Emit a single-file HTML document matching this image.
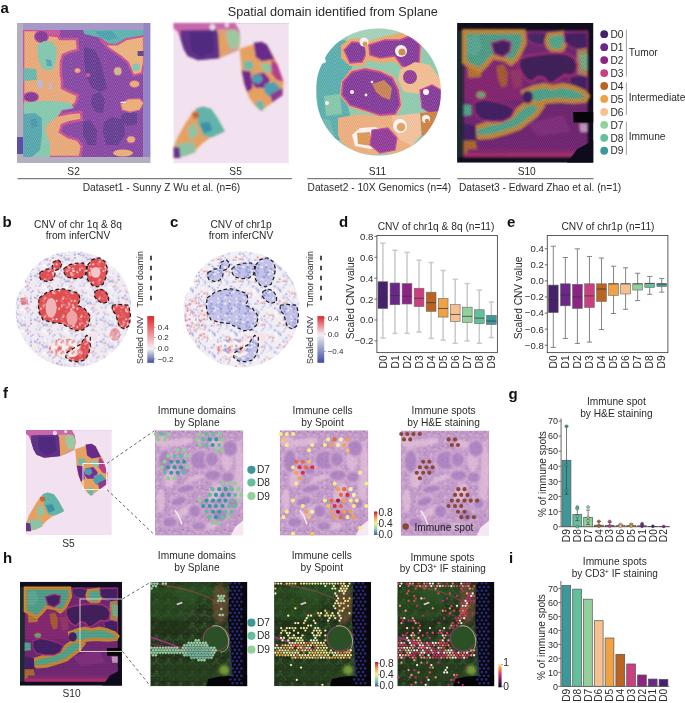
<!DOCTYPE html>
<html><head><meta charset="utf-8"><style>
html,body{margin:0;padding:0;background:#fff;}
svg{display:block;font-family:"Liberation Sans", sans-serif;}
svg{will-change:transform;}
</style></head><body>
<svg width="685" height="703" viewBox="0 0 685 703">
<rect width="685" height="703" fill="#fff"/><text x="0.5" y="13" font-size="15" text-anchor="start" font-weight="bold" fill="#111" >a</text><text x="332.8" y="16.4" font-size="12.7" text-anchor="middle" font-weight="normal" fill="#2b2b2b" >Spatial domain identified from Splane</text><defs><filter id="bl1" x="-5%" y="-5%" width="110%" height="110%"><feGaussianBlur stdDeviation="4"/></filter><filter id="bl2" x="-5%" y="-5%" width="110%" height="110%"><feGaussianBlur stdDeviation="6"/></filter><clipPath id="cS2"><rect x="10" y="15" width="647" height="678"/></clipPath><clipPath id="cS2in"><rect x="40" y="45" width="585" height="610"/></clipPath></defs><defs><pattern id="hexL" width="2.2" height="3.81" patternUnits="userSpaceOnUse"><circle cx="0" cy="0" r="0.55" fill="#f4f0f4" opacity="0.55"/><circle cx="2.2" cy="0" r="0.55" fill="#f4f0f4" opacity="0.55"/><circle cx="1.1" cy="1.905" r="0.55" fill="#f4f0f4" opacity="0.55"/><circle cx="0" cy="3.81" r="0.55" fill="#f4f0f4" opacity="0.55"/><circle cx="2.2" cy="3.81" r="0.55" fill="#f4f0f4" opacity="0.55"/></pattern><pattern id="hexD" width="10.6" height="18" patternUnits="userSpaceOnUse"><circle cx="0" cy="0" r="2.6" fill="#0c0a18" opacity="0.5"/><circle cx="10.6" cy="0" r="2.6" fill="#0c0a18" opacity="0.5"/><circle cx="5.3" cy="9" r="2.6" fill="#0c0a18" opacity="0.5"/><circle cx="0" cy="18" r="2.6" fill="#0c0a18" opacity="0.5"/><circle cx="10.6" cy="18" r="2.6" fill="#0c0a18" opacity="0.5"/></pattern></defs><defs><clipPath id="cS2a"><rect x="17" y="23" width="133.5" height="140"/></clipPath><clipPath id="cS2b"><rect x="23" y="30" width="120.5" height="127"/></clipPath></defs><g clip-path="url(#cS2a)"><g filter="url(#blA)"><polygon points="15,20 152,20 152,165 15,165" fill="#b3afc1" /><polygon points="23,23 150.5,23 150.5,30 23,30" fill="#a698c8" /><polygon points="143.5,23 150.5,23 150.5,157 143.5,157" fill="#9484c6" /><polygon points="17,137 23.5,137 23.5,154 17,154" fill="#5a50a8" /><g clip-path="url(#cS2b)"><polygon points="23,30 143.5,30 143.5,157 23,157" fill="#7e3a9c" /><polygon points="23,30 47,30 48,35 58,36 60,39 77,39 78,50 70,52 63,55 61,62 61,75 62,80 62,88 70,92 78,95 76,103 70,108 62,110 60,115 70,113 81,112 82,120 70,122 62,125 60,132 68,137 78,140 82,146 80,157 23,157" fill="#e6a26e" stroke="#c2448e" stroke-width="2.6"/><polygon points="47,30 60,30 60,35 48,35" fill="#c04a94" /><ellipse cx="41.5" cy="36.5" rx="7" ry="6" fill="#7a2c8c" stroke="#c04a94" stroke-width="1.2"/><polygon points="37.4,45 44,41 52,42 56.6,48 56,60 54,68 48,71 42,68 38,58" fill="#78c2a8" /><polygon points="46,59 51,60 52,66 47,66" fill="#4a9cb0" /><polygon points="23.5,68 36.3,69 37,80 23.5,81" fill="#5eb2a8" /><polygon points="37.4,80 42.7,80 42.7,88 37.4,88" fill="#b8b2cc" /><polygon points="49,83 52,83 52,89 49,89" fill="#b8b2cc" /><ellipse cx="31" cy="97" rx="7.5" ry="5" fill="#7a2c8c" stroke="#c04a94" stroke-width="1.2"/><polygon points="23.5,103 40,101 55,101 70,103 74,108 62,110 58,116 50,122 45,128 47,136 50,143 50,157 23.5,157" fill="#7cc4a8" /><polygon points="23.5,114 35,113 41.7,118 42,135 40,150 32,157 23.5,157" fill="#4aa0a8" /><polygon points="30,120 36,118 38,126 32,128" fill="#3c90a8" /><polygon points="83,29.6 144,29.6 144,36 125.9,39.2 117.3,44.5 107.7,44.5 101.3,38.1 84.3,33.9" fill="#52aca8" /><polygon points="95,31 112,31 118,38 108,40 98,35" fill="#3e9ca8" /><polygon points="99.2,38.1 107.7,44.5 117.3,44.5 125.9,39.2 144,36 144,62.7 141.9,73.3 133.3,75.5 128,62.7 120.5,56.3 107.7,47.7" fill="#e8ac74" stroke="#c2448e" stroke-width="2.2"/><ellipse cx="136" cy="67.3" rx="4" ry="3.8" fill="#78c2a8"/><ellipse cx="117.8" cy="71.2" rx="4" ry="4.2" fill="#e8a86c" stroke="#c04a94" stroke-width="0.8"/><circle cx="117.8" cy="71.2" r="2" fill="#8cc8a8"/><polygon points="84,47 95,50 100,60 104,75 107,89 100,92 92,88 86,75 84,60" fill="#5a3088" /><polygon points="92,95 100,92 105,100 103,113 96,112 91,104" fill="#5a3088" /><polygon points="83,122 90,120 97,130 96,145 88,145 83,135" fill="#5a3088" /><polygon points="104,122 112,117 124,120 125,135 118,145 106,145 103,132" fill="#5a3088" /><polygon points="121,115 130,111 137,113 137,124 128,126 121,122" fill="#5a3088" /><polygon points="137.6,51 144,51 144,56 137.6,56" fill="#5a3088" /><polygon points="120.5,104 128,99 140,98.5 144,103 140,110 130,112.4 122,110" fill="#e8a86c" stroke="#c04a94" stroke-width="1.2"/><polygon points="120.5,101.7 126,101.7 126,102.9 120.5,102.9" fill="#f4f0f4" /><ellipse cx="131" cy="139.5" rx="4.2" ry="3.5" fill="#e8a86c" stroke="#c04a94" stroke-width="0.8"/><ellipse cx="123" cy="153" rx="10" ry="3.5" fill="#e8a86c"/><ellipse cx="134.5" cy="84" rx="5" ry="3.5" fill="#e8a86c" stroke="#c04a94" stroke-width="0.8"/><ellipse cx="88" cy="75" rx="2.5" ry="2" fill="#c04a94"/><ellipse cx="77.5" cy="70.5" rx="3" ry="2.6" fill="#e8a86c" stroke="#c04a94" stroke-width="0.8"/><rect x="15" y="20" width="137" height="145" fill="url(#hexL)"/></g></g></g><defs><g id="artS5"><g transform="translate(165 20) scale(0.2061)"><polygon points="42,15 600,15 600,695 42,695" fill="#f2e1ee" /><line x1="330" y1="17" x2="600" y2="17" stroke="#c6b6dc" stroke-width="4" stroke-dasharray="6,8"/><g filter="url(#bl1)"><polygon points="42,15 340,15 360,50 365,100 355,145 300,170 250,185 160,195 110,175 90,140 75,90 60,55 42,40" fill="#c862a8" /><polygon points="75,50 250,45 270,100 265,185 160,195 110,175 90,140 75,90" fill="#5e3088" /><polygon points="120,60 230,60 240,150 180,180 130,150" fill="#4f2a7e" /><polygon points="250,45 340,40 365,80 360,140 300,170 265,185 270,100" fill="#dca07e" /><polygon points="300,50 350,50 365,90 355,135 320,140 300,100" fill="#9cc8a0" /><polygon points="258,70 295,70 300,160 265,180" fill="#e8a060" /><polygon points="42,15 340,15 345,45 250,45 75,50 60,55 42,40" fill="#c868ac" /><circle cx="230" cy="35" r="14" fill="#efd8ec"/><circle cx="300" cy="25" r="10" fill="#efd8ec"/><polygon points="362,140 470,105 495,120 540,200 575,300 570,365 465,440 440,420 410,380 380,300 372,250" fill="#e6a062" /><polygon points="430,110 470,105 495,120 530,190 470,200 440,180" fill="#6a2c8c" /><polygon points="372,245 415,250 425,330 400,350 385,310" fill="#6f2c8e" /><polygon points="430,265 480,255 510,290 490,330 440,330 420,300" fill="#7a2e90" /><polygon points="520,190 545,215 575,300 540,290 510,250" fill="#b83c8c" /><polygon points="380,200 425,200 430,240 385,240" fill="#6fbaa8" /><polygon points="425,265 465,265 475,290 455,310 425,300" fill="#4a9fb0" /><polygon points="485,310 530,300 560,330 545,370 500,370 480,345" fill="#4f9fb0" /><polygon points="440,395 475,390 480,435 465,440 445,420" fill="#6ab8a8" /><polygon points="460,210 510,215 520,250 480,255" fill="#8ec4a0" /><polygon points="510,360 570,330 570,365 520,400" fill="#8a3a92" /><polygon points="42,620 60,570 100,500 140,440 180,420 220,430 250,470 290,540 270,550 220,570 180,600 140,640 100,660 60,665 42,670" fill="#e6a062" /><polygon points="150,430 185,420 225,432 255,475 290,540 270,550 225,570 185,560 160,500" fill="#62b3aa" /><polygon points="170,500 215,495 230,535 190,550" fill="#3d90aa" /><polygon points="110,520 150,500 160,560 120,580" fill="#8dc4a2" /><polygon points="60,600 140,590 150,640 100,660 60,665" fill="#8ec2a2" /><polygon points="42,615 70,620 75,670 42,670" fill="#6a3090" /><polygon points="130,450 160,445 170,470 140,480" fill="#c06840" /></g></g></defs><use href="#artS5"/><defs><clipPath id="cS11a"><path d="M378.3,28.6 C414,28.6 441,57 441,92 C441,127 414,155.5 378.3,155.5 C343,155.5 316,127 316,92 C316,80 318,72 322,64 L326,62 L325,58 C335,40 355,28.6 378.3,28.6 Z"/></clipPath></defs><g clip-path="url(#cS11a)"><g filter="url(#blA)"><polygon points="310,25 446,25 446,160 310,160" fill="#86c6a8" /><polygon points="347,29 405,29 405,41 347,41" fill="#9ccdb2" /><polygon points="316,60 330,42 345,40 355,55 350,75 345,95 350,115 345,140 330,140 318,120" fill="#4fa8a8" /><polygon points="324,96 340,94 342,114 326,116" fill="#7cc2a4" /><polygon points="318,118 330,120 335,138 322,136" fill="#62b4a8" /><polygon points="341,45 350,39 362,38 371,46 369,58 364,66 350,66 341,58" fill="#e8a262" /><polygon points="344,50 352,42 362,43 367,52 362,62 350,63" fill="#792e90" stroke="#c23c8c" stroke-width="1.4"/><polygon points="365,42 386,36 400,33 414,33 422,44 421,62 416,70 404,70 395,62 380,63 366,60" fill="#e8a262" /><polygon points="369,45 385,40 400,40 410,36 420,45 419,62 412,68 402,66 395,56 380,58 370,55" fill="#7c2e92" stroke="#c23c8c" stroke-width="1.6"/><polygon points="400,70 415,62 430,65 441,80 441,95 428,98 420,94 404,92 398,80" fill="#f0b888" /><polygon points="341,82 350,70 365,67 381,70 394,76 400,88 402,106 396,116 380,117 364,112 349,107 340,96" fill="#e8a262" /><polygon points="343,82 352,72 365,69 380,72 392,78 398,90 400,105 395,114 380,115 365,110 350,105 342,95" fill="#7a2e90" stroke="#c23c8c" stroke-width="1.8"/><polygon points="372,84 384,80 392,88 390,100 382,97 376,92" fill="#c27a4a" /><ellipse cx="410" cy="77" rx="7" ry="7" fill="#8a3090"/><polygon points="420,90 432,85 441,90 441,110 432,114 422,108" fill="#7a2e90" stroke="#c23c8c" stroke-width="1.2"/><polygon points="420,113 440,111 438,135 422,136" fill="#c87838" /><polygon points="338,118 360,114 380,117 400,116 420,113 421,135 410,148 395,153 370,155 345,150 338,135" fill="#eaa874" /><polygon points="392,116 420,113 421,135 412,146 400,140 394,128" fill="#f0bc94" /><polygon points="338,140 352,150 366,156 340,156" fill="#7cc2a4" /><polygon points="352,135 360,128 375,127 388,132 391,140 385,147 370,149 355,146" fill="#faf2ee" /><polygon points="357,133 370,132 372,146 358,144" fill="#d89048" /><polygon points="372,130 388,128 397,138 395,150 380,153 370,145" fill="#8a2e90" stroke="#c23c8c" stroke-width="1.2"/></g><circle cx="364" cy="42" r="4.5" fill="#fbf4f2"/><circle cx="365" cy="44" r="2.4" fill="#d88a48"/><circle cx="401" cy="51" r="6" fill="#fbf4f2"/><circle cx="402" cy="52" r="3.6" fill="#c88048"/><circle cx="352" cy="92" r="2" fill="#f8f0f0"/><circle cx="366" cy="95" r="1.4" fill="#f8f0f0"/><circle cx="372" cy="82" r="1.3" fill="#f8f0f0"/><circle cx="426" cy="92" r="3" fill="#fbf4f2"/><circle cx="426" cy="119" r="4" fill="#fbf4f2"/><circle cx="427" cy="121" r="2.2" fill="#c87838"/><circle cx="400" cy="126" r="7" fill="#fbf4f2"/><circle cx="401" cy="127" r="4.3" fill="#e09a58"/><circle cx="327" cy="103" r="2" fill="#f4f4f4"/><rect x="310" y="25" width="136" height="135" fill="url(#hexL)"/></g><defs><clipPath id="cS10z"><rect x="10" y="5" width="658" height="660"/></clipPath></defs><defs><g id="artS10"><g transform="translate(455 22) scale(0.2073 0.2115)"><g clip-path="url(#cS10z)"><polygon points="10,5 668,5 668,665 10,665" fill="#100e1e" /><polygon points="10,40 40,40 40,640 10,640" fill="#1e2a30" /><g filter="url(#bl1)"><polygon points="40,40 640,40 640,640 40,640" fill="#782a78" /><polygon points="45,180 320,180 330,370 45,370" fill="#8e2a78" /><polygon points="60,210 120,205 125,260 65,265" fill="#c27a34" /><polygon points="200,210 235,200 255,240 250,300 225,310 208,270" fill="#b46038" /><polygon points="265,230 315,225 325,300 285,320" fill="#a03a6c" /><polygon points="45,45 330,45 335,100 300,170 270,195 240,175 180,165 150,200 120,230 80,210 45,190" fill="#56aa90" stroke="#d0903a" stroke-width="22"/><polygon points="60,70 110,60 130,120 100,160 60,150" fill="#62b49e" /><polygon points="175,100 230,85 270,95 265,140 230,165 190,150" fill="#4c2468" stroke="#a83080" stroke-width="8"/><polygon points="345,50 400,45 450,55 445,100 410,110 370,100 350,80" fill="#4c2a6c" stroke="#a83080" stroke-width="6"/><polygon points="450,60 520,50 540,80 520,130 480,140 450,120 440,90" fill="#5ab294" stroke="#d0903a" stroke-width="18"/><polygon points="525,50 640,45 640,120 600,130 560,120 530,95" fill="#4a2468" stroke="#a83080" stroke-width="6"/><polygon points="590,130 640,125 640,270 595,265 585,200" fill="#b88a5a" /><polygon points="600,150 640,150 640,230 610,220" fill="#7ab890" /><polygon points="310,175 350,160 420,150 480,145 540,150 575,170 590,200 585,240 560,255 530,250 500,270 470,290 450,290 430,265 400,260 370,285 340,270 320,240 305,210" fill="#44205e" stroke="#b03080" stroke-width="10"/><polygon points="550,260 600,250 640,260 640,340 600,345 560,320" fill="#46226a" stroke="#a83080" stroke-width="6"/><polygon points="330,330 380,310 430,300 470,310 520,300 570,310 620,330 640,350 630,370 570,375 500,370 440,375 400,390 370,380 340,370" fill="#56ae92" stroke="#d0903a" stroke-width="22"/><polygon points="380,380 420,400 390,440 350,470 310,500 250,520 180,540 120,545 90,530 100,500 160,480 220,470 270,450 310,410 340,390" fill="#56ae92" stroke="#d0903a" stroke-width="22"/><polygon points="90,380 140,365 200,375 250,390 290,410 270,450 230,470 170,470 120,460 95,430" fill="#46226a" stroke="#a83080" stroke-width="8"/><ellipse cx="350" cy="355" rx="26" ry="30" fill="#46226a"/><ellipse cx="125" cy="345" rx="20" ry="14" fill="#5ab294" stroke="#c88a38" stroke-width="6"/><polygon points="40,480 100,490 105,580 40,590" fill="#46226a" /><polygon points="40,390 78,392 80,440 40,445" fill="#5aae92" /><polygon points="40,560 100,560 110,625 40,630" fill="#b8702e" /><polygon points="110,560 640,545 640,635 110,635" fill="#7a2a7a" /><polygon points="60,600 640,600 640,635 60,635" fill="#8c2c7a" /><polygon points="350,480 520,440 560,520 400,540" fill="#8a3286" /><polygon points="40,620 640,618 640,640 40,640" fill="#b0306e" /><polygon points="600,480 640,480 640,520 605,520" fill="#d0a0c8" /></g><rect x="40" y="40" width="600" height="600" fill="url(#hexD)" transform="scale(1)"/><polygon points="570,425 668,425 668,475 572,475" fill="#060608" /><polygon points="590,600 668,560 668,665 540,665" fill="#0e0c1c" /></g></g></g></defs><use href="#artS10"/><text x="73.6" y="175.2" font-size="10.2" text-anchor="middle" font-weight="normal" fill="#2b2b2b" >S2</text><text x="235.6" y="175.2" font-size="10.2" text-anchor="middle" font-weight="normal" fill="#2b2b2b" >S5</text><text x="377.5" y="175.2" font-size="10.2" text-anchor="middle" font-weight="normal" fill="#2b2b2b" >S11</text><text x="526.7" y="175.2" font-size="10.2" text-anchor="middle" font-weight="normal" fill="#2b2b2b" >S10</text><line x1="17.5" y1="178.7" x2="292" y2="178.7" stroke="#333" stroke-width="0.8" /><line x1="307.3" y1="178.7" x2="440.5" y2="178.7" stroke="#333" stroke-width="0.8" /><line x1="457.3" y1="178.7" x2="593.5" y2="178.7" stroke="#333" stroke-width="0.8" /><text x="161.5" y="191" font-size="10.2" text-anchor="middle" font-weight="normal" fill="#2b2b2b" >Dataset1 - Sunny Z Wu et al. (n=6)</text><text x="307.6" y="191" font-size="10.2" text-anchor="start" font-weight="normal" fill="#2b2b2b" >Dataset2 - 10X Genomics (n=4)</text><text x="459" y="191" font-size="10.2" text-anchor="start" font-weight="normal" fill="#2b2b2b" >Dataset3 - Edward Zhao et al. (n=1)</text><circle cx="604.2" cy="34.20" r="3.9" fill="#46226c"/><text x="610.5" y="37.900000000000006" font-size="10.2" text-anchor="start" font-weight="normal" fill="#2b2b2b" >D0</text><circle cx="604.2" cy="47.15" r="3.9" fill="#6b2788"/><text x="610.5" y="50.85000000000001" font-size="10.2" text-anchor="start" font-weight="normal" fill="#2b2b2b" >D1</text><circle cx="604.2" cy="60.10" r="3.9" fill="#8b2483"/><text x="610.5" y="63.800000000000004" font-size="10.2" text-anchor="start" font-weight="normal" fill="#2b2b2b" >D2</text><circle cx="604.2" cy="73.05" r="3.9" fill="#c9407f"/><text x="610.5" y="76.75" font-size="10.2" text-anchor="start" font-weight="normal" fill="#2b2b2b" >D3</text><circle cx="604.2" cy="86.00" r="3.9" fill="#bb6322"/><text x="610.5" y="89.7" font-size="10.2" text-anchor="start" font-weight="normal" fill="#2b2b2b" >D4</text><circle cx="604.2" cy="98.95" r="3.9" fill="#eea243"/><text x="610.5" y="102.65" font-size="10.2" text-anchor="start" font-weight="normal" fill="#2b2b2b" >D5</text><circle cx="604.2" cy="111.90" r="3.9" fill="#f5c190"/><text x="610.5" y="115.6" font-size="10.2" text-anchor="start" font-weight="normal" fill="#2b2b2b" >D6</text><circle cx="604.2" cy="124.85" r="3.9" fill="#93d09a"/><text x="610.5" y="128.54999999999998" font-size="10.2" text-anchor="start" font-weight="normal" fill="#2b2b2b" >D7</text><circle cx="604.2" cy="137.80" r="3.9" fill="#62c19a"/><text x="610.5" y="141.5" font-size="10.2" text-anchor="start" font-weight="normal" fill="#2b2b2b" >D8</text><circle cx="604.2" cy="150.75" r="3.9" fill="#3d9899"/><text x="610.5" y="154.45" font-size="10.2" text-anchor="start" font-weight="normal" fill="#2b2b2b" >D9</text><line x1="626.4" y1="29.6" x2="626.4" y2="76.5" stroke="#999" stroke-width="0.9" /><line x1="626.4" y1="82.5" x2="626.4" y2="115" stroke="#999" stroke-width="0.9" /><line x1="626.4" y1="121.5" x2="626.4" y2="155" stroke="#999" stroke-width="0.9" /><text x="628.7" y="56" font-size="10.2" text-anchor="start" font-weight="normal" fill="#2b2b2b" >Tumor</text><text x="628.7" y="101" font-size="10.2" text-anchor="start" font-weight="normal" fill="#2b2b2b" >Intermediate</text><text x="628.7" y="140" font-size="10.2" text-anchor="start" font-weight="normal" fill="#2b2b2b" >Immune</text><text x="2.5" y="227" font-size="15" text-anchor="start" font-weight="bold" fill="#111" >b</text><text x="78" y="227.5" font-size="10.2" text-anchor="middle" font-weight="normal" fill="#2b2b2b" >CNV of chr 1q &amp; 8q</text><text x="78" y="239" font-size="10.2" text-anchor="middle" font-weight="normal" fill="#2b2b2b" >from inferCNV</text><text x="170" y="227" font-size="15" text-anchor="start" font-weight="bold" fill="#111" >c</text><text x="241" y="227.5" font-size="10.2" text-anchor="middle" font-weight="normal" fill="#2b2b2b" >CNV of chr1p</text><text x="241" y="239" font-size="10.2" text-anchor="middle" font-weight="normal" fill="#2b2b2b" >from inferCNV</text><defs><clipPath id="cCNV"><path d="M348,34 C520,34 666,170 666,352 C666,530 520,670 348,670 C170,670 30,530 30,352 C30,300 45,260 70,230 L90,220 L80,200 C130,90 240,34 348,34 Z"/></clipPath><pattern id="pb1" width="120" height="120" patternUnits="userSpaceOnUse"><rect width="120" height="120" fill="#f0ebf2"/><rect x="30" y="75" width="9" height="9" fill="#ffffff"/><rect x="16" y="47" width="9" height="9" fill="#ffffff"/><rect x="80" y="74" width="9" height="9" fill="#a8a8de"/><rect x="77" y="1" width="9" height="9" fill="#ffffff"/><rect x="33" y="70" width="9" height="9" fill="#f4ccd0"/><rect x="24" y="91" width="9" height="9" fill="#ffffff"/><rect x="69" y="107" width="9" height="9" fill="#ffffff"/><rect x="60" y="50" width="9" height="9" fill="#d0d0f0"/><rect x="29" y="81" width="9" height="9" fill="#d0d0f0"/><rect x="111" y="66" width="9" height="9" fill="#9aa0d8"/><rect x="94" y="1" width="9" height="9" fill="#a8a8de"/><rect x="20" y="97" width="9" height="9" fill="#bcbce6"/><rect x="38" y="99" width="9" height="9" fill="#bcbce6"/><rect x="105" y="110" width="9" height="9" fill="#eeb0b6"/><rect x="60" y="76" width="9" height="9" fill="#9aa0d8"/><rect x="91" y="100" width="9" height="9" fill="#9aa0d8"/><rect x="50" y="93" width="9" height="9" fill="#ffffff"/><rect x="17" y="46" width="9" height="9" fill="#a8a8de"/><rect x="4" y="17" width="9" height="9" fill="#ffffff"/><rect x="27" y="33" width="9" height="9" fill="#9aa0d8"/><rect x="99" y="80" width="9" height="9" fill="#eeb0b6"/><rect x="53" y="64" width="9" height="9" fill="#9aa0d8"/><rect x="73" y="44" width="9" height="9" fill="#ffffff"/><rect x="74" y="52" width="9" height="9" fill="#f4ccd0"/><rect x="43" y="87" width="9" height="9" fill="#bcbce6"/><rect x="109" y="35" width="9" height="9" fill="#d0d0f0"/><rect x="89" y="110" width="9" height="9" fill="#dcdcf4"/><rect x="69" y="73" width="9" height="9" fill="#a8a8de"/><rect x="91" y="83" width="9" height="9" fill="#f4ccd0"/><rect x="81" y="106" width="9" height="9" fill="#eeb0b6"/><rect x="36" y="15" width="9" height="9" fill="#a8a8de"/><rect x="61" y="109" width="9" height="9" fill="#ffffff"/><rect x="11" y="44" width="9" height="9" fill="#a8a8de"/><rect x="52" y="19" width="9" height="9" fill="#bcbce6"/><rect x="37" y="54" width="9" height="9" fill="#9aa0d8"/><rect x="111" y="15" width="9" height="9" fill="#bcbce6"/><rect x="77" y="78" width="9" height="9" fill="#bcbce6"/><rect x="48" y="91" width="9" height="9" fill="#dcdcf4"/><rect x="70" y="35" width="9" height="9" fill="#ffffff"/><rect x="30" y="4" width="9" height="9" fill="#eeb0b6"/><rect x="0" y="9" width="9" height="9" fill="#a8a8de"/><rect x="76" y="68" width="9" height="9" fill="#bcbce6"/><rect x="25" y="52" width="9" height="9" fill="#eeb0b6"/><rect x="78" y="33" width="9" height="9" fill="#d0d0f0"/><rect x="88" y="5" width="9" height="9" fill="#dcdcf4"/><rect x="40" y="46" width="9" height="9" fill="#d0d0f0"/><rect x="110" y="48" width="9" height="9" fill="#9aa0d8"/><rect x="58" y="111" width="9" height="9" fill="#ffffff"/></pattern><pattern id="pb2" width="100" height="100" patternUnits="userSpaceOnUse"><rect width="100" height="100" fill="#e04e52"/><rect x="79" y="32" width="9" height="9" fill="#f6d0d2"/><rect x="88" y="83" width="9" height="9" fill="#ffffff"/><rect x="3" y="59" width="9" height="9" fill="#e47a7e"/><rect x="83" y="6" width="9" height="9" fill="#e47a7e"/><rect x="14" y="47" width="9" height="9" fill="#dc4a50"/><rect x="31" y="48" width="9" height="9" fill="#ffffff"/><rect x="13" y="73" width="9" height="9" fill="#e47a7e"/><rect x="1" y="27" width="9" height="9" fill="#dc4a50"/><rect x="35" y="23" width="9" height="9" fill="#dc4a50"/><rect x="20" y="9" width="9" height="9" fill="#e47a7e"/><rect x="79" y="79" width="9" height="9" fill="#dc4a50"/><rect x="16" y="16" width="9" height="9" fill="#f0a8ac"/><rect x="0" y="26" width="9" height="9" fill="#e47a7e"/><rect x="21" y="21" width="9" height="9" fill="#f6d0d2"/><rect x="40" y="25" width="9" height="9" fill="#ffffff"/><rect x="86" y="80" width="9" height="9" fill="#e47a7e"/><rect x="23" y="88" width="9" height="9" fill="#e47a7e"/><rect x="49" y="38" width="9" height="9" fill="#f0a8ac"/><rect x="46" y="53" width="9" height="9" fill="#e47a7e"/><rect x="18" y="33" width="9" height="9" fill="#f0a8ac"/><rect x="42" y="38" width="9" height="9" fill="#ffffff"/><rect x="75" y="0" width="9" height="9" fill="#ffffff"/><rect x="86" y="90" width="9" height="9" fill="#f6d0d2"/><rect x="8" y="39" width="9" height="9" fill="#f6d0d2"/><rect x="39" y="61" width="9" height="9" fill="#f6d0d2"/><rect x="23" y="61" width="9" height="9" fill="#dc4a50"/><rect x="90" y="22" width="9" height="9" fill="#f0a8ac"/><rect x="32" y="2" width="9" height="9" fill="#f6d0d2"/><rect x="51" y="2" width="9" height="9" fill="#ffffff"/><rect x="53" y="46" width="9" height="9" fill="#dc4a50"/><rect x="74" y="1" width="9" height="9" fill="#dc4a50"/><rect x="5" y="90" width="9" height="9" fill="#e47a7e"/><rect x="79" y="25" width="9" height="9" fill="#f0a8ac"/><rect x="31" y="59" width="9" height="9" fill="#f6d0d2"/><rect x="65" y="45" width="9" height="9" fill="#ffffff"/><rect x="32" y="59" width="9" height="9" fill="#f0a8ac"/></pattern><pattern id="pc1" width="120" height="120" patternUnits="userSpaceOnUse"><rect width="120" height="120" fill="#f1eef4"/><rect x="59" y="78" width="9" height="9" fill="#9ca0d8"/><rect x="34" y="17" width="9" height="9" fill="#f4c8cc"/><rect x="110" y="86" width="9" height="9" fill="#c8c8ec"/><rect x="43" y="64" width="9" height="9" fill="#f4f4f6"/><rect x="77" y="10" width="9" height="9" fill="#9ca0d8"/><rect x="70" y="78" width="9" height="9" fill="#c8c8ec"/><rect x="93" y="48" width="9" height="9" fill="#f4c8cc"/><rect x="90" y="57" width="9" height="9" fill="#ffffff"/><rect x="20" y="21" width="9" height="9" fill="#e88080"/><rect x="6" y="14" width="9" height="9" fill="#f4c8cc"/><rect x="64" y="111" width="9" height="9" fill="#b0b0e0"/><rect x="99" y="88" width="9" height="9" fill="#ffffff"/><rect x="101" y="95" width="9" height="9" fill="#b0b0e0"/><rect x="37" y="26" width="9" height="9" fill="#e88080"/><rect x="92" y="101" width="9" height="9" fill="#ffffff"/><rect x="11" y="98" width="9" height="9" fill="#dcdcf4"/><rect x="26" y="50" width="9" height="9" fill="#dcdcf4"/><rect x="43" y="103" width="9" height="9" fill="#c8c8ec"/><rect x="25" y="90" width="9" height="9" fill="#c8c8ec"/><rect x="52" y="7" width="9" height="9" fill="#ffffff"/><rect x="108" y="62" width="9" height="9" fill="#f4c8cc"/><rect x="3" y="30" width="9" height="9" fill="#ffffff"/><rect x="94" y="108" width="9" height="9" fill="#b0b0e0"/><rect x="76" y="0" width="9" height="9" fill="#b0b0e0"/><rect x="97" y="74" width="9" height="9" fill="#e88080"/><rect x="109" y="25" width="9" height="9" fill="#9ca0d8"/><rect x="1" y="10" width="9" height="9" fill="#f4c8cc"/><rect x="69" y="2" width="9" height="9" fill="#b0b0e0"/><rect x="73" y="63" width="9" height="9" fill="#e88080"/><rect x="53" y="8" width="9" height="9" fill="#ffffff"/><rect x="24" y="81" width="9" height="9" fill="#b0b0e0"/><rect x="89" y="74" width="9" height="9" fill="#f4c8cc"/><rect x="22" y="77" width="9" height="9" fill="#c8c8ec"/><rect x="6" y="34" width="9" height="9" fill="#f4c8cc"/><rect x="95" y="34" width="9" height="9" fill="#c8c8ec"/><rect x="15" y="111" width="9" height="9" fill="#ffffff"/><rect x="30" y="20" width="9" height="9" fill="#c8c8ec"/><rect x="94" y="46" width="9" height="9" fill="#b0b0e0"/><rect x="111" y="44" width="9" height="9" fill="#b0b0e0"/><rect x="110" y="74" width="9" height="9" fill="#9ca0d8"/><rect x="57" y="26" width="9" height="9" fill="#ffffff"/><rect x="25" y="73" width="9" height="9" fill="#c8c8ec"/><rect x="48" y="102" width="9" height="9" fill="#9ca0d8"/><rect x="0" y="55" width="9" height="9" fill="#b0b0e0"/><rect x="27" y="28" width="9" height="9" fill="#f4f4f6"/><rect x="34" y="41" width="9" height="9" fill="#b0b0e0"/><rect x="39" y="80" width="9" height="9" fill="#dcdcf4"/><rect x="13" y="66" width="9" height="9" fill="#c8c8ec"/></pattern><pattern id="pc2" width="100" height="100" patternUnits="userSpaceOnUse"><rect width="100" height="100" fill="#c4c2e8"/><rect x="33" y="37" width="9" height="9" fill="#b8b8e4"/><rect x="87" y="23" width="9" height="9" fill="#b8b8e4"/><rect x="29" y="85" width="9" height="9" fill="#9094d6"/><rect x="28" y="82" width="9" height="9" fill="#b8b8e4"/><rect x="23" y="16" width="9" height="9" fill="#a4a8dc"/><rect x="68" y="27" width="9" height="9" fill="#b8b8e4"/><rect x="37" y="3" width="9" height="9" fill="#7c84c8"/><rect x="16" y="87" width="9" height="9" fill="#ececf8"/><rect x="1" y="35" width="9" height="9" fill="#ffffff"/><rect x="18" y="10" width="9" height="9" fill="#ffffff"/><rect x="33" y="57" width="9" height="9" fill="#b8b8e4"/><rect x="55" y="17" width="9" height="9" fill="#ffffff"/><rect x="32" y="45" width="9" height="9" fill="#ffffff"/><rect x="29" y="62" width="9" height="9" fill="#ffffff"/><rect x="70" y="72" width="9" height="9" fill="#7c84c8"/><rect x="85" y="46" width="9" height="9" fill="#7c84c8"/><rect x="81" y="40" width="9" height="9" fill="#b8b8e4"/><rect x="15" y="44" width="9" height="9" fill="#ffffff"/><rect x="76" y="81" width="9" height="9" fill="#d0d0f0"/><rect x="88" y="57" width="9" height="9" fill="#ececf8"/><rect x="78" y="17" width="9" height="9" fill="#7c84c8"/><rect x="86" y="56" width="9" height="9" fill="#ececf8"/><rect x="22" y="37" width="9" height="9" fill="#9094d6"/><rect x="22" y="66" width="9" height="9" fill="#d0d0f0"/><rect x="32" y="47" width="9" height="9" fill="#7c84c8"/><rect x="33" y="77" width="9" height="9" fill="#d0d0f0"/><rect x="50" y="16" width="9" height="9" fill="#ececf8"/><rect x="62" y="70" width="9" height="9" fill="#9094d6"/><rect x="72" y="30" width="9" height="9" fill="#9094d6"/><rect x="89" y="46" width="9" height="9" fill="#9094d6"/><rect x="9" y="55" width="9" height="9" fill="#b8b8e4"/><rect x="80" y="59" width="9" height="9" fill="#7c84c8"/><rect x="0" y="54" width="9" height="9" fill="#ffffff"/><rect x="5" y="28" width="9" height="9" fill="#9094d6"/><rect x="63" y="89" width="9" height="9" fill="#ffffff"/><rect x="56" y="81" width="9" height="9" fill="#d0d0f0"/><rect x="20" y="52" width="9" height="9" fill="#b8b8e4"/><rect x="32" y="44" width="9" height="9" fill="#9094d6"/><rect x="90" y="80" width="9" height="9" fill="#d0d0f0"/><rect x="66" y="91" width="9" height="9" fill="#b8b8e4"/><rect x="17" y="90" width="9" height="9" fill="#ececf8"/><rect x="30" y="63" width="9" height="9" fill="#9094d6"/><rect x="79" y="5" width="9" height="9" fill="#ececf8"/><rect x="89" y="75" width="9" height="9" fill="#a4a8dc"/><rect x="45" y="74" width="9" height="9" fill="#b8b8e4"/><rect x="72" y="43" width="9" height="9" fill="#9094d6"/><rect x="37" y="24" width="9" height="9" fill="#9094d6"/><rect x="87" y="71" width="9" height="9" fill="#a4a8dc"/><rect x="28" y="21" width="9" height="9" fill="#a4a8dc"/><rect x="54" y="82" width="9" height="9" fill="#ececf8"/></pattern><pattern id="pcr" width="80" height="80" patternUnits="userSpaceOnUse"><rect x="37" y="10" width="9" height="9" fill="#e86a6e"/><rect x="39" y="54" width="9" height="9" fill="#f4c0c4"/><rect x="67" y="45" width="9" height="9" fill="#f0a0a4"/><rect x="24" y="34" width="9" height="9" fill="#f4c0c4"/><rect x="1" y="28" width="9" height="9" fill="#c8c8ec"/><rect x="58" y="3" width="9" height="9" fill="#e86a6e"/><rect x="10" y="63" width="9" height="9" fill="#f4c0c4"/><rect x="2" y="65" width="9" height="9" fill="#f4c0c4"/><rect x="45" y="7" width="9" height="9" fill="#f0a0a4"/><rect x="4" y="47" width="9" height="9" fill="#f0a0a4"/><rect x="27" y="46" width="9" height="9" fill="#c8c8ec"/><rect x="47" y="36" width="9" height="9" fill="#e04a50"/><rect x="10" y="60" width="9" height="9" fill="#f0a0a4"/><rect x="61" y="57" width="9" height="9" fill="#f0a0a4"/></pattern><pattern id="pw" width="60" height="60" patternUnits="userSpaceOnUse"><rect width="60" height="60" fill="#f6eef0"/><rect x="33" y="26" width="9" height="9" fill="#f0b8b8"/><rect x="23" y="18" width="9" height="9" fill="#e88a8a"/><rect x="49" y="45" width="9" height="9" fill="#f0b8b8"/><rect x="7" y="1" width="9" height="9" fill="#e88a8a"/><rect x="24" y="47" width="9" height="9" fill="#ffffff"/><rect x="16" y="32" width="9" height="9" fill="#f0b8b8"/><rect x="40" y="43" width="9" height="9" fill="#ffffff"/><rect x="8" y="35" width="9" height="9" fill="#e05a5a"/><rect x="8" y="50" width="9" height="9" fill="#e88a8a"/><rect x="9" y="45" width="9" height="9" fill="#e88a8a"/><rect x="21" y="34" width="9" height="9" fill="#e05a5a"/><rect x="45" y="40" width="9" height="9" fill="#e05a5a"/><rect x="19" y="26" width="9" height="9" fill="#e05a5a"/><rect x="32" y="30" width="9" height="9" fill="#e88a8a"/><rect x="43" y="51" width="9" height="9" fill="#ffffff"/><rect x="32" y="21" width="9" height="9" fill="#e05a5a"/><rect x="27" y="23" width="9" height="9" fill="#e05a5a"/><rect x="48" y="47" width="9" height="9" fill="#f0b8b8"/><rect x="3" y="30" width="9" height="9" fill="#f0b8b8"/><rect x="37" y="49" width="9" height="9" fill="#e05a5a"/><rect x="25" y="15" width="9" height="9" fill="#e05a5a"/><rect x="35" y="13" width="9" height="9" fill="#e88a8a"/><rect x="33" y="23" width="9" height="9" fill="#e05a5a"/><rect x="17" y="4" width="9" height="9" fill="#f0b8b8"/><rect x="12" y="47" width="9" height="9" fill="#e88a8a"/></pattern><pattern id="pw2" width="60" height="60" patternUnits="userSpaceOnUse"><rect width="60" height="60" fill="#f4eef2"/><rect x="43" y="2" width="9" height="9" fill="#ffffff"/><rect x="7" y="32" width="9" height="9" fill="#8a8ed4"/><rect x="25" y="22" width="9" height="9" fill="#ffffff"/><rect x="18" y="37" width="9" height="9" fill="#8a8ed4"/><rect x="38" y="16" width="9" height="9" fill="#e05a5a"/><rect x="16" y="26" width="9" height="9" fill="#5a66c0"/><rect x="17" y="6" width="9" height="9" fill="#5a66c0"/><rect x="19" y="1" width="9" height="9" fill="#ffffff"/><rect x="39" y="12" width="9" height="9" fill="#e05a5a"/><rect x="12" y="7" width="9" height="9" fill="#ffffff"/><rect x="29" y="24" width="9" height="9" fill="#e05a5a"/><rect x="51" y="6" width="9" height="9" fill="#f0b8b8"/><rect x="1" y="6" width="9" height="9" fill="#ffffff"/><rect x="46" y="27" width="9" height="9" fill="#f0b8b8"/><rect x="28" y="42" width="9" height="9" fill="#5a66c0"/><rect x="36" y="32" width="9" height="9" fill="#8a8ed4"/><rect x="50" y="40" width="9" height="9" fill="#f0b8b8"/><rect x="14" y="49" width="9" height="9" fill="#ffffff"/><rect x="36" y="46" width="9" height="9" fill="#e05a5a"/><rect x="51" y="13" width="9" height="9" fill="#f0b8b8"/><rect x="12" y="8" width="9" height="9" fill="#8a8ed4"/><rect x="40" y="31" width="9" height="9" fill="#e05a5a"/><rect x="35" y="45" width="9" height="9" fill="#f0b8b8"/><rect x="0" y="29" width="9" height="9" fill="#f0b8b8"/><rect x="38" y="7" width="9" height="9" fill="#ffffff"/></pattern></defs><g transform="translate(10 245) scale(0.18248)"><g clip-path="url(#cCNV)"><rect x="0" y="0" width="685" height="685" fill="url(#pb1)"/><polygon points="165,150 200,132 230,128 235,95 262,80 285,100 275,130 250,140 245,170 230,192 200,200 170,190 160,170" fill="url(#pb2)"/><polygon points="295,130 320,110 360,100 400,98 420,120 415,160 390,180 350,185 310,175 295,150" fill="url(#pb2)"/><polygon points="425,110 450,80 490,70 520,90 535,130 525,180 510,215 480,230 450,220 425,190 420,150" fill="url(#pb2)"/><polygon points="160,290 200,260 245,245 290,240 330,250 375,265 385,300 370,330 410,350 440,390 430,440 400,465 360,470 320,450 280,430 230,425 180,410 160,370 155,330" fill="url(#pb2)"/><polygon points="465,255 490,240 520,250 540,280 540,310 510,320 480,305 462,280" fill="url(#pb2)"/><polygon points="560,330 600,325 650,330 660,380 655,440 630,460 600,450 590,420 580,380 560,360" fill="url(#pb2)"/><polygon points="310,590 350,565 385,545 405,515 420,495 440,505 440,560 430,600 410,630 370,640 330,635 305,615" fill="url(#pb2)"/><ellipse cx="470" cy="150" rx="26" ry="30" fill="#f3c6c8"/><ellipse cx="225" cy="345" rx="30" ry="55" fill="#f0b4b6"/><ellipse cx="340" cy="400" rx="30" ry="40" fill="#eea4a6"/><ellipse cx="575" cy="490" rx="30" ry="35" fill="url(#pb2)" opacity="0.45"/><polygon points="55,290 95,285 100,325 65,330" fill="url(#pb2)" opacity="0.6"/><path d="M215,560 C220,520 280,505 330,515 C370,520 395,545 390,575 C385,610 330,625 280,615 C235,608 210,590 215,560 Z" fill="url(#pw)"/><ellipse cx="452" cy="505" rx="33" ry="28" fill="#f4e4ea" stroke="#fbf6f8" stroke-width="5"/></g><polygon points="165,150 200,132 230,128 235,95 262,80 285,100 275,130 250,140 245,170 230,192 200,200 170,190 160,170" fill="none" stroke="#1a1a1a" stroke-width="6.5" stroke-dasharray="20,14"/><polygon points="295,130 320,110 360,100 400,98 420,120 415,160 390,180 350,185 310,175 295,150" fill="none" stroke="#1a1a1a" stroke-width="6.5" stroke-dasharray="20,14"/><polygon points="425,110 450,80 490,70 520,90 535,130 525,180 510,215 480,230 450,220 425,190 420,150" fill="none" stroke="#1a1a1a" stroke-width="6.5" stroke-dasharray="20,14"/><polygon points="160,290 200,260 245,245 290,240 330,250 375,265 385,300 370,330 410,350 440,390 430,440 400,465 360,470 320,450 280,430 230,425 180,410 160,370 155,330" fill="none" stroke="#1a1a1a" stroke-width="6.5" stroke-dasharray="20,14"/><polygon points="465,255 490,240 520,250 540,280 540,310 510,320 480,305 462,280" fill="none" stroke="#1a1a1a" stroke-width="6.5" stroke-dasharray="20,14"/><polygon points="560,330 600,325 650,330 660,380 655,440 630,460 600,450 590,420 580,380 560,360" fill="none" stroke="#1a1a1a" stroke-width="6.5" stroke-dasharray="20,14"/><polygon points="310,590 350,565 385,545 405,515 420,495 440,505 440,560 430,600 410,630 370,640 330,635 305,615" fill="none" stroke="#1a1a1a" stroke-width="6.5" stroke-dasharray="20,14"/></g><g transform="translate(178 245) scale(0.18248)"><g clip-path="url(#cCNV)"><rect x="0" y="0" width="685" height="685" fill="url(#pc1)"/><polygon points="165,150 200,132 230,128 235,95 262,80 285,100 275,130 250,140 245,170 230,192 200,200 170,190 160,170" fill="url(#pc2)"/><polygon points="295,130 320,110 360,100 400,98 420,120 415,160 390,180 350,185 310,175 295,150" fill="url(#pc2)"/><polygon points="425,110 450,80 490,70 520,90 535,130 525,180 510,215 480,230 450,220 425,190 420,150" fill="url(#pc2)"/><polygon points="160,290 200,260 245,245 290,240 330,250 375,265 385,300 370,330 410,350 440,390 430,440 400,465 360,470 320,450 280,430 230,425 180,410 160,370 155,330" fill="url(#pc2)"/><polygon points="465,255 490,240 520,250 540,280 540,310 510,320 480,305 462,280" fill="url(#pc2)"/><polygon points="560,330 600,325 650,330 660,380 655,440 630,460 600,450 590,420 580,380 560,360" fill="url(#pc2)"/><polygon points="310,590 350,565 385,545 405,515 420,495 440,505 440,560 430,600 410,630 370,640 330,635 305,615" fill="url(#pc2)"/><polygon points="40,300 130,280 160,420 150,520 60,500 35,420" fill="url(#pcr)"/><path d="M215,560 C220,520 280,505 330,515 C370,520 395,545 390,575 C385,610 330,625 280,615 C235,608 210,590 215,560 Z" fill="url(#pw2)"/><ellipse cx="452" cy="505" rx="33" ry="28" fill="#f4e4ea" stroke="#fbf6f8" stroke-width="5"/></g><polygon points="165,150 200,132 230,128 235,95 262,80 285,100 275,130 250,140 245,170 230,192 200,200 170,190 160,170" fill="none" stroke="#1a1a1a" stroke-width="6.5" stroke-dasharray="20,14"/><polygon points="295,130 320,110 360,100 400,98 420,120 415,160 390,180 350,185 310,175 295,150" fill="none" stroke="#1a1a1a" stroke-width="6.5" stroke-dasharray="20,14"/><polygon points="425,110 450,80 490,70 520,90 535,130 525,180 510,215 480,230 450,220 425,190 420,150" fill="none" stroke="#1a1a1a" stroke-width="6.5" stroke-dasharray="20,14"/><polygon points="160,290 200,260 245,245 290,240 330,250 375,265 385,300 370,330 410,350 440,390 430,440 400,465 360,470 320,450 280,430 230,425 180,410 160,370 155,330" fill="none" stroke="#1a1a1a" stroke-width="6.5" stroke-dasharray="20,14"/><polygon points="465,255 490,240 520,250 540,280 540,310 510,320 480,305 462,280" fill="none" stroke="#1a1a1a" stroke-width="6.5" stroke-dasharray="20,14"/><polygon points="560,330 600,325 650,330 660,380 655,440 630,460 600,450 590,420 580,380 560,360" fill="none" stroke="#1a1a1a" stroke-width="6.5" stroke-dasharray="20,14"/><polygon points="310,590 350,565 385,545 405,515 420,495 440,505 440,560 430,600 410,630 370,640 330,635 305,615" fill="none" stroke="#1a1a1a" stroke-width="6.5" stroke-dasharray="20,14"/></g><defs><linearGradient id="gb" x1="0" y1="0" x2="0" y2="1"><stop offset="0" stop-color="#e0262a"/><stop offset="0.35" stop-color="#ec8a8c"/><stop offset="0.7" stop-color="#f4f2f6"/><stop offset="1" stop-color="#3c4e9e"/></linearGradient><linearGradient id="gc" x1="0" y1="0" x2="0" y2="1"><stop offset="0" stop-color="#e0262a"/><stop offset="0.4" stop-color="#f3f0f4"/><stop offset="1" stop-color="#3c4e9e"/></linearGradient></defs><text transform="translate(143.3,279.3) rotate(-90)" font-size="8.8" text-anchor="middle" fill="#2b2b2b">Tumor doamin</text><line x1="151" y1="255.7" x2="151" y2="302" stroke="#222" stroke-width="1.6" stroke-dasharray="4.6,5.4"/><text transform="translate(143.3,340) rotate(-90)" font-size="8.8" text-anchor="middle" fill="#2b2b2b">Scaled CNV</text><rect x="147.3" y="316.1" width="6.8" height="46.7" fill="url(#gb)" /><line x1="154.10000000000002" y1="327.2" x2="155.60000000000002" y2="327.2" stroke="#666" stroke-width="0.6" /><text x="157.7" y="330.09999999999997" font-size="8" text-anchor="start" font-weight="normal" fill="#2b2b2b" >0.4</text><line x1="154.10000000000002" y1="337.5" x2="155.60000000000002" y2="337.5" stroke="#666" stroke-width="0.6" /><text x="157.7" y="340.4" font-size="8" text-anchor="start" font-weight="normal" fill="#2b2b2b" >0.2</text><line x1="154.10000000000002" y1="348.2" x2="155.60000000000002" y2="348.2" stroke="#666" stroke-width="0.6" /><text x="157.7" y="351.09999999999997" font-size="8" text-anchor="start" font-weight="normal" fill="#2b2b2b" >0.0</text><line x1="154.10000000000002" y1="358.8" x2="155.60000000000002" y2="358.8" stroke="#666" stroke-width="0.6" /><text x="157.7" y="361.7" font-size="8" text-anchor="start" font-weight="normal" fill="#2b2b2b" >−0.2</text><text transform="translate(313.3,279.3) rotate(-90)" font-size="8.8" text-anchor="middle" fill="#2b2b2b">Tumor doamin</text><line x1="321" y1="255.7" x2="321" y2="302" stroke="#222" stroke-width="1.6" stroke-dasharray="4.6,5.4"/><text transform="translate(313.3,340) rotate(-90)" font-size="8.8" text-anchor="middle" fill="#2b2b2b">Scaled CNV</text><rect x="317.4" y="316.1" width="6.8" height="46.7" fill="url(#gc)" /><line x1="324.2" y1="318" x2="325.7" y2="318" stroke="#666" stroke-width="0.6" /><text x="327.7" y="320.9" font-size="8" text-anchor="start" font-weight="normal" fill="#2b2b2b" >0.4</text><line x1="324.2" y1="334" x2="325.7" y2="334" stroke="#666" stroke-width="0.6" /><text x="327.7" y="336.9" font-size="8" text-anchor="start" font-weight="normal" fill="#2b2b2b" >0.0</text><line x1="324.2" y1="351.4" x2="325.7" y2="351.4" stroke="#666" stroke-width="0.6" /><text x="327.7" y="354.29999999999995" font-size="8" text-anchor="start" font-weight="normal" fill="#2b2b2b" >−0.4</text><text x="436" y="230" font-size="10.2" text-anchor="middle" font-weight="normal" fill="#2b2b2b" >CNV of chr1q &amp; 8q (n=11)</text><text x="339" y="227" font-size="15" text-anchor="start" font-weight="bold" fill="#111" >d</text><rect x="376.9" y="235.5" width="120.5" height="117.10000000000002" fill="none" stroke="#4a4a4a" stroke-width="0.9"/><line x1="374.4" y1="236.39999999999998" x2="376.9" y2="236.39999999999998" stroke="#4a4a4a" stroke-width="0.8" /><text x="373.4" y="239.79999999999998" font-size="9.6" text-anchor="end" font-weight="normal" fill="#2b2b2b" >0.8</text><line x1="374.4" y1="257.3" x2="376.9" y2="257.3" stroke="#4a4a4a" stroke-width="0.8" /><text x="373.4" y="260.7" font-size="9.6" text-anchor="end" font-weight="normal" fill="#2b2b2b" >0.6</text><line x1="374.4" y1="278.2" x2="376.9" y2="278.2" stroke="#4a4a4a" stroke-width="0.8" /><text x="373.4" y="281.59999999999997" font-size="9.6" text-anchor="end" font-weight="normal" fill="#2b2b2b" >0.4</text><line x1="374.4" y1="299.1" x2="376.9" y2="299.1" stroke="#4a4a4a" stroke-width="0.8" /><text x="373.4" y="302.5" font-size="9.6" text-anchor="end" font-weight="normal" fill="#2b2b2b" >0.2</text><line x1="374.4" y1="320.0" x2="376.9" y2="320.0" stroke="#4a4a4a" stroke-width="0.8" /><text x="373.4" y="323.4" font-size="9.6" text-anchor="end" font-weight="normal" fill="#2b2b2b" >0.0</text><line x1="374.4" y1="340.9" x2="376.9" y2="340.9" stroke="#4a4a4a" stroke-width="0.8" /><text x="373.4" y="344.29999999999995" font-size="9.6" text-anchor="end" font-weight="normal" fill="#2b2b2b" >−0.2</text><text transform="translate(354.4,298) rotate(-90)" font-size="10.2" text-anchor="middle" fill="#2b2b2b">Scaled CNV value</text><line x1="382.9" y1="243.1925" x2="382.9" y2="338.0785" stroke="#c9c9c9" stroke-width="1.5" /><line x1="380.29999999999995" y1="243.1925" x2="385.5" y2="243.1925" stroke="#c9c9c9" stroke-width="1.5" /><line x1="380.29999999999995" y1="338.0785" x2="385.5" y2="338.0785" stroke="#c9c9c9" stroke-width="1.5" /><rect x="378.00" y="281.75" width="9.8" height="26.75" fill="#46226c" stroke="#6a6a6a" stroke-width="0.6"/><line x1="378.0" y1="298.055" x2="387.79999999999995" y2="298.055" stroke="#333" stroke-width="0.9" stroke-opacity="0.8"/><text transform="translate(386.5,355.40000000000003) rotate(-90)" font-size="10.2" text-anchor="end" fill="#2b2b2b">D0</text><line x1="394.95" y1="250.2985" x2="394.95" y2="333.376" stroke="#c9c9c9" stroke-width="1.5" /><line x1="392.34999999999997" y1="250.2985" x2="397.55" y2="250.2985" stroke="#c9c9c9" stroke-width="1.5" /><line x1="392.34999999999997" y1="333.376" x2="397.55" y2="333.376" stroke="#c9c9c9" stroke-width="1.5" /><rect x="390.05" y="283.01" width="9.8" height="21.74" fill="#6b2788" stroke="#6a6a6a" stroke-width="0.6"/><line x1="390.05" y1="295.6515" x2="399.84999999999997" y2="295.6515" stroke="#333" stroke-width="0.9" stroke-opacity="0.8"/><text transform="translate(398.55,355.40000000000003) rotate(-90)" font-size="10.2" text-anchor="end" fill="#2b2b2b">D1</text><line x1="407.0" y1="252.3885" x2="407.0" y2="333.376" stroke="#c9c9c9" stroke-width="1.5" /><line x1="404.4" y1="252.3885" x2="409.6" y2="252.3885" stroke="#c9c9c9" stroke-width="1.5" /><line x1="404.4" y1="333.376" x2="409.6" y2="333.376" stroke="#c9c9c9" stroke-width="1.5" /><rect x="402.10" y="283.53" width="9.8" height="20.48" fill="#8b2483" stroke="#6a6a6a" stroke-width="0.6"/><line x1="402.1" y1="296.174" x2="411.9" y2="296.174" stroke="#333" stroke-width="0.9" stroke-opacity="0.8"/><text transform="translate(410.6,355.40000000000003) rotate(-90)" font-size="10.2" text-anchor="end" fill="#2b2b2b">D2</text><line x1="419.04999999999995" y1="260.226" x2="419.04999999999995" y2="332.0175" stroke="#c9c9c9" stroke-width="1.5" /><line x1="416.44999999999993" y1="260.226" x2="421.65" y2="260.226" stroke="#c9c9c9" stroke-width="1.5" /><line x1="416.44999999999993" y1="332.0175" x2="421.65" y2="332.0175" stroke="#c9c9c9" stroke-width="1.5" /><rect x="414.15" y="288.23" width="9.8" height="18.39" fill="#c9407f" stroke="#6a6a6a" stroke-width="0.6"/><line x1="414.15" y1="298.264" x2="423.94999999999993" y2="298.264" stroke="#333" stroke-width="0.9" stroke-opacity="0.8"/><text transform="translate(422.65,355.40000000000003) rotate(-90)" font-size="10.2" text-anchor="end" fill="#2b2b2b">D3</text><line x1="431.09999999999997" y1="262.525" x2="431.09999999999997" y2="338.392" stroke="#c9c9c9" stroke-width="1.5" /><line x1="428.49999999999994" y1="262.525" x2="433.7" y2="262.525" stroke="#c9c9c9" stroke-width="1.5" /><line x1="428.49999999999994" y1="338.392" x2="433.7" y2="338.392" stroke="#c9c9c9" stroke-width="1.5" /><rect x="426.20" y="292.20" width="9.8" height="19.12" fill="#bb6322" stroke="#6a6a6a" stroke-width="0.6"/><line x1="426.2" y1="302.653" x2="435.99999999999994" y2="302.653" stroke="#333" stroke-width="0.9" stroke-opacity="0.8"/><text transform="translate(434.7,355.40000000000003) rotate(-90)" font-size="10.2" text-anchor="end" fill="#2b2b2b">D4</text><line x1="443.15" y1="270.467" x2="443.15" y2="340.1685" stroke="#c9c9c9" stroke-width="1.5" /><line x1="440.54999999999995" y1="270.467" x2="445.75" y2="270.467" stroke="#c9c9c9" stroke-width="1.5" /><line x1="440.54999999999995" y1="340.1685" x2="445.75" y2="340.1685" stroke="#c9c9c9" stroke-width="1.5" /><rect x="438.25" y="298.47" width="9.8" height="18.60" fill="#eea243" stroke="#6a6a6a" stroke-width="0.6"/><line x1="438.25" y1="308.505" x2="448.04999999999995" y2="308.505" stroke="#333" stroke-width="0.9" stroke-opacity="0.8"/><text transform="translate(446.75,355.40000000000003) rotate(-90)" font-size="10.2" text-anchor="end" fill="#2b2b2b">D5</text><line x1="455.2" y1="279.3495" x2="455.2" y2="343.3035" stroke="#c9c9c9" stroke-width="1.5" /><line x1="452.59999999999997" y1="279.3495" x2="457.8" y2="279.3495" stroke="#c9c9c9" stroke-width="1.5" /><line x1="452.59999999999997" y1="343.3035" x2="457.8" y2="343.3035" stroke="#c9c9c9" stroke-width="1.5" /><rect x="450.30" y="304.53" width="9.8" height="17.03" fill="#f5c190" stroke="#6a6a6a" stroke-width="0.6"/><line x1="450.3" y1="314.4615" x2="460.09999999999997" y2="314.4615" stroke="#333" stroke-width="0.9" stroke-opacity="0.8"/><text transform="translate(458.8,355.40000000000003) rotate(-90)" font-size="10.2" text-anchor="end" fill="#2b2b2b">D6</text><line x1="467.25" y1="283.5295" x2="467.25" y2="340.9" stroke="#c9c9c9" stroke-width="1.5" /><line x1="464.65" y1="283.5295" x2="469.85" y2="283.5295" stroke="#c9c9c9" stroke-width="1.5" /><line x1="464.65" y1="340.9" x2="469.85" y2="340.9" stroke="#c9c9c9" stroke-width="1.5" /><rect x="462.35" y="307.15" width="9.8" height="15.26" fill="#93d09a" stroke="#6a6a6a" stroke-width="0.6"/><line x1="462.35" y1="316.3425" x2="472.15" y2="316.3425" stroke="#333" stroke-width="0.9" stroke-opacity="0.8"/><text transform="translate(470.85,355.40000000000003) rotate(-90)" font-size="10.2" text-anchor="end" fill="#2b2b2b">D7</text><line x1="479.29999999999995" y1="290.113" x2="479.29999999999995" y2="343.3035" stroke="#c9c9c9" stroke-width="1.5" /><line x1="476.69999999999993" y1="290.113" x2="481.9" y2="290.113" stroke="#c9c9c9" stroke-width="1.5" /><line x1="476.69999999999993" y1="343.3035" x2="481.9" y2="343.3035" stroke="#c9c9c9" stroke-width="1.5" /><rect x="474.40" y="309.76" width="9.8" height="13.90" fill="#62c19a" stroke="#6a6a6a" stroke-width="0.6"/><line x1="474.4" y1="318.119" x2="484.19999999999993" y2="318.119" stroke="#333" stroke-width="0.9" stroke-opacity="0.8"/><text transform="translate(482.9,355.40000000000003) rotate(-90)" font-size="10.2" text-anchor="end" fill="#2b2b2b">D8</text><line x1="491.34999999999997" y1="301.9215" x2="491.34999999999997" y2="337.556" stroke="#c9c9c9" stroke-width="1.5" /><line x1="488.74999999999994" y1="301.9215" x2="493.95" y2="301.9215" stroke="#c9c9c9" stroke-width="1.5" /><line x1="488.74999999999994" y1="337.556" x2="493.95" y2="337.556" stroke="#c9c9c9" stroke-width="1.5" /><rect x="486.45" y="315.30" width="9.8" height="9.20" fill="#3d9899" stroke="#6a6a6a" stroke-width="0.6"/><line x1="486.45" y1="321.045" x2="496.24999999999994" y2="321.045" stroke="#333" stroke-width="0.9" stroke-opacity="0.8"/><text transform="translate(494.95,355.40000000000003) rotate(-90)" font-size="10.2" text-anchor="end" fill="#2b2b2b">D9</text><text x="608" y="230" font-size="10.2" text-anchor="middle" font-weight="normal" fill="#2b2b2b" >CNV of chr1p (n=11)</text><text x="507" y="227" font-size="15" text-anchor="start" font-weight="bold" fill="#111" >e</text><rect x="547.3" y="235.5" width="120.60000000000002" height="117.10000000000002" fill="none" stroke="#4a4a4a" stroke-width="0.9"/><line x1="544.8" y1="248.73999999999998" x2="547.3" y2="248.73999999999998" stroke="#4a4a4a" stroke-width="0.8" /><text x="543.8" y="252.14" font-size="9.6" text-anchor="end" font-weight="normal" fill="#2b2b2b" >0.4</text><line x1="544.8" y1="264.82" x2="547.3" y2="264.82" stroke="#4a4a4a" stroke-width="0.8" /><text x="543.8" y="268.21999999999997" font-size="9.6" text-anchor="end" font-weight="normal" fill="#2b2b2b" >0.2</text><line x1="544.8" y1="280.9" x2="547.3" y2="280.9" stroke="#4a4a4a" stroke-width="0.8" /><text x="543.8" y="284.29999999999995" font-size="9.6" text-anchor="end" font-weight="normal" fill="#2b2b2b" >0.0</text><line x1="544.8" y1="296.97999999999996" x2="547.3" y2="296.97999999999996" stroke="#4a4a4a" stroke-width="0.8" /><text x="543.8" y="300.37999999999994" font-size="9.6" text-anchor="end" font-weight="normal" fill="#2b2b2b" >−0.2</text><line x1="544.8" y1="313.06" x2="547.3" y2="313.06" stroke="#4a4a4a" stroke-width="0.8" /><text x="543.8" y="316.46" font-size="9.6" text-anchor="end" font-weight="normal" fill="#2b2b2b" >−0.4</text><line x1="544.8" y1="329.14" x2="547.3" y2="329.14" stroke="#4a4a4a" stroke-width="0.8" /><text x="543.8" y="332.53999999999996" font-size="9.6" text-anchor="end" font-weight="normal" fill="#2b2b2b" >−0.6</text><line x1="544.8" y1="345.21999999999997" x2="547.3" y2="345.21999999999997" stroke="#4a4a4a" stroke-width="0.8" /><text x="543.8" y="348.61999999999995" font-size="9.6" text-anchor="end" font-weight="normal" fill="#2b2b2b" >−0.8</text><text transform="translate(522.3,298) rotate(-90)" font-size="10.2" text-anchor="middle" fill="#2b2b2b">Scaled CNV value</text><line x1="553.3" y1="246.24759999999998" x2="553.3" y2="347.3908" stroke="#777" stroke-width="0.9" /><line x1="550.6999999999999" y1="246.24759999999998" x2="555.9" y2="246.24759999999998" stroke="#777" stroke-width="0.9" /><line x1="550.6999999999999" y1="347.3908" x2="555.9" y2="347.3908" stroke="#777" stroke-width="0.9" /><rect x="548.40" y="285.08" width="9.8" height="27.58" fill="#46226c" stroke="#6a6a6a" stroke-width="0.6"/><line x1="548.4" y1="299.5528" x2="558.1999999999999" y2="299.5528" stroke="#333" stroke-width="0.9" stroke-opacity="0.8"/><text transform="translate(556.9,355.40000000000003) rotate(-90)" font-size="10.2" text-anchor="end" fill="#2b2b2b">D0</text><line x1="565.3499999999999" y1="257.5036" x2="565.3499999999999" y2="338.46639999999996" stroke="#777" stroke-width="0.9" /><line x1="562.7499999999999" y1="257.5036" x2="567.9499999999999" y2="257.5036" stroke="#777" stroke-width="0.9" /><line x1="562.7499999999999" y1="338.46639999999996" x2="567.9499999999999" y2="338.46639999999996" stroke="#777" stroke-width="0.9" /><rect x="560.45" y="283.79" width="9.8" height="22.03" fill="#6b2788" stroke="#6a6a6a" stroke-width="0.6"/><line x1="560.4499999999999" y1="295.05039999999997" x2="570.2499999999999" y2="295.05039999999997" stroke="#333" stroke-width="0.9" stroke-opacity="0.8"/><text transform="translate(568.9499999999999,355.40000000000003) rotate(-90)" font-size="10.2" text-anchor="end" fill="#2b2b2b">D1</text><line x1="577.4" y1="248.82039999999998" x2="577.4" y2="343.4512" stroke="#777" stroke-width="0.9" /><line x1="574.8" y1="248.82039999999998" x2="580.0" y2="248.82039999999998" stroke="#777" stroke-width="0.9" /><line x1="574.8" y1="343.4512" x2="580.0" y2="343.4512" stroke="#777" stroke-width="0.9" /><rect x="572.50" y="284.28" width="9.8" height="24.20" fill="#8b2483" stroke="#6a6a6a" stroke-width="0.6"/><line x1="572.5" y1="296.97999999999996" x2="582.3" y2="296.97999999999996" stroke="#333" stroke-width="0.9" stroke-opacity="0.8"/><text transform="translate(581.0,355.40000000000003) rotate(-90)" font-size="10.2" text-anchor="end" fill="#2b2b2b">D2</text><line x1="589.4499999999999" y1="256.4584" x2="589.4499999999999" y2="342.08439999999996" stroke="#777" stroke-width="0.9" /><line x1="586.8499999999999" y1="256.4584" x2="592.05" y2="256.4584" stroke="#777" stroke-width="0.9" /><line x1="586.8499999999999" y1="342.08439999999996" x2="592.05" y2="342.08439999999996" stroke="#777" stroke-width="0.9" /><rect x="584.55" y="283.79" width="9.8" height="23.64" fill="#c9407f" stroke="#6a6a6a" stroke-width="0.6"/><line x1="584.55" y1="295.8544" x2="594.3499999999999" y2="295.8544" stroke="#333" stroke-width="0.9" stroke-opacity="0.8"/><text transform="translate(593.05,355.40000000000003) rotate(-90)" font-size="10.2" text-anchor="end" fill="#2b2b2b">D3</text><line x1="601.5" y1="258.0664" x2="601.5" y2="329.542" stroke="#777" stroke-width="0.9" /><line x1="598.9" y1="258.0664" x2="604.1" y2="258.0664" stroke="#777" stroke-width="0.9" /><line x1="598.9" y1="329.542" x2="604.1" y2="329.542" stroke="#777" stroke-width="0.9" /><rect x="596.60" y="283.79" width="9.8" height="17.61" fill="#bb6322" stroke="#6a6a6a" stroke-width="0.6"/><line x1="596.6" y1="289.0204" x2="606.4" y2="289.0204" stroke="#333" stroke-width="0.9" stroke-opacity="0.8"/><text transform="translate(605.1,355.40000000000003) rotate(-90)" font-size="10.2" text-anchor="end" fill="#2b2b2b">D4</text><line x1="613.55" y1="266.18679999999995" x2="613.55" y2="313.462" stroke="#777" stroke-width="0.9" /><line x1="610.9499999999999" y1="266.18679999999995" x2="616.15" y2="266.18679999999995" stroke="#777" stroke-width="0.9" /><line x1="610.9499999999999" y1="313.462" x2="616.15" y2="313.462" stroke="#777" stroke-width="0.9" /><rect x="608.65" y="283.79" width="9.8" height="11.58" fill="#eea243" stroke="#6a6a6a" stroke-width="0.6"/><line x1="608.65" y1="283.8748" x2="618.4499999999999" y2="283.8748" stroke="#333" stroke-width="0.9" stroke-opacity="0.8"/><text transform="translate(617.15,355.40000000000003) rotate(-90)" font-size="10.2" text-anchor="end" fill="#2b2b2b">D5</text><line x1="625.5999999999999" y1="267.79479999999995" x2="625.5999999999999" y2="309.28119999999996" stroke="#777" stroke-width="0.9" /><line x1="622.9999999999999" y1="267.79479999999995" x2="628.1999999999999" y2="267.79479999999995" stroke="#777" stroke-width="0.9" /><line x1="622.9999999999999" y1="309.28119999999996" x2="628.1999999999999" y2="309.28119999999996" stroke="#777" stroke-width="0.9" /><rect x="620.70" y="283.79" width="9.8" height="10.21" fill="#f5c190" stroke="#6a6a6a" stroke-width="0.6"/><line x1="620.6999999999999" y1="283.8748" x2="630.4999999999999" y2="283.8748" stroke="#333" stroke-width="0.9" stroke-opacity="0.8"/><text transform="translate(629.1999999999999,355.40000000000003) rotate(-90)" font-size="10.2" text-anchor="end" fill="#2b2b2b">D6</text><line x1="637.65" y1="273.262" x2="637.65" y2="300.59799999999996" stroke="#777" stroke-width="0.9" /><line x1="635.05" y1="273.262" x2="640.25" y2="273.262" stroke="#777" stroke-width="0.9" /><line x1="635.05" y1="300.59799999999996" x2="640.25" y2="300.59799999999996" stroke="#777" stroke-width="0.9" /><rect x="632.75" y="283.79" width="9.8" height="6.27" fill="#93d09a" stroke="#6a6a6a" stroke-width="0.6"/><line x1="632.75" y1="283.8748" x2="642.55" y2="283.8748" stroke="#333" stroke-width="0.9" stroke-opacity="0.8"/><text transform="translate(641.25,355.40000000000003) rotate(-90)" font-size="10.2" text-anchor="end" fill="#2b2b2b">D7</text><line x1="649.6999999999999" y1="276.39759999999995" x2="649.6999999999999" y2="294.3268" stroke="#777" stroke-width="0.9" /><line x1="647.0999999999999" y1="276.39759999999995" x2="652.3" y2="276.39759999999995" stroke="#777" stroke-width="0.9" /><line x1="647.0999999999999" y1="294.3268" x2="652.3" y2="294.3268" stroke="#777" stroke-width="0.9" /><rect x="644.80" y="283.31" width="9.8" height="4.18" fill="#62c19a" stroke="#6a6a6a" stroke-width="0.6"/><line x1="644.8" y1="283.39239999999995" x2="654.5999999999999" y2="283.39239999999995" stroke="#333" stroke-width="0.9" stroke-opacity="0.8"/><text transform="translate(653.3,355.40000000000003) rotate(-90)" font-size="10.2" text-anchor="end" fill="#2b2b2b">D8</text><line x1="661.75" y1="278.5684" x2="661.75" y2="292.156" stroke="#777" stroke-width="0.9" /><line x1="659.15" y1="278.5684" x2="664.35" y2="278.5684" stroke="#777" stroke-width="0.9" /><line x1="659.15" y1="292.156" x2="664.35" y2="292.156" stroke="#777" stroke-width="0.9" /><rect x="656.85" y="283.79" width="9.8" height="2.65" fill="#3d9899" stroke="#6a6a6a" stroke-width="0.6"/><line x1="656.85" y1="283.8748" x2="666.65" y2="283.8748" stroke="#333" stroke-width="0.9" stroke-opacity="0.8"/><text transform="translate(665.35,355.40000000000003) rotate(-90)" font-size="10.2" text-anchor="end" fill="#2b2b2b">D9</text><text x="3" y="398.4" font-size="15" text-anchor="start" font-weight="bold" fill="#111" >f</text><text x="196.9" y="414.3" font-size="10.2" text-anchor="middle" font-weight="normal" fill="#2b2b2b" >Immune domains</text><text x="196.9" y="425.6" font-size="10.2" text-anchor="middle" font-weight="normal" fill="#2b2b2b" >by Splane</text><text x="322.6" y="414.3" font-size="10.2" text-anchor="middle" font-weight="normal" fill="#2b2b2b" >Immune cells</text><text x="322.6" y="425.6" font-size="10.2" text-anchor="middle" font-weight="normal" fill="#2b2b2b" >by Spoint</text><text x="443.6" y="414.3" font-size="10.2" text-anchor="middle" font-weight="normal" fill="#2b2b2b" >Immune spots</text><text x="443.6" y="425.6" font-size="10.2" text-anchor="middle" font-weight="normal" fill="#2b2b2b" >by H&amp;E staining</text><text x="68.4" y="547" font-size="10.2" text-anchor="middle" font-weight="normal" fill="#2b2b2b" >S5</text><text x="3" y="562.5" font-size="15" text-anchor="start" font-weight="bold" fill="#111" >h</text><text x="196.9" y="559.2" font-size="10.2" text-anchor="middle" font-weight="normal" fill="#2b2b2b" >Immune domains</text><text x="196.9" y="570.9" font-size="10.2" text-anchor="middle" font-weight="normal" fill="#2b2b2b" >by Splane</text><text x="321.8" y="559.2" font-size="10.2" text-anchor="middle" font-weight="normal" fill="#2b2b2b" >Immune cells</text><text x="321.8" y="570.9" font-size="10.2" text-anchor="middle" font-weight="normal" fill="#2b2b2b" >by Spoint</text><text x="442.4" y="560.6" font-size="10.2" text-anchor="middle" font-weight="normal" fill="#2b2b2b" >Immune spots</text><text x="442.8" y="572.3" font-size="10" text-anchor="middle" fill="#2b2b2b">by CD3<tspan font-size="6.5" dy="-3.5">+</tspan><tspan dy="3.5"> IF staining</tspan></text><text x="71.5" y="697" font-size="10.2" text-anchor="middle" font-weight="normal" fill="#2b2b2b" >S10</text><use href="#artS5" transform="translate(-103.2 412.6) scale(0.7443 0.7502)"/><rect x="83" y="463.5" width="23.7" height="26.1" fill="none" stroke="#fff" stroke-width="0.9"/><line x1="107" y1="463.5" x2="154.6" y2="430.6" stroke="#444" stroke-width="0.8" stroke-dasharray="3,2.5"/><line x1="107" y1="489.6" x2="154.6" y2="535" stroke="#444" stroke-width="0.8" stroke-dasharray="3,2.5"/><defs><clipPath id="cHE"><polygon points="0,0 88.4,0 88.4,90 80,97 76,105.3 0,105.3"/></clipPath><pattern id="pHE" width="14" height="14" patternUnits="userSpaceOnUse"><rect width="14" height="14" fill="#c29ac8"/><rect x="2.1" y="9.0" width="1.1" height="1.1" fill="#cca4cc"/><rect x="3.7" y="11.0" width="1.1" height="1.1" fill="#e4c2dc"/><rect x="10.5" y="6.7" width="1.1" height="1.1" fill="#9c7ab8"/><rect x="6.9" y="10.2" width="1.1" height="1.1" fill="#a882bc"/><rect x="4.8" y="7.6" width="1.1" height="1.1" fill="#a882bc"/><rect x="1.9" y="9.8" width="1.1" height="1.1" fill="#dab6d6"/><rect x="9.0" y="5.7" width="1.1" height="1.1" fill="#cca4cc"/><rect x="10.0" y="5.3" width="1.1" height="1.1" fill="#e4c2dc"/><rect x="0.4" y="4.3" width="1.1" height="1.1" fill="#e4c2dc"/><rect x="9.0" y="8.4" width="1.1" height="1.1" fill="#b08ac2"/><rect x="0.3" y="9.6" width="1.1" height="1.1" fill="#a882bc"/><rect x="1.6" y="12.1" width="1.1" height="1.1" fill="#e4c2dc"/><rect x="2.1" y="9.5" width="1.1" height="1.1" fill="#e4c2dc"/><rect x="6.3" y="2.4" width="1.1" height="1.1" fill="#a882bc"/><rect x="6.1" y="10.7" width="1.1" height="1.1" fill="#a882bc"/><rect x="10.1" y="2.7" width="1.1" height="1.1" fill="#cca4cc"/><rect x="9.8" y="9.9" width="1.1" height="1.1" fill="#9c7ab8"/><rect x="12.9" y="0.9" width="1.1" height="1.1" fill="#9c7ab8"/><rect x="6.2" y="10.8" width="1.1" height="1.1" fill="#dab6d6"/><rect x="4.4" y="1.9" width="1.1" height="1.1" fill="#9c7ab8"/><rect x="5.3" y="4.7" width="1.1" height="1.1" fill="#e4c2dc"/><rect x="6.5" y="4.1" width="1.1" height="1.1" fill="#e4c2dc"/><rect x="5.0" y="0.3" width="1.1" height="1.1" fill="#a882bc"/><rect x="2.1" y="9.3" width="1.1" height="1.1" fill="#e4c2dc"/><rect x="0.0" y="0.9" width="1.1" height="1.1" fill="#9c7ab8"/><rect x="9.7" y="2.9" width="1.1" height="1.1" fill="#9c7ab8"/><rect x="4.1" y="12.7" width="1.1" height="1.1" fill="#a882bc"/><rect x="2.3" y="2.2" width="1.1" height="1.1" fill="#b08ac2"/><rect x="10.8" y="4.3" width="1.1" height="1.1" fill="#9c7ab8"/><rect x="12.1" y="3.2" width="1.1" height="1.1" fill="#dab6d6"/><rect x="0.9" y="10.6" width="1.1" height="1.1" fill="#e4c2dc"/><rect x="4.9" y="8.9" width="1.1" height="1.1" fill="#cca4cc"/><rect x="6.8" y="8.6" width="1.1" height="1.1" fill="#dab6d6"/><rect x="5.3" y="12.9" width="1.1" height="1.1" fill="#cca4cc"/><rect x="7.7" y="11.5" width="1.1" height="1.1" fill="#e4c2dc"/><rect x="6.6" y="8.7" width="1.1" height="1.1" fill="#dab6d6"/><rect x="2.1" y="0.9" width="1.1" height="1.1" fill="#e4c2dc"/><rect x="10.1" y="6.3" width="1.1" height="1.1" fill="#b08ac2"/><rect x="0.7" y="3.4" width="1.1" height="1.1" fill="#b08ac2"/><rect x="0.5" y="3.2" width="1.1" height="1.1" fill="#e4c2dc"/></pattern><filter id="bHE" x="-10%" y="-10%" width="120%" height="120%"><feGaussianBlur stdDeviation="1.2"/></filter><g id="he"><rect x="0" y="0" width="88.4" height="105.3" fill="#f5e8f2"/><g clip-path="url(#cHE)"><rect x="0" y="0" width="88.4" height="105.3" fill="url(#pHE)"/><g filter="url(#bHE)" opacity="0.7"><ellipse cx="8" cy="12" rx="8" ry="6" transform="rotate(20 8 12)" fill="#e6c4dc"/><ellipse cx="25" cy="12" rx="14" ry="4" transform="rotate(-10 25 12)" fill="#e6c4dc"/><ellipse cx="62" cy="14" rx="8" ry="4" transform="rotate(0 62 14)" fill="#e6c4dc"/><ellipse cx="72" cy="30" rx="6" ry="10" transform="rotate(0 72 30)" fill="#e6c4dc"/><ellipse cx="84" cy="40" rx="4" ry="30" transform="rotate(0 84 40)" fill="#e6c4dc"/><ellipse cx="15" cy="48" rx="6" ry="10" transform="rotate(10 15 48)" fill="#e6c4dc"/><ellipse cx="40" cy="48" rx="10" ry="3" transform="rotate(-20 40 48)" fill="#e6c4dc"/><ellipse cx="60" cy="62" rx="6" ry="10" transform="rotate(30 60 62)" fill="#e6c4dc"/><ellipse cx="28" cy="82" rx="14" ry="4" transform="rotate(-30 28 82)" fill="#e6c4dc"/><ellipse cx="52" cy="96" rx="10" ry="4" transform="rotate(0 52 96)" fill="#e6c4dc"/><ellipse cx="82" cy="60" rx="4" ry="20" transform="rotate(0 82 60)" fill="#e6c4dc"/><ellipse cx="6" cy="70" rx="4" ry="12" transform="rotate(0 6 70)" fill="#e6c4dc"/><ellipse cx="45.5" cy="30" rx="11" ry="10" transform="rotate(0 45.5 30)" fill="#a47ebe" stroke="#e2bada" stroke-width="1.6"/><ellipse cx="57" cy="29" rx="7" ry="8" transform="rotate(0 57 29)" fill="#a47ebe" stroke="#e2bada" stroke-width="1.6"/><ellipse cx="75" cy="18" rx="8" ry="9" transform="rotate(0 75 18)" fill="#a47ebe" stroke="#e2bada" stroke-width="1.6"/><ellipse cx="31" cy="58.6" rx="10" ry="4.5" transform="rotate(-10 31 58.6)" fill="#a47ebe" stroke="#e2bada" stroke-width="1.6"/><ellipse cx="24" cy="71" rx="9" ry="5" transform="rotate(-20 24 71)" fill="#a47ebe" stroke="#e2bada" stroke-width="1.6"/><ellipse cx="40" cy="81" rx="7" ry="7" transform="rotate(0 40 81)" fill="#a47ebe" stroke="#e2bada" stroke-width="1.6"/><ellipse cx="58" cy="45" rx="9" ry="6" transform="rotate(0 58 45)" fill="#a47ebe" stroke="#e2bada" stroke-width="1.6"/><ellipse cx="73" cy="47" rx="7" ry="6" transform="rotate(0 73 47)" fill="#a47ebe" stroke="#e2bada" stroke-width="1.6"/><ellipse cx="10" cy="31" rx="7" ry="12" transform="rotate(0 10 31)" fill="#a47ebe" stroke="#e2bada" stroke-width="1.6"/><ellipse cx="44" cy="96" rx="8" ry="5" transform="rotate(0 44 96)" fill="#a47ebe" stroke="#e2bada" stroke-width="1.6"/><ellipse cx="78" cy="73" rx="6" ry="6" transform="rotate(0 78 73)" fill="#a47ebe" stroke="#e2bada" stroke-width="1.6"/><ellipse cx="15" cy="92" rx="8" ry="6" transform="rotate(0 15 92)" fill="#a47ebe" stroke="#e2bada" stroke-width="1.6"/><ellipse cx="65" cy="85" rx="8" ry="7" transform="rotate(0 65 85)" fill="#a47ebe" stroke="#e2bada" stroke-width="1.6"/><ellipse cx="30" cy="40" rx="6" ry="5" transform="rotate(0 30 40)" fill="#a47ebe" stroke="#e2bada" stroke-width="1.6"/></g><path d="M20,80 L24,86 L27,94" stroke="#f4e8f2" stroke-width="1.6" fill="none"/></g></g></defs><use href="#he" transform="translate(154.9 430.2)"/><use href="#he" transform="translate(279.9 430.2)"/><use href="#he" transform="translate(400.7 430.5)"/><circle cx="155.73" cy="434.00" r="2.05" fill="#8dcf8e"/><circle cx="161.78" cy="434.00" r="2.05" fill="#5cc09a"/><circle cx="168.00" cy="434.00" r="2.05" fill="#8dcf8e"/><circle cx="158.51" cy="439.40" r="2.05" fill="#8dcf8e"/><circle cx="165.06" cy="439.40" r="2.05" fill="#8dcf8e"/><circle cx="199.92" cy="434.00" r="2.05" fill="#8dcf8e"/><circle cx="206.46" cy="434.00" r="2.05" fill="#5cc09a"/><circle cx="213.01" cy="434.00" r="2.05" fill="#5cc09a"/><circle cx="219.56" cy="434.00" r="2.05" fill="#8dcf8e"/><circle cx="196.64" cy="439.40" r="2.05" fill="#8dcf8e"/><circle cx="203.19" cy="439.40" r="2.05" fill="#5cc09a"/><circle cx="209.74" cy="439.40" r="2.05" fill="#2f9c9c"/><circle cx="216.28" cy="439.40" r="2.05" fill="#2f9c9c"/><circle cx="222.50" cy="439.40" r="2.05" fill="#8dcf8e"/><circle cx="199.92" cy="444.97" r="2.05" fill="#8dcf8e"/><circle cx="206.46" cy="444.97" r="2.05" fill="#5cc09a"/><circle cx="212.68" cy="444.97" r="2.05" fill="#2f9c9c"/><circle cx="219.23" cy="444.97" r="2.05" fill="#5cc09a"/><circle cx="215.96" cy="450.37" r="2.05" fill="#8dcf8e"/><circle cx="222.34" cy="450.37" r="2.05" fill="#8dcf8e"/><circle cx="177.82" cy="450.37" r="2.05" fill="#8dcf8e"/><circle cx="184.04" cy="450.37" r="2.05" fill="#8dcf8e"/><circle cx="168.00" cy="456.10" r="2.05" fill="#8dcf8e"/><circle cx="174.55" cy="456.10" r="2.05" fill="#5cc09a"/><circle cx="181.10" cy="456.10" r="2.05" fill="#5cc09a"/><circle cx="187.32" cy="456.10" r="2.05" fill="#8dcf8e"/><circle cx="164.73" cy="461.82" r="2.05" fill="#8dcf8e"/><circle cx="171.28" cy="461.82" r="2.05" fill="#2f9c9c"/><circle cx="177.82" cy="461.82" r="2.05" fill="#2f9c9c"/><circle cx="184.04" cy="461.82" r="2.05" fill="#2f9c9c"/><circle cx="161.78" cy="467.23" r="2.05" fill="#8dcf8e"/><circle cx="168.00" cy="467.23" r="2.05" fill="#2f9c9c"/><circle cx="174.55" cy="467.23" r="2.05" fill="#2f9c9c"/><circle cx="181.10" cy="467.23" r="2.05" fill="#2f9c9c"/><circle cx="187.32" cy="467.23" r="2.05" fill="#8dcf8e"/><circle cx="164.73" cy="472.79" r="2.05" fill="#5cc09a"/><circle cx="171.28" cy="472.79" r="2.05" fill="#2f9c9c"/><circle cx="177.82" cy="472.79" r="2.05" fill="#2f9c9c"/><circle cx="184.04" cy="472.79" r="2.05" fill="#5cc09a"/><circle cx="168.00" cy="478.19" r="2.05" fill="#8dcf8e"/><circle cx="174.55" cy="478.19" r="2.05" fill="#8dcf8e"/><circle cx="222.50" cy="483.59" r="2.05" fill="#8dcf8e"/><circle cx="228.89" cy="483.59" r="2.05" fill="#8dcf8e"/><circle cx="235.11" cy="483.59" r="2.05" fill="#8dcf8e"/><circle cx="212.68" cy="489.16" r="2.05" fill="#5cc09a"/><circle cx="219.23" cy="489.16" r="2.05" fill="#2f9c9c"/><circle cx="225.61" cy="489.16" r="2.05" fill="#2f9c9c"/><circle cx="231.83" cy="489.16" r="2.05" fill="#5cc09a"/><circle cx="238.38" cy="489.16" r="2.05" fill="#8dcf8e"/><circle cx="209.74" cy="494.89" r="2.05" fill="#5cc09a"/><circle cx="215.96" cy="494.89" r="2.05" fill="#2f9c9c"/><circle cx="222.50" cy="494.89" r="2.05" fill="#2f9c9c"/><circle cx="228.89" cy="494.89" r="2.05" fill="#2f9c9c"/><circle cx="235.11" cy="494.89" r="2.05" fill="#5cc09a"/><circle cx="241.33" cy="494.89" r="2.05" fill="#8dcf8e"/><circle cx="199.92" cy="500.61" r="2.05" fill="#8dcf8e"/><circle cx="206.46" cy="500.61" r="2.05" fill="#2f9c9c"/><circle cx="213.01" cy="500.61" r="2.05" fill="#2f9c9c"/><circle cx="219.23" cy="500.61" r="2.05" fill="#2f9c9c"/><circle cx="225.61" cy="500.61" r="2.05" fill="#2f9c9c"/><circle cx="231.83" cy="500.61" r="2.05" fill="#5cc09a"/><circle cx="238.38" cy="500.61" r="2.05" fill="#8dcf8e"/><circle cx="203.19" cy="506.01" r="2.05" fill="#2f9c9c"/><circle cx="209.74" cy="506.01" r="2.05" fill="#2f9c9c"/><circle cx="215.96" cy="506.01" r="2.05" fill="#2f9c9c"/><circle cx="222.50" cy="506.01" r="2.05" fill="#2f9c9c"/><circle cx="228.89" cy="506.01" r="2.05" fill="#5cc09a"/><circle cx="235.11" cy="506.01" r="2.05" fill="#5cc09a"/><circle cx="206.46" cy="511.74" r="2.05" fill="#5cc09a"/><circle cx="213.01" cy="511.74" r="2.05" fill="#2f9c9c"/><circle cx="219.23" cy="511.74" r="2.05" fill="#2f9c9c"/><circle cx="225.61" cy="511.74" r="2.05" fill="#5cc09a"/><circle cx="231.83" cy="511.74" r="2.05" fill="#5cc09a"/><circle cx="209.74" cy="517.14" r="2.05" fill="#5cc09a"/><circle cx="215.96" cy="517.14" r="2.05" fill="#2f9c9c"/><circle cx="222.50" cy="517.14" r="2.05" fill="#5cc09a"/><circle cx="228.89" cy="517.14" r="2.05" fill="#8dcf8e"/><circle cx="213.01" cy="522.87" r="2.05" fill="#8dcf8e"/><circle cx="219.23" cy="522.87" r="2.05" fill="#8dcf8e"/><circle cx="280.73" cy="434.00" r="2.05" fill="#f6ec86"/><circle cx="286.78" cy="434.00" r="2.05" fill="#f6ec86"/><circle cx="293.00" cy="434.00" r="2.05" fill="#f6ec86"/><circle cx="283.51" cy="439.40" r="2.05" fill="#f4c458"/><circle cx="286.78" cy="444.97" r="2.05" fill="#f6ec86"/><circle cx="328.19" cy="439.40" r="2.05" fill="#f6ec86"/><circle cx="334.74" cy="439.40" r="2.05" fill="#ea6a32"/><circle cx="340.96" cy="439.40" r="2.05" fill="#f8f2b0"/><circle cx="347.50" cy="439.40" r="2.05" fill="#f4a044"/><circle cx="324.92" cy="444.97" r="2.05" fill="#f6ec86"/><circle cx="331.46" cy="444.97" r="2.05" fill="#f4a044"/><circle cx="338.01" cy="444.97" r="2.05" fill="#f8f2b0"/><circle cx="344.23" cy="444.97" r="2.05" fill="#f4a044"/><circle cx="312.32" cy="444.97" r="2.05" fill="#f6ec86"/><circle cx="309.04" cy="450.37" r="2.05" fill="#f6ec86"/><circle cx="347.50" cy="450.37" r="2.05" fill="#f4c458"/><circle cx="296.28" cy="461.82" r="2.05" fill="#ea6a32"/><circle cx="302.82" cy="461.82" r="2.05" fill="#ea6a32"/><circle cx="309.04" cy="461.82" r="2.05" fill="#f4c458"/><circle cx="293.00" cy="467.23" r="2.05" fill="#f6ec86"/><circle cx="299.55" cy="467.23" r="2.05" fill="#d83040"/><circle cx="306.10" cy="467.23" r="2.05" fill="#ea6a32"/><circle cx="312.32" cy="467.23" r="2.05" fill="#d83040"/><circle cx="296.28" cy="472.79" r="2.05" fill="#f4a044"/><circle cx="302.82" cy="472.79" r="2.05" fill="#d83040"/><circle cx="299.55" cy="478.19" r="2.05" fill="#f4a044"/><circle cx="296.28" cy="483.59" r="2.05" fill="#f6ec86"/><circle cx="360.11" cy="472.79" r="2.05" fill="#f6ec86"/><circle cx="366.33" cy="483.59" r="2.05" fill="#f6ec86"/><circle cx="334.74" cy="483.59" r="2.05" fill="#f6ec86"/><circle cx="337.68" cy="489.16" r="2.05" fill="#f4a044"/><circle cx="344.23" cy="489.16" r="2.05" fill="#ea6a32"/><circle cx="350.61" cy="489.16" r="2.05" fill="#f8f2b0"/><circle cx="340.96" cy="494.89" r="2.05" fill="#ea6a32"/><circle cx="347.50" cy="494.89" r="2.05" fill="#d83040"/><circle cx="353.89" cy="494.89" r="2.05" fill="#f8f2b0"/><circle cx="324.92" cy="500.61" r="2.05" fill="#f6ec86"/><circle cx="331.46" cy="500.61" r="2.05" fill="#ea6a32"/><circle cx="338.01" cy="500.61" r="2.05" fill="#b01838"/><circle cx="344.23" cy="500.61" r="2.05" fill="#f4a044"/><circle cx="350.61" cy="500.61" r="2.05" fill="#f6ec86"/><circle cx="356.83" cy="500.61" r="2.05" fill="#f6ec86"/><circle cx="328.19" cy="506.01" r="2.05" fill="#f4c458"/><circle cx="334.74" cy="506.01" r="2.05" fill="#d83040"/><circle cx="340.96" cy="506.01" r="2.05" fill="#ea6a32"/><circle cx="353.89" cy="506.01" r="2.05" fill="#f6ec86"/><circle cx="366.33" cy="506.01" r="2.05" fill="#f6ec86"/><circle cx="331.46" cy="511.74" r="2.05" fill="#f4a044"/><circle cx="338.01" cy="511.74" r="2.05" fill="#b01838"/><circle cx="344.23" cy="511.74" r="2.05" fill="#f4a044"/><circle cx="350.61" cy="511.74" r="2.05" fill="#f4a044"/><circle cx="334.74" cy="517.14" r="2.05" fill="#f4a044"/><circle cx="340.96" cy="517.14" r="2.05" fill="#ea6a32"/><circle cx="347.50" cy="517.14" r="2.05" fill="#f6ec86"/><circle cx="353.89" cy="517.14" r="2.05" fill="#f4a044"/><circle cx="293.00" cy="500.61" r="2.05" fill="#f6ec86"/><circle cx="302.82" cy="506.01" r="2.05" fill="#f6ec86"/><circle cx="306.10" cy="511.74" r="2.05" fill="#f4a044"/><circle cx="312.32" cy="511.74" r="2.05" fill="#f8f2b0"/><circle cx="309.04" cy="517.14" r="2.05" fill="#f4c458"/><circle cx="286.78" cy="511.74" r="2.05" fill="#f6ec86"/><circle cx="283.51" cy="517.14" r="2.05" fill="#f6ec86"/><circle cx="293.00" cy="533.84" r="2.05" fill="#f6ec86"/><circle cx="312.32" cy="533.84" r="2.05" fill="#f4c458"/><circle cx="360.11" cy="528.11" r="2.05" fill="#f6ec86"/><circle cx="401.22" cy="434.00" r="2.05" fill="#8a4634"/><circle cx="407.27" cy="434.00" r="2.05" fill="#8a4634"/><circle cx="413.49" cy="434.00" r="2.05" fill="#8a4634"/><circle cx="419.88" cy="434.00" r="2.05" fill="#8a4634"/><circle cx="404.00" cy="439.40" r="2.05" fill="#8a4634"/><circle cx="410.22" cy="439.40" r="2.05" fill="#8a4634"/><circle cx="448.68" cy="439.40" r="2.05" fill="#8a4634"/><circle cx="455.07" cy="439.40" r="2.05" fill="#8a4634"/><circle cx="451.79" cy="444.97" r="2.05" fill="#8a4634"/><circle cx="458.01" cy="444.97" r="2.05" fill="#8a4634"/><circle cx="423.15" cy="461.82" r="2.05" fill="#8a4634"/><circle cx="429.37" cy="461.82" r="2.05" fill="#8a4634"/><circle cx="419.88" cy="467.23" r="2.05" fill="#8a4634"/><circle cx="426.42" cy="467.23" r="2.05" fill="#8a4634"/><circle cx="432.64" cy="467.23" r="2.05" fill="#8a4634"/><circle cx="416.77" cy="472.79" r="2.05" fill="#8a4634"/><circle cx="423.15" cy="472.79" r="2.05" fill="#8a4634"/><circle cx="429.37" cy="472.79" r="2.05" fill="#8a4634"/><circle cx="419.88" cy="478.19" r="2.05" fill="#8a4634"/><circle cx="458.34" cy="489.16" r="2.05" fill="#8a4634"/><circle cx="464.56" cy="489.16" r="2.05" fill="#8a4634"/><circle cx="455.07" cy="494.89" r="2.05" fill="#8a4634"/><circle cx="461.28" cy="494.89" r="2.05" fill="#8a4634"/><circle cx="467.50" cy="494.89" r="2.05" fill="#8a4634"/><circle cx="451.79" cy="500.61" r="2.05" fill="#8a4634"/><circle cx="458.01" cy="500.61" r="2.05" fill="#8a4634"/><circle cx="464.56" cy="500.61" r="2.05" fill="#8a4634"/><circle cx="470.78" cy="500.61" r="2.05" fill="#8a4634"/><circle cx="477.16" cy="500.61" r="2.05" fill="#8a4634"/><circle cx="448.52" cy="506.01" r="2.05" fill="#8a4634"/><circle cx="455.07" cy="506.01" r="2.05" fill="#8a4634"/><circle cx="461.28" cy="506.01" r="2.05" fill="#8a4634"/><circle cx="458.01" cy="511.74" r="2.05" fill="#8a4634"/><circle cx="464.56" cy="511.74" r="2.05" fill="#8a4634"/><circle cx="461.28" cy="517.14" r="2.05" fill="#8a4634"/><circle cx="467.50" cy="517.14" r="2.05" fill="#8a4634"/><circle cx="473.89" cy="517.14" r="2.05" fill="#8a4634"/><circle cx="405.6" cy="526.5" r="3.3" fill="#8a4634"/><text x="414.5" y="530.6" font-size="10.2" text-anchor="start" font-weight="normal" fill="#222" >Immune spot</text><defs><linearGradient id="gsp" x1="0" y1="1" x2="0" y2="0"><stop offset="0" stop-color="#3a5fb0"/><stop offset="0.25" stop-color="#8ed0a8"/><stop offset="0.5" stop-color="#f6ef9a"/><stop offset="0.75" stop-color="#f49a4c"/><stop offset="1" stop-color="#c0143c"/></linearGradient><linearGradient id="gif" x1="0" y1="1" x2="0" y2="0"><stop offset="0" stop-color="#0a0418"/><stop offset="0.3" stop-color="#6a1a6a"/><stop offset="0.55" stop-color="#d8306a"/><stop offset="0.8" stop-color="#f8904a"/><stop offset="1" stop-color="#fcf4b0"/></linearGradient></defs><rect x="374" y="511.5" width="3.2" height="23.5" fill="url(#gsp)" /><line x1="377.2" y1="513.0" x2="378.6" y2="513.0" stroke="#555" stroke-width="0.6" /><text x="378.4" y="516.4" font-size="10.2" text-anchor="start" font-weight="normal" fill="#2b2b2b" >0.8</text><line x1="377.2" y1="523.75" x2="378.6" y2="523.75" stroke="#555" stroke-width="0.6" /><text x="378.4" y="527.15" font-size="10.2" text-anchor="start" font-weight="normal" fill="#2b2b2b" >0.4</text><line x1="377.2" y1="534.5" x2="378.6" y2="534.5" stroke="#555" stroke-width="0.6" /><text x="378.4" y="537.9" font-size="10.2" text-anchor="start" font-weight="normal" fill="#2b2b2b" >0.0</text><rect x="375" y="662" width="3.2" height="24.5" fill="url(#gsp)" /><line x1="378.2" y1="663.5" x2="379.6" y2="663.5" stroke="#555" stroke-width="0.6" /><text x="379.4" y="666.9" font-size="10.2" text-anchor="start" font-weight="normal" fill="#2b2b2b" >0.8</text><line x1="378.2" y1="674.75" x2="379.6" y2="674.75" stroke="#555" stroke-width="0.6" /><text x="379.4" y="678.15" font-size="10.2" text-anchor="start" font-weight="normal" fill="#2b2b2b" >0.4</text><line x1="378.2" y1="686.0" x2="379.6" y2="686.0" stroke="#555" stroke-width="0.6" /><text x="379.4" y="689.4" font-size="10.2" text-anchor="start" font-weight="normal" fill="#2b2b2b" >0.0</text><rect x="498.4" y="663.6" width="3.2" height="23.7" fill="url(#gif)" /><line x1="501.6" y1="664.5" x2="503" y2="664.5" stroke="#555" stroke-width="0.6" /><line x1="501.6" y1="686.5" x2="503" y2="686.5" stroke="#555" stroke-width="0.6" /><text x="503.2" y="665.7" font-size="10.2" text-anchor="start" font-weight="normal" fill="#2b2b2b" >1</text><text x="503.2" y="690" font-size="10.2" text-anchor="start" font-weight="normal" fill="#2b2b2b" >0</text><use href="#artS10" transform="translate(-322.1 564.7) scale(0.7484 0.7437)"/><rect x="80" y="599" width="42.3" height="52.4" fill="none" stroke="#ddd" stroke-width="0.9"/><line x1="122.5" y1="599" x2="150.3" y2="582.3" stroke="#444" stroke-width="0.8" stroke-dasharray="3,2.5"/><line x1="122.5" y1="651.4" x2="150.3" y2="686" stroke="#444" stroke-width="0.8" stroke-dasharray="3,2.5"/><defs><filter id="bIF" x="-10%" y="-10%" width="120%" height="120%"><feGaussianBlur stdDeviation="1.5"/></filter><pattern id="pIF" width="12" height="12" patternUnits="userSpaceOnUse"><rect width="12" height="12" fill="#22381c"/><rect x="6.3" y="7.0" width="1.3" height="1.3" fill="#3a6a30"/><rect x="5.3" y="9.7" width="1.3" height="1.3" fill="#4a2440"/><rect x="10.0" y="2.1" width="1.3" height="1.3" fill="#2a4a22"/><rect x="10.0" y="10.4" width="1.3" height="1.3" fill="#3a6a30"/><rect x="10.6" y="5.8" width="1.3" height="1.3" fill="#3a2a22"/><rect x="3.1" y="7.4" width="1.3" height="1.3" fill="#2e5a28"/><rect x="3.3" y="3.4" width="1.3" height="1.3" fill="#3a2a22"/><rect x="9.9" y="8.2" width="1.3" height="1.3" fill="#2a4a22"/><rect x="7.4" y="9.0" width="1.3" height="1.3" fill="#3a6a30"/><rect x="10.2" y="6.1" width="1.3" height="1.3" fill="#2a4a22"/><rect x="2.7" y="9.5" width="1.3" height="1.3" fill="#3a6a30"/><rect x="10.8" y="3.1" width="1.3" height="1.3" fill="#16240f"/><rect x="10.9" y="0.7" width="1.3" height="1.3" fill="#3a6a30"/><rect x="1.4" y="3.5" width="1.3" height="1.3" fill="#16240f"/><rect x="5.6" y="3.5" width="1.3" height="1.3" fill="#3a6a30"/><rect x="5.8" y="3.3" width="1.3" height="1.3" fill="#3a2a22"/><rect x="4.3" y="7.6" width="1.3" height="1.3" fill="#2e5a28"/><rect x="4.0" y="6.9" width="1.3" height="1.3" fill="#2a4a22"/><rect x="6.2" y="1.4" width="1.3" height="1.3" fill="#16240f"/><rect x="1.0" y="8.9" width="1.3" height="1.3" fill="#2e5a28"/><rect x="0.6" y="3.0" width="1.3" height="1.3" fill="#16240f"/><rect x="9.5" y="7.4" width="1.3" height="1.3" fill="#3a2a22"/><rect x="5.0" y="5.2" width="1.3" height="1.3" fill="#3a6a30"/><rect x="6.5" y="5.0" width="1.3" height="1.3" fill="#3a6a30"/><rect x="5.3" y="0.1" width="1.3" height="1.3" fill="#3a2a22"/><rect x="4.2" y="8.6" width="1.3" height="1.3" fill="#2e5a28"/><rect x="7.3" y="2.7" width="1.3" height="1.3" fill="#4a2440"/><rect x="7.0" y="8.0" width="1.3" height="1.3" fill="#2a4a22"/><rect x="9.5" y="10.0" width="1.3" height="1.3" fill="#2a4a22"/><rect x="6.7" y="0.4" width="1.3" height="1.3" fill="#2e5a28"/></pattern><clipPath id="cIF"><rect x="0" y="0" width="97" height="104.3"/></clipPath><g id="ifart"><g clip-path="url(#cIF)"><rect x="0" y="0" width="97" height="104.3" fill="url(#pIF)"/><g filter="url(#bIF)"><ellipse cx="22" cy="22" rx="24" ry="20" fill="#2e5424" opacity="0.5"/><ellipse cx="45" cy="10" rx="22" ry="9" fill="#2e5a28" opacity="0.5"/><ellipse cx="70" cy="22" rx="8" ry="20" fill="#7a5436" opacity="0.6"/><ellipse cx="40" cy="90" rx="30" ry="10" fill="#2a4020" opacity="0.6"/><ellipse cx="74" cy="88" rx="5" ry="5" fill="#8ab040" opacity="0.8"/><ellipse cx="20" cy="45" rx="18" ry="8" fill="#1e2c16" opacity="0.6"/></g><path d="M0,55 C10,58 20,62 30,66" stroke="#c03090" stroke-width="1.6" fill="none" opacity="0.8"/><path d="M0,62 C15,64 25,66 40,67" stroke="#b02880" stroke-width="1" fill="none" opacity="0.7"/><path d="M8,2 C30,6 55,10 74,26" stroke="#8a4a40" stroke-width="1.4" fill="none" opacity="0.7"/><path d="M30,32 C50,30 66,36 78,40" stroke="#a0306a" stroke-width="0.6" fill="none" opacity="0.6"/><ellipse cx="65.9" cy="56.5" rx="13" ry="12.6" fill="#2c5026" stroke="#b83a88" stroke-width="0.8"/><path d="M62,44 C70,42 76,48 78,56 C80,64 76,70 70,70" stroke="#b4e08a" stroke-width="1" fill="none" opacity="0.7"/><path d="M26.5,22.5 L32,20.5" stroke="#f0c8ec" stroke-width="1.5"/><path d="M79,30 L85,35" stroke="#e8c8f0" stroke-width="2"/><polygon points="79.3,0 97,0 97,104.3 85,104.3 82,90 80,60 78,40" fill="#07070d"/><polygon points="56,104.3 58,97 70,94.5 97,93 97,104.3" fill="#050508"/><circle cx="80.1" cy="1.3" r="1.05" fill="#26266a" stroke="#3a3aa8" stroke-width="0.45"/><circle cx="84.5" cy="1.3" r="1.05" fill="#26266a" stroke="#3a3aa8" stroke-width="0.45"/><circle cx="88.9" cy="1.3" r="1.05" fill="#26266a" stroke="#3a3aa8" stroke-width="0.45"/><circle cx="82.3" cy="5.0" r="1.05" fill="#26266a" stroke="#3a3aa8" stroke-width="0.45"/><circle cx="86.7" cy="5.0" r="1.05" fill="#26266a" stroke="#3a3aa8" stroke-width="0.45"/><circle cx="91.1" cy="5.0" r="1.05" fill="#26266a" stroke="#3a3aa8" stroke-width="0.45"/><circle cx="80.1" cy="8.7" r="1.05" fill="#26266a" stroke="#3a3aa8" stroke-width="0.45"/><circle cx="84.5" cy="8.7" r="1.05" fill="#26266a" stroke="#3a3aa8" stroke-width="0.45"/><circle cx="88.9" cy="8.7" r="1.05" fill="#26266a" stroke="#3a3aa8" stroke-width="0.45"/><circle cx="82.3" cy="12.4" r="1.05" fill="#26266a" stroke="#3a3aa8" stroke-width="0.45"/><circle cx="86.7" cy="12.4" r="1.05" fill="#26266a" stroke="#3a3aa8" stroke-width="0.45"/><circle cx="91.1" cy="12.4" r="1.05" fill="#26266a" stroke="#3a3aa8" stroke-width="0.45"/><circle cx="80.1" cy="16.1" r="1.05" fill="#26266a" stroke="#3a3aa8" stroke-width="0.45"/><circle cx="84.5" cy="16.1" r="1.05" fill="#26266a" stroke="#3a3aa8" stroke-width="0.45"/><circle cx="88.9" cy="16.1" r="1.05" fill="#26266a" stroke="#3a3aa8" stroke-width="0.45"/><circle cx="82.3" cy="19.8" r="1.05" fill="#26266a" stroke="#3a3aa8" stroke-width="0.45"/><circle cx="86.7" cy="19.8" r="1.05" fill="#26266a" stroke="#3a3aa8" stroke-width="0.45"/><circle cx="91.1" cy="19.8" r="1.05" fill="#26266a" stroke="#3a3aa8" stroke-width="0.45"/><circle cx="80.1" cy="23.5" r="1.05" fill="#26266a" stroke="#3a3aa8" stroke-width="0.45"/><circle cx="84.5" cy="23.5" r="1.05" fill="#26266a" stroke="#3a3aa8" stroke-width="0.45"/><circle cx="88.9" cy="23.5" r="1.05" fill="#26266a" stroke="#3a3aa8" stroke-width="0.45"/><circle cx="82.3" cy="27.2" r="1.05" fill="#26266a" stroke="#3a3aa8" stroke-width="0.45"/><circle cx="86.7" cy="27.2" r="1.05" fill="#26266a" stroke="#3a3aa8" stroke-width="0.45"/><circle cx="91.1" cy="27.2" r="1.05" fill="#26266a" stroke="#3a3aa8" stroke-width="0.45"/><circle cx="80.1" cy="30.9" r="1.05" fill="#26266a" stroke="#3a3aa8" stroke-width="0.45"/><circle cx="84.5" cy="30.9" r="1.05" fill="#26266a" stroke="#3a3aa8" stroke-width="0.45"/><circle cx="88.9" cy="30.9" r="1.05" fill="#26266a" stroke="#3a3aa8" stroke-width="0.45"/><circle cx="82.3" cy="34.6" r="1.05" fill="#26266a" stroke="#3a3aa8" stroke-width="0.45"/><circle cx="86.7" cy="34.6" r="1.05" fill="#26266a" stroke="#3a3aa8" stroke-width="0.45"/><circle cx="91.1" cy="34.6" r="1.05" fill="#26266a" stroke="#3a3aa8" stroke-width="0.45"/><circle cx="80.1" cy="38.3" r="1.05" fill="#26266a" stroke="#3a3aa8" stroke-width="0.45"/><circle cx="84.5" cy="38.3" r="1.05" fill="#26266a" stroke="#3a3aa8" stroke-width="0.45"/><circle cx="88.9" cy="38.3" r="1.05" fill="#26266a" stroke="#3a3aa8" stroke-width="0.45"/><circle cx="82.3" cy="42.0" r="1.05" fill="#26266a" stroke="#3a3aa8" stroke-width="0.45"/><circle cx="86.7" cy="42.0" r="1.05" fill="#26266a" stroke="#3a3aa8" stroke-width="0.45"/><circle cx="91.1" cy="42.0" r="1.05" fill="#26266a" stroke="#3a3aa8" stroke-width="0.45"/><circle cx="80.1" cy="45.7" r="1.05" fill="#26266a" stroke="#3a3aa8" stroke-width="0.45"/><circle cx="84.5" cy="45.7" r="1.05" fill="#26266a" stroke="#3a3aa8" stroke-width="0.45"/><circle cx="88.9" cy="45.7" r="1.05" fill="#26266a" stroke="#3a3aa8" stroke-width="0.45"/><circle cx="82.3" cy="49.4" r="1.05" fill="#26266a" stroke="#3a3aa8" stroke-width="0.45"/><circle cx="86.7" cy="49.4" r="1.05" fill="#26266a" stroke="#3a3aa8" stroke-width="0.45"/><circle cx="91.1" cy="49.4" r="1.05" fill="#26266a" stroke="#3a3aa8" stroke-width="0.45"/><circle cx="80.1" cy="53.1" r="1.05" fill="#26266a" stroke="#3a3aa8" stroke-width="0.45"/><circle cx="84.5" cy="53.1" r="1.05" fill="#26266a" stroke="#3a3aa8" stroke-width="0.45"/><circle cx="88.9" cy="53.1" r="1.05" fill="#26266a" stroke="#3a3aa8" stroke-width="0.45"/><circle cx="82.3" cy="56.8" r="1.05" fill="#26266a" stroke="#3a3aa8" stroke-width="0.45"/><circle cx="86.7" cy="56.8" r="1.05" fill="#26266a" stroke="#3a3aa8" stroke-width="0.45"/><circle cx="91.1" cy="56.8" r="1.05" fill="#26266a" stroke="#3a3aa8" stroke-width="0.45"/><circle cx="80.1" cy="60.5" r="1.05" fill="#26266a" stroke="#3a3aa8" stroke-width="0.45"/><circle cx="84.5" cy="60.5" r="1.05" fill="#26266a" stroke="#3a3aa8" stroke-width="0.45"/><circle cx="88.9" cy="60.5" r="1.05" fill="#26266a" stroke="#3a3aa8" stroke-width="0.45"/><circle cx="82.3" cy="64.2" r="1.05" fill="#26266a" stroke="#3a3aa8" stroke-width="0.45"/><circle cx="86.7" cy="64.2" r="1.05" fill="#26266a" stroke="#3a3aa8" stroke-width="0.45"/><circle cx="91.1" cy="64.2" r="1.05" fill="#26266a" stroke="#3a3aa8" stroke-width="0.45"/><circle cx="80.1" cy="67.9" r="1.05" fill="#26266a" stroke="#3a3aa8" stroke-width="0.45"/><circle cx="84.5" cy="67.9" r="1.05" fill="#26266a" stroke="#3a3aa8" stroke-width="0.45"/><circle cx="88.9" cy="67.9" r="1.05" fill="#26266a" stroke="#3a3aa8" stroke-width="0.45"/><circle cx="82.3" cy="71.6" r="1.05" fill="#26266a" stroke="#3a3aa8" stroke-width="0.45"/><circle cx="86.7" cy="71.6" r="1.05" fill="#26266a" stroke="#3a3aa8" stroke-width="0.45"/><circle cx="91.1" cy="71.6" r="1.05" fill="#26266a" stroke="#3a3aa8" stroke-width="0.45"/><circle cx="80.1" cy="75.3" r="1.05" fill="#26266a" stroke="#3a3aa8" stroke-width="0.45"/><circle cx="84.5" cy="75.3" r="1.05" fill="#26266a" stroke="#3a3aa8" stroke-width="0.45"/><circle cx="88.9" cy="75.3" r="1.05" fill="#26266a" stroke="#3a3aa8" stroke-width="0.45"/><circle cx="82.3" cy="79.0" r="1.05" fill="#26266a" stroke="#3a3aa8" stroke-width="0.45"/><circle cx="86.7" cy="79.0" r="1.05" fill="#26266a" stroke="#3a3aa8" stroke-width="0.45"/><circle cx="91.1" cy="79.0" r="1.05" fill="#26266a" stroke="#3a3aa8" stroke-width="0.45"/><circle cx="80.1" cy="82.7" r="1.05" fill="#26266a" stroke="#3a3aa8" stroke-width="0.45"/><circle cx="84.5" cy="82.7" r="1.05" fill="#26266a" stroke="#3a3aa8" stroke-width="0.45"/><circle cx="88.9" cy="82.7" r="1.05" fill="#26266a" stroke="#3a3aa8" stroke-width="0.45"/><circle cx="82.3" cy="86.4" r="1.05" fill="#26266a" stroke="#3a3aa8" stroke-width="0.45"/><circle cx="86.7" cy="86.4" r="1.05" fill="#26266a" stroke="#3a3aa8" stroke-width="0.45"/><circle cx="91.1" cy="86.4" r="1.05" fill="#26266a" stroke="#3a3aa8" stroke-width="0.45"/><circle cx="80.1" cy="90.1" r="1.05" fill="#26266a" stroke="#3a3aa8" stroke-width="0.45"/><circle cx="84.5" cy="90.1" r="1.05" fill="#26266a" stroke="#3a3aa8" stroke-width="0.45"/><circle cx="88.9" cy="90.1" r="1.05" fill="#26266a" stroke="#3a3aa8" stroke-width="0.45"/><circle cx="82.3" cy="93.8" r="1.05" fill="#26266a" stroke="#3a3aa8" stroke-width="0.45"/><circle cx="86.7" cy="93.8" r="1.05" fill="#26266a" stroke="#3a3aa8" stroke-width="0.45"/><circle cx="91.1" cy="93.8" r="1.05" fill="#26266a" stroke="#3a3aa8" stroke-width="0.45"/><circle cx="80.1" cy="97.5" r="1.05" fill="#26266a" stroke="#3a3aa8" stroke-width="0.45"/><circle cx="84.5" cy="97.5" r="1.05" fill="#26266a" stroke="#3a3aa8" stroke-width="0.45"/><circle cx="88.9" cy="97.5" r="1.05" fill="#26266a" stroke="#3a3aa8" stroke-width="0.45"/><circle cx="82.3" cy="101.2" r="1.05" fill="#26266a" stroke="#3a3aa8" stroke-width="0.45"/><circle cx="86.7" cy="101.2" r="1.05" fill="#26266a" stroke="#3a3aa8" stroke-width="0.45"/><circle cx="91.1" cy="101.2" r="1.05" fill="#26266a" stroke="#3a3aa8" stroke-width="0.45"/></g></g></defs><use href="#ifart" transform="translate(150.3 582)"/><use href="#ifart" transform="translate(274.1 582)"/><use href="#ifart" transform="translate(397.3 582)"/><circle cx="195.78" cy="640.41" r="1.05" fill="#86cc9e" stroke="#bfe6c4" stroke-width="0.5"/><circle cx="198.62" cy="640.41" r="1.05" fill="#86cc9e" stroke="#bfe6c4" stroke-width="0.5"/><circle cx="188.65" cy="642.88" r="1.05" fill="#86cc9e" stroke="#bfe6c4" stroke-width="0.5"/><circle cx="191.50" cy="642.88" r="1.05" fill="#86cc9e" stroke="#bfe6c4" stroke-width="0.5"/><circle cx="194.35" cy="642.88" r="1.05" fill="#86cc9e" stroke="#bfe6c4" stroke-width="0.5"/><circle cx="197.20" cy="642.88" r="1.05" fill="#86cc9e" stroke="#bfe6c4" stroke-width="0.5"/><circle cx="200.05" cy="642.88" r="1.05" fill="#86cc9e" stroke="#bfe6c4" stroke-width="0.5"/><circle cx="202.90" cy="642.88" r="1.05" fill="#86cc9e" stroke="#bfe6c4" stroke-width="0.5"/><circle cx="205.75" cy="642.88" r="1.05" fill="#86cc9e" stroke="#bfe6c4" stroke-width="0.5"/><circle cx="184.38" cy="645.35" r="1.05" fill="#86cc9e" stroke="#bfe6c4" stroke-width="0.5"/><circle cx="187.23" cy="645.35" r="1.05" fill="#86cc9e" stroke="#bfe6c4" stroke-width="0.5"/><circle cx="190.08" cy="645.35" r="1.05" fill="#86cc9e" stroke="#bfe6c4" stroke-width="0.5"/><circle cx="192.93" cy="645.35" r="1.05" fill="#86cc9e" stroke="#bfe6c4" stroke-width="0.5"/><circle cx="195.78" cy="645.35" r="1.05" fill="#86cc9e" stroke="#bfe6c4" stroke-width="0.5"/><circle cx="198.62" cy="645.35" r="1.05" fill="#86cc9e" stroke="#bfe6c4" stroke-width="0.5"/><circle cx="201.48" cy="645.35" r="1.05" fill="#86cc9e" stroke="#bfe6c4" stroke-width="0.5"/><circle cx="204.33" cy="645.35" r="1.05" fill="#86cc9e" stroke="#bfe6c4" stroke-width="0.5"/><circle cx="207.18" cy="645.35" r="1.05" fill="#86cc9e" stroke="#bfe6c4" stroke-width="0.5"/><circle cx="151.60" cy="647.82" r="1.05" fill="#86cc9e" stroke="#bfe6c4" stroke-width="0.5"/><circle cx="154.45" cy="647.82" r="1.05" fill="#86cc9e" stroke="#bfe6c4" stroke-width="0.5"/><circle cx="157.30" cy="647.82" r="1.05" fill="#86cc9e" stroke="#bfe6c4" stroke-width="0.5"/><circle cx="160.15" cy="647.82" r="1.05" fill="#86cc9e" stroke="#bfe6c4" stroke-width="0.5"/><circle cx="163.00" cy="647.82" r="1.05" fill="#86cc9e" stroke="#bfe6c4" stroke-width="0.5"/><circle cx="165.85" cy="647.82" r="1.05" fill="#86cc9e" stroke="#bfe6c4" stroke-width="0.5"/><circle cx="168.70" cy="647.82" r="1.05" fill="#86cc9e" stroke="#bfe6c4" stroke-width="0.5"/><circle cx="171.55" cy="647.82" r="1.05" fill="#86cc9e" stroke="#bfe6c4" stroke-width="0.5"/><circle cx="174.40" cy="647.82" r="1.05" fill="#86cc9e" stroke="#bfe6c4" stroke-width="0.5"/><circle cx="177.25" cy="647.82" r="1.05" fill="#86cc9e" stroke="#bfe6c4" stroke-width="0.5"/><circle cx="182.95" cy="647.82" r="1.05" fill="#86cc9e" stroke="#bfe6c4" stroke-width="0.5"/><circle cx="185.80" cy="647.82" r="1.05" fill="#86cc9e" stroke="#bfe6c4" stroke-width="0.5"/><circle cx="188.65" cy="647.82" r="1.05" fill="#4aa6b0" stroke="#bfe6c4" stroke-width="0.5"/><circle cx="191.50" cy="647.82" r="1.05" fill="#4aa6b0" stroke="#bfe6c4" stroke-width="0.5"/><circle cx="194.35" cy="647.82" r="1.05" fill="#4aa6b0" stroke="#bfe6c4" stroke-width="0.5"/><circle cx="197.20" cy="647.82" r="1.05" fill="#4aa6b0" stroke="#bfe6c4" stroke-width="0.5"/><circle cx="200.05" cy="647.82" r="1.05" fill="#4aa6b0" stroke="#bfe6c4" stroke-width="0.5"/><circle cx="202.90" cy="647.82" r="1.05" fill="#4aa6b0" stroke="#bfe6c4" stroke-width="0.5"/><circle cx="205.75" cy="647.82" r="1.05" fill="#4aa6b0" stroke="#bfe6c4" stroke-width="0.5"/><circle cx="208.60" cy="647.82" r="1.05" fill="#4aa6b0" stroke="#bfe6c4" stroke-width="0.5"/><circle cx="211.45" cy="647.82" r="1.05" fill="#86cc9e" stroke="#bfe6c4" stroke-width="0.5"/><circle cx="214.30" cy="647.82" r="1.05" fill="#86cc9e" stroke="#bfe6c4" stroke-width="0.5"/><circle cx="153.03" cy="650.29" r="1.05" fill="#86cc9e" stroke="#bfe6c4" stroke-width="0.5"/><circle cx="155.88" cy="650.29" r="1.05" fill="#86cc9e" stroke="#bfe6c4" stroke-width="0.5"/><circle cx="158.73" cy="650.29" r="1.05" fill="#86cc9e" stroke="#bfe6c4" stroke-width="0.5"/><circle cx="161.58" cy="650.29" r="1.05" fill="#86cc9e" stroke="#bfe6c4" stroke-width="0.5"/><circle cx="164.43" cy="650.29" r="1.05" fill="#86cc9e" stroke="#bfe6c4" stroke-width="0.5"/><circle cx="167.28" cy="650.29" r="1.05" fill="#86cc9e" stroke="#bfe6c4" stroke-width="0.5"/><circle cx="170.12" cy="650.29" r="1.05" fill="#86cc9e" stroke="#bfe6c4" stroke-width="0.5"/><circle cx="172.98" cy="650.29" r="1.05" fill="#86cc9e" stroke="#bfe6c4" stroke-width="0.5"/><circle cx="175.83" cy="650.29" r="1.05" fill="#86cc9e" stroke="#bfe6c4" stroke-width="0.5"/><circle cx="178.68" cy="650.29" r="1.05" fill="#86cc9e" stroke="#bfe6c4" stroke-width="0.5"/><circle cx="181.53" cy="650.29" r="1.05" fill="#86cc9e" stroke="#bfe6c4" stroke-width="0.5"/><circle cx="184.38" cy="650.29" r="1.05" fill="#86cc9e" stroke="#bfe6c4" stroke-width="0.5"/><circle cx="187.23" cy="650.29" r="1.05" fill="#4aa6b0" stroke="#bfe6c4" stroke-width="0.5"/><circle cx="190.08" cy="650.29" r="1.05" fill="#4aa6b0" stroke="#bfe6c4" stroke-width="0.5"/><circle cx="192.93" cy="650.29" r="1.05" fill="#4aa6b0" stroke="#bfe6c4" stroke-width="0.5"/><circle cx="195.78" cy="650.29" r="1.05" fill="#4aa6b0" stroke="#bfe6c4" stroke-width="0.5"/><circle cx="198.62" cy="650.29" r="1.05" fill="#4aa6b0" stroke="#bfe6c4" stroke-width="0.5"/><circle cx="201.48" cy="650.29" r="1.05" fill="#4aa6b0" stroke="#bfe6c4" stroke-width="0.5"/><circle cx="204.33" cy="650.29" r="1.05" fill="#4aa6b0" stroke="#bfe6c4" stroke-width="0.5"/><circle cx="207.18" cy="650.29" r="1.05" fill="#4aa6b0" stroke="#bfe6c4" stroke-width="0.5"/><circle cx="210.03" cy="650.29" r="1.05" fill="#4aa6b0" stroke="#bfe6c4" stroke-width="0.5"/><circle cx="212.88" cy="650.29" r="1.05" fill="#86cc9e" stroke="#bfe6c4" stroke-width="0.5"/><circle cx="215.73" cy="650.29" r="1.05" fill="#86cc9e" stroke="#bfe6c4" stroke-width="0.5"/><circle cx="151.60" cy="652.76" r="1.05" fill="#86cc9e" stroke="#bfe6c4" stroke-width="0.5"/><circle cx="154.45" cy="652.76" r="1.05" fill="#86cc9e" stroke="#bfe6c4" stroke-width="0.5"/><circle cx="157.30" cy="652.76" r="1.05" fill="#86cc9e" stroke="#bfe6c4" stroke-width="0.5"/><circle cx="160.15" cy="652.76" r="1.05" fill="#86cc9e" stroke="#bfe6c4" stroke-width="0.5"/><circle cx="163.00" cy="652.76" r="1.05" fill="#86cc9e" stroke="#bfe6c4" stroke-width="0.5"/><circle cx="165.85" cy="652.76" r="1.05" fill="#86cc9e" stroke="#bfe6c4" stroke-width="0.5"/><circle cx="168.70" cy="652.76" r="1.05" fill="#86cc9e" stroke="#bfe6c4" stroke-width="0.5"/><circle cx="171.55" cy="652.76" r="1.05" fill="#86cc9e" stroke="#bfe6c4" stroke-width="0.5"/><circle cx="174.40" cy="652.76" r="1.05" fill="#86cc9e" stroke="#bfe6c4" stroke-width="0.5"/><circle cx="177.25" cy="652.76" r="1.05" fill="#86cc9e" stroke="#bfe6c4" stroke-width="0.5"/><circle cx="180.10" cy="652.76" r="1.05" fill="#86cc9e" stroke="#bfe6c4" stroke-width="0.5"/><circle cx="182.95" cy="652.76" r="1.05" fill="#86cc9e" stroke="#bfe6c4" stroke-width="0.5"/><circle cx="185.80" cy="652.76" r="1.05" fill="#86cc9e" stroke="#bfe6c4" stroke-width="0.5"/><circle cx="188.65" cy="652.76" r="1.05" fill="#4aa6b0" stroke="#bfe6c4" stroke-width="0.5"/><circle cx="191.50" cy="652.76" r="1.05" fill="#4aa6b0" stroke="#bfe6c4" stroke-width="0.5"/><circle cx="194.35" cy="652.76" r="1.05" fill="#4aa6b0" stroke="#bfe6c4" stroke-width="0.5"/><circle cx="197.20" cy="652.76" r="1.05" fill="#4aa6b0" stroke="#bfe6c4" stroke-width="0.5"/><circle cx="200.05" cy="652.76" r="1.05" fill="#4aa6b0" stroke="#bfe6c4" stroke-width="0.5"/><circle cx="202.90" cy="652.76" r="1.05" fill="#4aa6b0" stroke="#bfe6c4" stroke-width="0.5"/><circle cx="205.75" cy="652.76" r="1.05" fill="#4aa6b0" stroke="#bfe6c4" stroke-width="0.5"/><circle cx="208.60" cy="652.76" r="1.05" fill="#4aa6b0" stroke="#bfe6c4" stroke-width="0.5"/><circle cx="211.45" cy="652.76" r="1.05" fill="#86cc9e" stroke="#bfe6c4" stroke-width="0.5"/><circle cx="214.30" cy="652.76" r="1.05" fill="#86cc9e" stroke="#bfe6c4" stroke-width="0.5"/><circle cx="153.03" cy="655.23" r="1.05" fill="#86cc9e" stroke="#bfe6c4" stroke-width="0.5"/><circle cx="155.88" cy="655.23" r="1.05" fill="#86cc9e" stroke="#bfe6c4" stroke-width="0.5"/><circle cx="184.38" cy="655.23" r="1.05" fill="#86cc9e" stroke="#bfe6c4" stroke-width="0.5"/><circle cx="187.23" cy="655.23" r="1.05" fill="#4aa6b0" stroke="#bfe6c4" stroke-width="0.5"/><circle cx="190.08" cy="655.23" r="1.05" fill="#4aa6b0" stroke="#bfe6c4" stroke-width="0.5"/><circle cx="192.93" cy="655.23" r="1.05" fill="#4aa6b0" stroke="#bfe6c4" stroke-width="0.5"/><circle cx="195.78" cy="655.23" r="1.05" fill="#4aa6b0" stroke="#bfe6c4" stroke-width="0.5"/><circle cx="198.62" cy="655.23" r="1.05" fill="#4aa6b0" stroke="#bfe6c4" stroke-width="0.5"/><circle cx="201.48" cy="655.23" r="1.05" fill="#4aa6b0" stroke="#bfe6c4" stroke-width="0.5"/><circle cx="204.33" cy="655.23" r="1.05" fill="#4aa6b0" stroke="#bfe6c4" stroke-width="0.5"/><circle cx="207.18" cy="655.23" r="1.05" fill="#4aa6b0" stroke="#bfe6c4" stroke-width="0.5"/><circle cx="210.03" cy="655.23" r="1.05" fill="#4aa6b0" stroke="#bfe6c4" stroke-width="0.5"/><circle cx="212.88" cy="655.23" r="1.05" fill="#86cc9e" stroke="#bfe6c4" stroke-width="0.5"/><circle cx="191.50" cy="657.70" r="1.05" fill="#4aa6b0" stroke="#bfe6c4" stroke-width="0.5"/><circle cx="194.35" cy="657.70" r="1.05" fill="#4aa6b0" stroke="#bfe6c4" stroke-width="0.5"/><circle cx="197.20" cy="657.70" r="1.05" fill="#4aa6b0" stroke="#bfe6c4" stroke-width="0.5"/><circle cx="200.05" cy="657.70" r="1.05" fill="#4aa6b0" stroke="#bfe6c4" stroke-width="0.5"/><circle cx="202.90" cy="657.70" r="1.05" fill="#4aa6b0" stroke="#bfe6c4" stroke-width="0.5"/><circle cx="205.75" cy="657.70" r="1.05" fill="#4aa6b0" stroke="#bfe6c4" stroke-width="0.5"/><circle cx="208.60" cy="657.70" r="1.05" fill="#4aa6b0" stroke="#bfe6c4" stroke-width="0.5"/><circle cx="211.45" cy="657.70" r="1.05" fill="#86cc9e" stroke="#bfe6c4" stroke-width="0.5"/><circle cx="198.62" cy="660.17" r="1.05" fill="#86cc9e" stroke="#bfe6c4" stroke-width="0.5"/><circle cx="201.48" cy="660.17" r="1.05" fill="#86cc9e" stroke="#bfe6c4" stroke-width="0.5"/><circle cx="204.33" cy="660.17" r="1.05" fill="#86cc9e" stroke="#bfe6c4" stroke-width="0.5"/><circle cx="151.60" cy="583.60" r="1.05" fill="#86cc9e" stroke="#bfe6c4" stroke-width="0.5"/><circle cx="154.50" cy="583.60" r="1.05" fill="#86cc9e" stroke="#bfe6c4" stroke-width="0.5"/><circle cx="157.30" cy="583.60" r="1.05" fill="#86cc9e" stroke="#bfe6c4" stroke-width="0.5"/><circle cx="153.00" cy="586.10" r="1.05" fill="#86cc9e" stroke="#bfe6c4" stroke-width="0.5"/><circle cx="155.90" cy="586.10" r="1.05" fill="#86cc9e" stroke="#bfe6c4" stroke-width="0.5"/><circle cx="151.60" cy="588.50" r="1.05" fill="#86cc9e" stroke="#bfe6c4" stroke-width="0.5"/><circle cx="163.00" cy="583.60" r="1.05" fill="#86cc9e" stroke="#bfe6c4" stroke-width="0.5"/><circle cx="165.80" cy="583.60" r="1.05" fill="#86cc9e" stroke="#bfe6c4" stroke-width="0.5"/><circle cx="218.30" cy="596.00" r="1.05" fill="#86cc9e" stroke="#bfe6c4" stroke-width="0.5"/><circle cx="221.20" cy="596.00" r="1.05" fill="#86cc9e" stroke="#bfe6c4" stroke-width="0.5"/><circle cx="224.00" cy="596.00" r="1.05" fill="#86cc9e" stroke="#bfe6c4" stroke-width="0.5"/><circle cx="219.70" cy="598.40" r="1.05" fill="#86cc9e" stroke="#bfe6c4" stroke-width="0.5"/><circle cx="222.60" cy="598.40" r="1.05" fill="#86cc9e" stroke="#bfe6c4" stroke-width="0.5"/><circle cx="218.30" cy="600.90" r="1.05" fill="#86cc9e" stroke="#bfe6c4" stroke-width="0.5"/><circle cx="221.20" cy="600.90" r="1.05" fill="#86cc9e" stroke="#bfe6c4" stroke-width="0.5"/><circle cx="224.00" cy="600.90" r="1.05" fill="#86cc9e" stroke="#bfe6c4" stroke-width="0.5"/><circle cx="221.30" cy="609.00" r="1.05" fill="#86cc9e" stroke="#bfe6c4" stroke-width="0.5"/><circle cx="219.80" cy="615.00" r="1.05" fill="#86cc9e" stroke="#bfe6c4" stroke-width="0.5"/><circle cx="222.70" cy="615.00" r="1.05" fill="#86cc9e" stroke="#bfe6c4" stroke-width="0.5"/><circle cx="275.40" cy="583.60" r="1.15" fill="#f4d070"/><circle cx="278.25" cy="583.60" r="1.15" fill="#f8f2c0"/><circle cx="281.10" cy="583.60" r="1.15" fill="#f6ec9c"/><circle cx="286.80" cy="583.60" r="1.15" fill="#f4d070"/><circle cx="289.65" cy="583.60" r="1.15" fill="#f4d070"/><circle cx="292.50" cy="583.60" r="1.15" fill="#f4d070"/><circle cx="295.35" cy="583.60" r="1.15" fill="#f6ec9c"/><circle cx="301.05" cy="583.60" r="1.15" fill="#f4d070"/><circle cx="303.90" cy="583.60" r="1.15" fill="#f8f2c0"/><circle cx="306.75" cy="583.60" r="1.15" fill="#f4d070"/><circle cx="309.60" cy="583.60" r="1.15" fill="#f4d070"/><circle cx="312.45" cy="583.60" r="1.15" fill="#f8f2c0"/><circle cx="315.30" cy="583.60" r="1.15" fill="#f8f2c0"/><circle cx="318.15" cy="583.60" r="1.15" fill="#f4d070"/><circle cx="321.00" cy="583.60" r="1.15" fill="#f8f2c0"/><circle cx="323.85" cy="583.60" r="1.15" fill="#f8f2c0"/><circle cx="326.70" cy="583.60" r="1.15" fill="#f6ec9c"/><circle cx="329.55" cy="583.60" r="1.15" fill="#f6ec9c"/><circle cx="332.40" cy="583.60" r="1.15" fill="#f8f2c0"/><circle cx="335.25" cy="583.60" r="1.15" fill="#f6ec9c"/><circle cx="338.10" cy="583.60" r="1.15" fill="#f4d070"/><circle cx="340.95" cy="583.60" r="1.15" fill="#f4d070"/><circle cx="343.80" cy="583.60" r="1.15" fill="#f8f2c0"/><circle cx="349.50" cy="583.60" r="1.15" fill="#f6ec9c"/><circle cx="325.28" cy="586.07" r="1.15" fill="#f8f2c0"/><circle cx="333.83" cy="586.07" r="1.15" fill="#f8f2c0"/><circle cx="342.38" cy="586.07" r="1.15" fill="#f4d070"/><circle cx="345.23" cy="586.07" r="1.15" fill="#f8f2c0"/><circle cx="348.08" cy="586.07" r="1.15" fill="#f6ec9c"/><circle cx="275.40" cy="588.54" r="1.15" fill="#f4d070"/><circle cx="332.40" cy="588.54" r="1.15" fill="#f6ec9c"/><circle cx="335.25" cy="588.54" r="1.15" fill="#f8f2c0"/><circle cx="340.95" cy="588.54" r="1.15" fill="#f8f2c0"/><circle cx="343.80" cy="588.54" r="1.15" fill="#f4d070"/><circle cx="346.65" cy="588.54" r="1.15" fill="#f8f2c0"/><circle cx="339.53" cy="591.01" r="1.15" fill="#f8f2c0"/><circle cx="342.38" cy="591.01" r="1.15" fill="#f8f2c0"/><circle cx="345.23" cy="591.01" r="1.15" fill="#f8f2c0"/><circle cx="275.40" cy="593.48" r="1.15" fill="#f8f2c0"/><circle cx="335.25" cy="593.48" r="1.15" fill="#f8f2c0"/><circle cx="343.80" cy="593.48" r="1.15" fill="#f8f2c0"/><circle cx="336.68" cy="595.95" r="1.15" fill="#f8f2c0"/><circle cx="338.10" cy="598.42" r="1.15" fill="#f8f2c0"/><circle cx="343.80" cy="598.42" r="1.15" fill="#f6ec9c"/><circle cx="349.50" cy="598.42" r="1.15" fill="#f4d070"/><circle cx="336.68" cy="600.89" r="1.15" fill="#f8f2c0"/><circle cx="345.23" cy="600.89" r="1.15" fill="#f6ec9c"/><circle cx="348.08" cy="600.89" r="1.15" fill="#f4d070"/><circle cx="335.25" cy="603.36" r="1.15" fill="#f6ec9c"/><circle cx="338.10" cy="603.36" r="1.15" fill="#f6ec9c"/><circle cx="340.95" cy="603.36" r="1.15" fill="#f4d070"/><circle cx="343.80" cy="603.36" r="1.15" fill="#f4d070"/><circle cx="333.83" cy="605.83" r="1.15" fill="#f6ec9c"/><circle cx="339.53" cy="605.83" r="1.15" fill="#f6ec9c"/><circle cx="348.08" cy="605.83" r="1.15" fill="#f4d070"/><circle cx="295.35" cy="608.30" r="1.15" fill="#f6ec9c"/><circle cx="335.25" cy="608.30" r="1.15" fill="#f8f2c0"/><circle cx="343.80" cy="608.30" r="1.15" fill="#f6ec9c"/><circle cx="325.28" cy="610.77" r="1.15" fill="#f4d070"/><circle cx="339.53" cy="610.77" r="1.15" fill="#f4d070"/><circle cx="342.38" cy="610.77" r="1.15" fill="#f8f2c0"/><circle cx="318.15" cy="613.24" r="1.15" fill="#f4d070"/><circle cx="321.00" cy="613.24" r="1.15" fill="#f6ec9c"/><circle cx="326.70" cy="613.24" r="1.15" fill="#f4d070"/><circle cx="332.40" cy="613.24" r="1.15" fill="#f8f2c0"/><circle cx="338.10" cy="613.24" r="1.15" fill="#f8f2c0"/><circle cx="349.50" cy="613.24" r="1.15" fill="#f6ec9c"/><circle cx="288.23" cy="615.71" r="1.15" fill="#f8f2c0"/><circle cx="308.18" cy="615.71" r="1.15" fill="#f6ec9c"/><circle cx="311.03" cy="615.71" r="1.15" fill="#f8f2c0"/><circle cx="319.58" cy="615.71" r="1.15" fill="#f4d070"/><circle cx="325.28" cy="615.71" r="1.15" fill="#f8f2c0"/><circle cx="328.12" cy="615.71" r="1.15" fill="#f4d070"/><circle cx="330.98" cy="615.71" r="1.15" fill="#f6ec9c"/><circle cx="333.83" cy="615.71" r="1.15" fill="#f4d070"/><circle cx="339.53" cy="615.71" r="1.15" fill="#f8f2c0"/><circle cx="306.75" cy="618.18" r="1.15" fill="#f8f2c0"/><circle cx="329.55" cy="618.18" r="1.15" fill="#f6ec9c"/><circle cx="335.25" cy="618.18" r="1.15" fill="#f8f2c0"/><circle cx="340.95" cy="618.18" r="1.15" fill="#f6ec9c"/><circle cx="305.33" cy="620.65" r="1.15" fill="#f8f2c0"/><circle cx="313.88" cy="620.65" r="1.15" fill="#f4d070"/><circle cx="328.12" cy="620.65" r="1.15" fill="#f8f2c0"/><circle cx="339.53" cy="620.65" r="1.15" fill="#f8f2c0"/><circle cx="295.35" cy="623.12" r="1.15" fill="#f8f2c0"/><circle cx="298.20" cy="623.12" r="1.15" fill="#f8f2c0"/><circle cx="303.90" cy="623.12" r="1.15" fill="#f4d070"/><circle cx="315.30" cy="623.12" r="1.15" fill="#f8f2c0"/><circle cx="308.18" cy="625.59" r="1.15" fill="#f6ec9c"/><circle cx="311.03" cy="625.59" r="1.15" fill="#f8f2c0"/><circle cx="281.10" cy="628.06" r="1.15" fill="#f8f2c0"/><circle cx="286.80" cy="628.06" r="1.15" fill="#f6ec9c"/><circle cx="289.65" cy="628.06" r="1.15" fill="#f8f2c0"/><circle cx="292.50" cy="628.06" r="1.15" fill="#f4d070"/><circle cx="295.35" cy="628.06" r="1.15" fill="#f6ec9c"/><circle cx="301.05" cy="628.06" r="1.15" fill="#f4d070"/><circle cx="303.90" cy="628.06" r="1.15" fill="#f8f2c0"/><circle cx="306.75" cy="628.06" r="1.15" fill="#f4d070"/><circle cx="315.30" cy="628.06" r="1.15" fill="#f8f2c0"/><circle cx="318.15" cy="628.06" r="1.15" fill="#f8f2c0"/><circle cx="282.53" cy="630.53" r="1.15" fill="#f4d070"/><circle cx="285.38" cy="630.53" r="1.15" fill="#f8f2c0"/><circle cx="293.93" cy="630.53" r="1.15" fill="#f8f2c0"/><circle cx="305.33" cy="630.53" r="1.15" fill="#f6ec9c"/><circle cx="313.88" cy="630.53" r="1.15" fill="#f6ec9c"/><circle cx="316.73" cy="630.53" r="1.15" fill="#f6ec9c"/><circle cx="319.58" cy="630.53" r="1.15" fill="#f8f2c0"/><circle cx="325.28" cy="630.53" r="1.15" fill="#f8f2c0"/><circle cx="281.10" cy="633.00" r="1.15" fill="#f4d070"/><circle cx="286.80" cy="633.00" r="1.15" fill="#f6ec9c"/><circle cx="289.65" cy="633.00" r="1.15" fill="#f8f2c0"/><circle cx="298.20" cy="633.00" r="1.15" fill="#f6ec9c"/><circle cx="312.45" cy="633.00" r="1.15" fill="#f8f2c0"/><circle cx="318.15" cy="633.00" r="1.15" fill="#f4d070"/><circle cx="321.00" cy="633.00" r="1.15" fill="#f4d070"/><circle cx="288.23" cy="635.47" r="1.15" fill="#f8f2c0"/><circle cx="293.93" cy="635.47" r="1.15" fill="#f8f2c0"/><circle cx="302.48" cy="635.47" r="1.15" fill="#f6ec9c"/><circle cx="313.88" cy="635.47" r="1.15" fill="#f8f2c0"/><circle cx="316.73" cy="635.47" r="1.15" fill="#f8f2c0"/><circle cx="319.58" cy="635.47" r="1.15" fill="#f6ec9c"/><circle cx="325.28" cy="635.47" r="1.15" fill="#f8f2c0"/><circle cx="281.10" cy="637.94" r="1.15" fill="#f8f2c0"/><circle cx="283.95" cy="637.94" r="1.15" fill="#f6ec9c"/><circle cx="289.65" cy="637.94" r="1.15" fill="#f4d070"/><circle cx="292.50" cy="637.94" r="1.15" fill="#f8f2c0"/><circle cx="295.35" cy="637.94" r="1.15" fill="#f4d070"/><circle cx="298.20" cy="637.94" r="1.15" fill="#f8f2c0"/><circle cx="301.05" cy="637.94" r="1.15" fill="#f8f2c0"/><circle cx="315.30" cy="637.94" r="1.15" fill="#f8f2c0"/><circle cx="282.53" cy="640.41" r="1.15" fill="#f8f2c0"/><circle cx="288.23" cy="640.41" r="1.15" fill="#f8f2c0"/><circle cx="296.78" cy="640.41" r="1.15" fill="#f6ec9c"/><circle cx="299.62" cy="640.41" r="1.15" fill="#f6ec9c"/><circle cx="302.48" cy="640.41" r="1.15" fill="#f8f2c0"/><circle cx="311.03" cy="640.41" r="1.15" fill="#f8f2c0"/><circle cx="313.88" cy="640.41" r="1.15" fill="#f8f2c0"/><circle cx="316.73" cy="640.41" r="1.15" fill="#f8f2c0"/><circle cx="325.28" cy="640.41" r="1.15" fill="#f4d070"/><circle cx="289.65" cy="642.88" r="1.15" fill="#f8f0b8"/><circle cx="292.50" cy="642.88" r="1.15" fill="#f8f0b8"/><circle cx="295.35" cy="642.88" r="1.15" fill="#f8f0b8"/><circle cx="298.20" cy="642.88" r="1.15" fill="#f4d070"/><circle cx="301.05" cy="642.88" r="1.15" fill="#f8f0b8"/><circle cx="303.90" cy="642.88" r="1.15" fill="#f8f0b8"/><circle cx="306.75" cy="642.88" r="1.15" fill="#e86a40"/><circle cx="309.60" cy="642.88" r="1.15" fill="#e86a40"/><circle cx="312.45" cy="642.88" r="1.15" fill="#f8f0b8"/><circle cx="315.30" cy="642.88" r="1.15" fill="#f8f0b8"/><circle cx="318.15" cy="642.88" r="1.15" fill="#f6ec9c"/><circle cx="321.00" cy="642.88" r="1.15" fill="#f8f0b8"/><circle cx="323.85" cy="642.88" r="1.15" fill="#f4d070"/><circle cx="276.83" cy="645.35" r="1.15" fill="#f8f0b8"/><circle cx="282.53" cy="645.35" r="1.15" fill="#f0a850"/><circle cx="285.38" cy="645.35" r="1.15" fill="#f6ec9c"/><circle cx="288.23" cy="645.35" r="1.15" fill="#f4d070"/><circle cx="291.08" cy="645.35" r="1.15" fill="#f8f0b8"/><circle cx="293.93" cy="645.35" r="1.15" fill="#f0a850"/><circle cx="296.78" cy="645.35" r="1.15" fill="#e86a40"/><circle cx="299.62" cy="645.35" r="1.15" fill="#f0a850"/><circle cx="302.48" cy="645.35" r="1.15" fill="#f0a850"/><circle cx="305.33" cy="645.35" r="1.15" fill="#f0a850"/><circle cx="308.18" cy="645.35" r="1.15" fill="#f8f0b8"/><circle cx="311.03" cy="645.35" r="1.15" fill="#f8f0b8"/><circle cx="313.88" cy="645.35" r="1.15" fill="#e86a40"/><circle cx="316.73" cy="645.35" r="1.15" fill="#f6ec9c"/><circle cx="319.58" cy="645.35" r="1.15" fill="#f0a850"/><circle cx="322.43" cy="645.35" r="1.15" fill="#f6ec9c"/><circle cx="325.28" cy="645.35" r="1.15" fill="#f4d070"/><circle cx="275.40" cy="647.82" r="1.15" fill="#f8f0b8"/><circle cx="278.25" cy="647.82" r="1.15" fill="#f6ec9c"/><circle cx="281.10" cy="647.82" r="1.15" fill="#f8f0b8"/><circle cx="283.95" cy="647.82" r="1.15" fill="#f0a850"/><circle cx="286.80" cy="647.82" r="1.15" fill="#f0a850"/><circle cx="289.65" cy="647.82" r="1.15" fill="#f8f0b8"/><circle cx="292.50" cy="647.82" r="1.15" fill="#f4d070"/><circle cx="298.20" cy="647.82" r="1.15" fill="#f6ec9c"/><circle cx="301.05" cy="647.82" r="1.15" fill="#f6ec9c"/><circle cx="303.90" cy="647.82" r="1.15" fill="#e86a40"/><circle cx="306.75" cy="647.82" r="1.15" fill="#f8f0b8"/><circle cx="309.60" cy="647.82" r="1.15" fill="#f8f0b8"/><circle cx="315.30" cy="647.82" r="1.15" fill="#e86a40"/><circle cx="318.15" cy="647.82" r="1.15" fill="#f8f0b8"/><circle cx="321.00" cy="647.82" r="1.15" fill="#f0a850"/><circle cx="323.85" cy="647.82" r="1.15" fill="#f8f0b8"/><circle cx="326.70" cy="647.82" r="1.15" fill="#f8f0b8"/><circle cx="276.83" cy="650.29" r="1.15" fill="#e86a40"/><circle cx="279.68" cy="650.29" r="1.15" fill="#f8f0b8"/><circle cx="282.53" cy="650.29" r="1.15" fill="#f6ec9c"/><circle cx="285.38" cy="650.29" r="1.15" fill="#f8f0b8"/><circle cx="288.23" cy="650.29" r="1.15" fill="#f4d070"/><circle cx="291.08" cy="650.29" r="1.15" fill="#e86a40"/><circle cx="293.93" cy="650.29" r="1.15" fill="#e86a40"/><circle cx="296.78" cy="650.29" r="1.15" fill="#f8f0b8"/><circle cx="299.62" cy="650.29" r="1.15" fill="#e86a40"/><circle cx="302.48" cy="650.29" r="1.15" fill="#f6ec9c"/><circle cx="305.33" cy="650.29" r="1.15" fill="#f8f0b8"/><circle cx="308.18" cy="650.29" r="1.15" fill="#f0a850"/><circle cx="311.03" cy="650.29" r="1.15" fill="#f4d070"/><circle cx="313.88" cy="650.29" r="1.15" fill="#e86a40"/><circle cx="316.73" cy="650.29" r="1.15" fill="#f8f0b8"/><circle cx="319.58" cy="650.29" r="1.15" fill="#f4d070"/><circle cx="322.43" cy="650.29" r="1.15" fill="#f8f0b8"/><circle cx="325.28" cy="650.29" r="1.15" fill="#f4d070"/><circle cx="330.98" cy="650.29" r="1.15" fill="#f6ec9c"/><circle cx="348.08" cy="650.29" r="1.15" fill="#e86a40"/><circle cx="350.93" cy="650.29" r="1.15" fill="#f8f0b8"/><circle cx="275.40" cy="652.76" r="1.15" fill="#f6ec9c"/><circle cx="278.25" cy="652.76" r="1.15" fill="#f4d070"/><circle cx="281.10" cy="652.76" r="1.15" fill="#f0a850"/><circle cx="283.95" cy="652.76" r="1.15" fill="#f8f0b8"/><circle cx="286.80" cy="652.76" r="1.15" fill="#f8f0b8"/><circle cx="289.65" cy="652.76" r="1.15" fill="#f6ec9c"/><circle cx="292.50" cy="652.76" r="1.15" fill="#f8f0b8"/><circle cx="295.35" cy="652.76" r="1.15" fill="#f8f0b8"/><circle cx="298.20" cy="652.76" r="1.15" fill="#f6ec9c"/><circle cx="303.90" cy="652.76" r="1.15" fill="#e86a40"/><circle cx="309.60" cy="652.76" r="1.15" fill="#f8f0b8"/><circle cx="312.45" cy="652.76" r="1.15" fill="#f4d070"/><circle cx="315.30" cy="652.76" r="1.15" fill="#f4d070"/><circle cx="318.15" cy="652.76" r="1.15" fill="#f4d070"/><circle cx="321.00" cy="652.76" r="1.15" fill="#f4d070"/><circle cx="323.85" cy="652.76" r="1.15" fill="#f6ec9c"/><circle cx="326.70" cy="652.76" r="1.15" fill="#f8f0b8"/><circle cx="329.55" cy="652.76" r="1.15" fill="#f4d070"/><circle cx="332.40" cy="652.76" r="1.15" fill="#f8f0b8"/><circle cx="335.25" cy="652.76" r="1.15" fill="#f8f0b8"/><circle cx="338.10" cy="652.76" r="1.15" fill="#f0a850"/><circle cx="340.95" cy="652.76" r="1.15" fill="#e86a40"/><circle cx="343.80" cy="652.76" r="1.15" fill="#e86a40"/><circle cx="346.65" cy="652.76" r="1.15" fill="#f0a850"/><circle cx="349.50" cy="652.76" r="1.15" fill="#f4d070"/><circle cx="276.83" cy="655.23" r="1.15" fill="#f0a850"/><circle cx="279.68" cy="655.23" r="1.15" fill="#f0a850"/><circle cx="282.53" cy="655.23" r="1.15" fill="#f0a850"/><circle cx="285.38" cy="655.23" r="1.15" fill="#f4d070"/><circle cx="288.23" cy="655.23" r="1.15" fill="#f4d070"/><circle cx="291.08" cy="655.23" r="1.15" fill="#f8f0b8"/><circle cx="293.93" cy="655.23" r="1.15" fill="#f8f0b8"/><circle cx="296.78" cy="655.23" r="1.15" fill="#e86a40"/><circle cx="299.62" cy="655.23" r="1.15" fill="#f8f0b8"/><circle cx="302.48" cy="655.23" r="1.15" fill="#f6ec9c"/><circle cx="305.33" cy="655.23" r="1.15" fill="#f8f0b8"/><circle cx="308.18" cy="655.23" r="1.15" fill="#f6ec9c"/><circle cx="311.03" cy="655.23" r="1.15" fill="#f0a850"/><circle cx="313.88" cy="655.23" r="1.15" fill="#f8f0b8"/><circle cx="316.73" cy="655.23" r="1.15" fill="#f4d070"/><circle cx="319.58" cy="655.23" r="1.15" fill="#f6ec9c"/><circle cx="322.43" cy="655.23" r="1.15" fill="#f0a850"/><circle cx="325.28" cy="655.23" r="1.15" fill="#f4d070"/><circle cx="328.12" cy="655.23" r="1.15" fill="#f6ec9c"/><circle cx="333.83" cy="655.23" r="1.15" fill="#f8f0b8"/><circle cx="336.68" cy="655.23" r="1.15" fill="#f8f0b8"/><circle cx="339.53" cy="655.23" r="1.15" fill="#f6ec9c"/><circle cx="342.38" cy="655.23" r="1.15" fill="#f8f0b8"/><circle cx="345.23" cy="655.23" r="1.15" fill="#f6ec9c"/><circle cx="348.08" cy="655.23" r="1.15" fill="#f8f0b8"/><circle cx="350.93" cy="655.23" r="1.15" fill="#f4d070"/><circle cx="292.50" cy="657.70" r="1.15" fill="#f0a850"/><circle cx="295.35" cy="657.70" r="1.15" fill="#f6ec9c"/><circle cx="298.20" cy="657.70" r="1.15" fill="#e86a40"/><circle cx="301.05" cy="657.70" r="1.15" fill="#f6ec9c"/><circle cx="303.90" cy="657.70" r="1.15" fill="#f0a850"/><circle cx="306.75" cy="657.70" r="1.15" fill="#f4d070"/><circle cx="309.60" cy="657.70" r="1.15" fill="#f8f0b8"/><circle cx="312.45" cy="657.70" r="1.15" fill="#f6ec9c"/><circle cx="315.30" cy="657.70" r="1.15" fill="#f0a850"/><circle cx="318.15" cy="657.70" r="1.15" fill="#f0a850"/><circle cx="321.00" cy="657.70" r="1.15" fill="#f8f0b8"/><circle cx="323.85" cy="657.70" r="1.15" fill="#f8f0b8"/><circle cx="326.70" cy="657.70" r="1.15" fill="#f0a850"/><circle cx="329.55" cy="657.70" r="1.15" fill="#f6ec9c"/><circle cx="332.40" cy="657.70" r="1.15" fill="#f0a850"/><circle cx="335.25" cy="657.70" r="1.15" fill="#f0a850"/><circle cx="338.10" cy="657.70" r="1.15" fill="#f0a850"/><circle cx="340.95" cy="657.70" r="1.15" fill="#f4d070"/><circle cx="343.80" cy="657.70" r="1.15" fill="#f4d070"/><circle cx="346.65" cy="657.70" r="1.15" fill="#e86a40"/><circle cx="349.50" cy="657.70" r="1.15" fill="#f4d070"/><circle cx="291.08" cy="665.11" r="1.15" fill="#f8f2c0"/><circle cx="301.05" cy="667.58" r="1.15" fill="#f8f2c0"/><circle cx="296.78" cy="679.93" r="1.15" fill="#f6ec9c"/><circle cx="322.43" cy="684.87" r="1.15" fill="#f8f2c0"/><circle cx="398.60" cy="583.60" r="1.15" fill="#e04858"/><circle cx="401.45" cy="583.60" r="1.15" fill="#fff2e2"/><circle cx="407.15" cy="583.60" r="1.15" fill="#c82878"/><circle cx="410.00" cy="583.60" r="1.15" fill="#f49484"/><circle cx="412.85" cy="583.60" r="1.15" fill="#f49484"/><circle cx="418.55" cy="583.60" r="1.15" fill="#e04858"/><circle cx="424.25" cy="583.60" r="1.15" fill="#f49484"/><circle cx="427.10" cy="583.60" r="1.15" fill="#e04858"/><circle cx="429.95" cy="583.60" r="1.15" fill="#fff2e2"/><circle cx="432.80" cy="583.60" r="1.15" fill="#fff2e2"/><circle cx="438.50" cy="583.60" r="1.15" fill="#f49484"/><circle cx="441.35" cy="583.60" r="1.15" fill="#c82878"/><circle cx="447.05" cy="583.60" r="1.15" fill="#c82878"/><circle cx="452.75" cy="583.60" r="1.15" fill="#f49484"/><circle cx="461.30" cy="583.60" r="1.15" fill="#fff2e2"/><circle cx="464.15" cy="583.60" r="1.15" fill="#c82878"/><circle cx="467.00" cy="583.60" r="1.15" fill="#c82878"/><circle cx="469.85" cy="583.60" r="1.15" fill="#c82878"/><circle cx="400.03" cy="586.07" r="1.15" fill="#fff2e2"/><circle cx="408.57" cy="586.07" r="1.15" fill="#e04858"/><circle cx="417.12" cy="586.07" r="1.15" fill="#e04858"/><circle cx="419.98" cy="586.07" r="1.15" fill="#f49484"/><circle cx="422.82" cy="586.07" r="1.15" fill="#e04858"/><circle cx="425.68" cy="586.07" r="1.15" fill="#f49484"/><circle cx="428.53" cy="586.07" r="1.15" fill="#c82878"/><circle cx="431.38" cy="586.07" r="1.15" fill="#fff2e2"/><circle cx="434.23" cy="586.07" r="1.15" fill="#c82878"/><circle cx="437.07" cy="586.07" r="1.15" fill="#f49484"/><circle cx="439.93" cy="586.07" r="1.15" fill="#fff2e2"/><circle cx="442.77" cy="586.07" r="1.15" fill="#f49484"/><circle cx="445.62" cy="586.07" r="1.15" fill="#e04858"/><circle cx="448.48" cy="586.07" r="1.15" fill="#e04858"/><circle cx="451.32" cy="586.07" r="1.15" fill="#fff2e2"/><circle cx="454.18" cy="586.07" r="1.15" fill="#e04858"/><circle cx="457.02" cy="586.07" r="1.15" fill="#e04858"/><circle cx="459.88" cy="586.07" r="1.15" fill="#c82878"/><circle cx="462.73" cy="586.07" r="1.15" fill="#f49484"/><circle cx="465.57" cy="586.07" r="1.15" fill="#e04858"/><circle cx="468.43" cy="586.07" r="1.15" fill="#f49484"/><circle cx="474.12" cy="586.07" r="1.15" fill="#e04858"/><circle cx="415.70" cy="588.54" r="1.15" fill="#e04858"/><circle cx="424.25" cy="588.54" r="1.15" fill="#e04858"/><circle cx="435.65" cy="588.54" r="1.15" fill="#f49484"/><circle cx="461.30" cy="588.54" r="1.15" fill="#e04858"/><circle cx="469.85" cy="588.54" r="1.15" fill="#f49484"/><circle cx="472.70" cy="588.54" r="1.15" fill="#e05060"/><circle cx="408.57" cy="591.01" r="1.15" fill="#e04858"/><circle cx="462.73" cy="591.01" r="1.15" fill="#c82878"/><circle cx="407.15" cy="593.48" r="1.15" fill="#e04858"/><circle cx="438.50" cy="593.48" r="1.15" fill="#e04858"/><circle cx="449.90" cy="593.48" r="1.15" fill="#e04858"/><circle cx="467.00" cy="593.48" r="1.15" fill="#f49484"/><circle cx="469.85" cy="593.48" r="1.15" fill="#c82878"/><circle cx="472.70" cy="593.48" r="1.15" fill="#fff2e2"/><circle cx="414.28" cy="595.95" r="1.15" fill="#e04858"/><circle cx="457.02" cy="595.95" r="1.15" fill="#c82878"/><circle cx="468.43" cy="595.95" r="1.15" fill="#c82878"/><circle cx="471.27" cy="595.95" r="1.15" fill="#fff2e2"/><circle cx="474.12" cy="595.95" r="1.15" fill="#e04858"/><circle cx="415.70" cy="598.42" r="1.15" fill="#c82878"/><circle cx="421.40" cy="598.42" r="1.15" fill="#fff2e2"/><circle cx="424.25" cy="598.42" r="1.15" fill="#e04858"/><circle cx="447.05" cy="598.42" r="1.15" fill="#c82878"/><circle cx="467.00" cy="598.42" r="1.15" fill="#c82878"/><circle cx="469.85" cy="598.42" r="1.15" fill="#c82878"/><circle cx="408.57" cy="600.89" r="1.15" fill="#e04858"/><circle cx="414.28" cy="600.89" r="1.15" fill="#e04858"/><circle cx="442.77" cy="600.89" r="1.15" fill="#c82878"/><circle cx="465.57" cy="600.89" r="1.15" fill="#fff2e2"/><circle cx="468.43" cy="600.89" r="1.15" fill="#c82878"/><circle cx="471.27" cy="600.89" r="1.15" fill="#c82878"/><circle cx="474.12" cy="600.89" r="1.15" fill="#c82878"/><circle cx="461.30" cy="603.36" r="1.15" fill="#c82878"/><circle cx="464.15" cy="603.36" r="1.15" fill="#c82878"/><circle cx="467.00" cy="603.36" r="1.15" fill="#fff2e2"/><circle cx="400.03" cy="605.83" r="1.15" fill="#f49484"/><circle cx="417.12" cy="605.83" r="1.15" fill="#c82878"/><circle cx="451.32" cy="605.83" r="1.15" fill="#e04858"/><circle cx="457.02" cy="605.83" r="1.15" fill="#fff2e2"/><circle cx="462.73" cy="605.83" r="1.15" fill="#fff2e2"/><circle cx="465.57" cy="605.83" r="1.15" fill="#fff2e2"/><circle cx="468.43" cy="605.83" r="1.15" fill="#e04858"/><circle cx="432.80" cy="608.30" r="1.15" fill="#f49484"/><circle cx="449.90" cy="608.30" r="1.15" fill="#f49484"/><circle cx="461.30" cy="608.30" r="1.15" fill="#e05060"/><circle cx="464.15" cy="608.30" r="1.15" fill="#e04858"/><circle cx="467.00" cy="608.30" r="1.15" fill="#e04858"/><circle cx="405.73" cy="610.77" r="1.15" fill="#f49484"/><circle cx="442.77" cy="610.77" r="1.15" fill="#f49484"/><circle cx="445.62" cy="610.77" r="1.15" fill="#e04858"/><circle cx="454.18" cy="610.77" r="1.15" fill="#e04858"/><circle cx="459.88" cy="610.77" r="1.15" fill="#e04858"/><circle cx="462.73" cy="610.77" r="1.15" fill="#f49484"/><circle cx="465.57" cy="610.77" r="1.15" fill="#e04858"/><circle cx="449.90" cy="613.24" r="1.15" fill="#e04858"/><circle cx="461.30" cy="613.24" r="1.15" fill="#e05060"/><circle cx="464.15" cy="613.24" r="1.15" fill="#e04858"/><circle cx="467.00" cy="613.24" r="1.15" fill="#c82878"/><circle cx="472.70" cy="613.24" r="1.15" fill="#c82878"/><circle cx="422.82" cy="615.71" r="1.15" fill="#c82878"/><circle cx="459.88" cy="615.71" r="1.15" fill="#e05060"/><circle cx="462.73" cy="615.71" r="1.15" fill="#c82878"/><circle cx="465.57" cy="615.71" r="1.15" fill="#e05060"/><circle cx="401.45" cy="618.18" r="1.15" fill="#e04858"/><circle cx="404.30" cy="618.18" r="1.15" fill="#fff2e2"/><circle cx="412.85" cy="618.18" r="1.15" fill="#f49484"/><circle cx="444.20" cy="618.18" r="1.15" fill="#c82878"/><circle cx="455.60" cy="618.18" r="1.15" fill="#c82878"/><circle cx="458.45" cy="618.18" r="1.15" fill="#e05060"/><circle cx="461.30" cy="618.18" r="1.15" fill="#e05060"/><circle cx="464.15" cy="618.18" r="1.15" fill="#fff2e2"/><circle cx="402.88" cy="620.65" r="1.15" fill="#c82878"/><circle cx="408.57" cy="620.65" r="1.15" fill="#c82878"/><circle cx="411.43" cy="620.65" r="1.15" fill="#c82878"/><circle cx="414.28" cy="620.65" r="1.15" fill="#f49484"/><circle cx="457.02" cy="620.65" r="1.15" fill="#c82878"/><circle cx="459.88" cy="620.65" r="1.15" fill="#fff2e2"/><circle cx="401.45" cy="623.12" r="1.15" fill="#f49484"/><circle cx="415.70" cy="623.12" r="1.15" fill="#f49484"/><circle cx="418.55" cy="623.12" r="1.15" fill="#c82878"/><circle cx="438.50" cy="623.12" r="1.15" fill="#c82878"/><circle cx="452.75" cy="623.12" r="1.15" fill="#e04858"/><circle cx="458.45" cy="623.12" r="1.15" fill="#e04858"/><circle cx="461.30" cy="623.12" r="1.15" fill="#fff2e2"/><circle cx="419.98" cy="625.59" r="1.15" fill="#e04858"/><circle cx="451.32" cy="625.59" r="1.15" fill="#f49484"/><circle cx="454.18" cy="625.59" r="1.15" fill="#c82878"/><circle cx="457.02" cy="625.59" r="1.15" fill="#e04858"/><circle cx="407.15" cy="628.06" r="1.15" fill="#fff2e2"/><circle cx="412.85" cy="628.06" r="1.15" fill="#e04858"/><circle cx="418.55" cy="628.06" r="1.15" fill="#e04858"/><circle cx="429.95" cy="628.06" r="1.15" fill="#fff2e2"/><circle cx="444.20" cy="628.06" r="1.15" fill="#fff2e2"/><circle cx="449.90" cy="628.06" r="1.15" fill="#e05060"/><circle cx="452.75" cy="628.06" r="1.15" fill="#c82878"/><circle cx="419.98" cy="630.53" r="1.15" fill="#fff2e2"/><circle cx="439.93" cy="630.53" r="1.15" fill="#f49484"/><circle cx="442.77" cy="630.53" r="1.15" fill="#c82878"/><circle cx="407.15" cy="633.00" r="1.15" fill="#c82878"/><circle cx="412.85" cy="633.00" r="1.15" fill="#f49484"/><circle cx="418.55" cy="633.00" r="1.15" fill="#c82878"/><circle cx="427.10" cy="633.00" r="1.15" fill="#c82878"/><circle cx="432.80" cy="633.00" r="1.15" fill="#e04858"/><circle cx="438.50" cy="633.00" r="1.15" fill="#c82878"/><circle cx="441.35" cy="633.00" r="1.15" fill="#e04858"/><circle cx="447.05" cy="633.00" r="1.15" fill="#e04858"/><circle cx="402.88" cy="635.47" r="1.15" fill="#e04858"/><circle cx="405.73" cy="635.47" r="1.15" fill="#c82878"/><circle cx="411.43" cy="635.47" r="1.15" fill="#fff2e2"/><circle cx="414.28" cy="635.47" r="1.15" fill="#f49484"/><circle cx="422.82" cy="635.47" r="1.15" fill="#e04858"/><circle cx="442.77" cy="635.47" r="1.15" fill="#fff2e2"/><circle cx="445.62" cy="635.47" r="1.15" fill="#f49484"/><circle cx="448.48" cy="635.47" r="1.15" fill="#c82878"/><circle cx="407.15" cy="637.94" r="1.15" fill="#fff2e2"/><circle cx="412.85" cy="637.94" r="1.15" fill="#e04858"/><circle cx="418.55" cy="637.94" r="1.15" fill="#fff2e2"/><circle cx="429.95" cy="637.94" r="1.15" fill="#c82878"/><circle cx="444.20" cy="637.94" r="1.15" fill="#f49484"/><circle cx="400.03" cy="640.41" r="1.15" fill="#c82878"/><circle cx="408.57" cy="640.41" r="1.15" fill="#fff2e2"/><circle cx="411.43" cy="640.41" r="1.15" fill="#c82878"/><circle cx="414.28" cy="640.41" r="1.15" fill="#f49484"/><circle cx="417.12" cy="640.41" r="1.15" fill="#f49484"/><circle cx="419.98" cy="640.41" r="1.15" fill="#f49484"/><circle cx="439.93" cy="640.41" r="1.15" fill="#c82878"/><circle cx="442.77" cy="640.41" r="1.15" fill="#fff2e2"/><circle cx="448.48" cy="640.41" r="1.15" fill="#f49484"/><circle cx="398.60" cy="642.88" r="1.15" fill="#e04858"/><circle cx="401.45" cy="642.88" r="1.15" fill="#fff2e2"/><circle cx="404.30" cy="642.88" r="1.15" fill="#f49484"/><circle cx="410.00" cy="642.88" r="1.15" fill="#fff2e2"/><circle cx="412.85" cy="642.88" r="1.15" fill="#d83068"/><circle cx="415.70" cy="642.88" r="1.15" fill="#d83068"/><circle cx="418.55" cy="642.88" r="1.15" fill="#f49484"/><circle cx="421.40" cy="642.88" r="1.15" fill="#f4a090"/><circle cx="424.25" cy="642.88" r="1.15" fill="#c82878"/><circle cx="427.10" cy="642.88" r="1.15" fill="#f4a090"/><circle cx="429.95" cy="642.88" r="1.15" fill="#c82878"/><circle cx="432.80" cy="642.88" r="1.15" fill="#fff2e2"/><circle cx="435.65" cy="642.88" r="1.15" fill="#fff2e2"/><circle cx="438.50" cy="642.88" r="1.15" fill="#f4a090"/><circle cx="441.35" cy="642.88" r="1.15" fill="#e04858"/><circle cx="444.20" cy="642.88" r="1.15" fill="#e04858"/><circle cx="447.05" cy="642.88" r="1.15" fill="#c82878"/><circle cx="400.03" cy="645.35" r="1.15" fill="#d83068"/><circle cx="402.88" cy="645.35" r="1.15" fill="#d83068"/><circle cx="405.73" cy="645.35" r="1.15" fill="#c82878"/><circle cx="411.43" cy="645.35" r="1.15" fill="#fff2e2"/><circle cx="414.28" cy="645.35" r="1.15" fill="#f4a090"/><circle cx="419.98" cy="645.35" r="1.15" fill="#fff2e2"/><circle cx="422.82" cy="645.35" r="1.15" fill="#fff2e2"/><circle cx="425.68" cy="645.35" r="1.15" fill="#d83068"/><circle cx="428.53" cy="645.35" r="1.15" fill="#f49484"/><circle cx="431.38" cy="645.35" r="1.15" fill="#c82878"/><circle cx="434.23" cy="645.35" r="1.15" fill="#f49484"/><circle cx="437.07" cy="645.35" r="1.15" fill="#c82878"/><circle cx="439.93" cy="645.35" r="1.15" fill="#e04858"/><circle cx="442.77" cy="645.35" r="1.15" fill="#f49484"/><circle cx="445.62" cy="645.35" r="1.15" fill="#e04858"/><circle cx="448.48" cy="645.35" r="1.15" fill="#f4a090"/><circle cx="398.60" cy="647.82" r="1.15" fill="#f49484"/><circle cx="401.45" cy="647.82" r="1.15" fill="#f49484"/><circle cx="404.30" cy="647.82" r="1.15" fill="#fff2e2"/><circle cx="407.15" cy="647.82" r="1.15" fill="#fff2e2"/><circle cx="410.00" cy="647.82" r="1.15" fill="#f4a090"/><circle cx="412.85" cy="647.82" r="1.15" fill="#f49484"/><circle cx="418.55" cy="647.82" r="1.15" fill="#f4a090"/><circle cx="421.40" cy="647.82" r="1.15" fill="#f49484"/><circle cx="424.25" cy="647.82" r="1.15" fill="#e04858"/><circle cx="427.10" cy="647.82" r="1.15" fill="#fff2e2"/><circle cx="429.95" cy="647.82" r="1.15" fill="#f4a090"/><circle cx="432.80" cy="647.82" r="1.15" fill="#c82878"/><circle cx="438.50" cy="647.82" r="1.15" fill="#fff2e2"/><circle cx="441.35" cy="647.82" r="1.15" fill="#f49484"/><circle cx="444.20" cy="647.82" r="1.15" fill="#e04858"/><circle cx="449.90" cy="647.82" r="1.15" fill="#e04858"/><circle cx="400.03" cy="650.29" r="1.15" fill="#f4a090"/><circle cx="402.88" cy="650.29" r="1.15" fill="#c82878"/><circle cx="405.73" cy="650.29" r="1.15" fill="#f4a090"/><circle cx="408.57" cy="650.29" r="1.15" fill="#fff2e2"/><circle cx="411.43" cy="650.29" r="1.15" fill="#f4a090"/><circle cx="414.28" cy="650.29" r="1.15" fill="#fff2e2"/><circle cx="417.12" cy="650.29" r="1.15" fill="#fff2e2"/><circle cx="419.98" cy="650.29" r="1.15" fill="#d83068"/><circle cx="422.82" cy="650.29" r="1.15" fill="#fff2e2"/><circle cx="425.68" cy="650.29" r="1.15" fill="#d83068"/><circle cx="428.53" cy="650.29" r="1.15" fill="#c82878"/><circle cx="431.38" cy="650.29" r="1.15" fill="#fff2e2"/><circle cx="434.23" cy="650.29" r="1.15" fill="#d83068"/><circle cx="437.07" cy="650.29" r="1.15" fill="#c82878"/><circle cx="439.93" cy="650.29" r="1.15" fill="#e04858"/><circle cx="442.77" cy="650.29" r="1.15" fill="#c82878"/><circle cx="445.62" cy="650.29" r="1.15" fill="#f4a090"/><circle cx="448.48" cy="650.29" r="1.15" fill="#fff2e2"/><circle cx="451.32" cy="650.29" r="1.15" fill="#fff2e2"/><circle cx="454.18" cy="650.29" r="1.15" fill="#c82878"/><circle cx="471.27" cy="650.29" r="1.15" fill="#f49484"/><circle cx="474.12" cy="650.29" r="1.15" fill="#f49484"/><circle cx="398.60" cy="652.76" r="1.15" fill="#c82878"/><circle cx="401.45" cy="652.76" r="1.15" fill="#d83068"/><circle cx="407.15" cy="652.76" r="1.15" fill="#f49484"/><circle cx="410.00" cy="652.76" r="1.15" fill="#fff2e2"/><circle cx="412.85" cy="652.76" r="1.15" fill="#d83068"/><circle cx="415.70" cy="652.76" r="1.15" fill="#c82878"/><circle cx="418.55" cy="652.76" r="1.15" fill="#d83068"/><circle cx="421.40" cy="652.76" r="1.15" fill="#fff2e2"/><circle cx="424.25" cy="652.76" r="1.15" fill="#fff2e2"/><circle cx="427.10" cy="652.76" r="1.15" fill="#c82878"/><circle cx="429.95" cy="652.76" r="1.15" fill="#c82878"/><circle cx="432.80" cy="652.76" r="1.15" fill="#f49484"/><circle cx="435.65" cy="652.76" r="1.15" fill="#d83068"/><circle cx="438.50" cy="652.76" r="1.15" fill="#fff2e2"/><circle cx="441.35" cy="652.76" r="1.15" fill="#d83068"/><circle cx="444.20" cy="652.76" r="1.15" fill="#fff2e2"/><circle cx="447.05" cy="652.76" r="1.15" fill="#f4a090"/><circle cx="449.90" cy="652.76" r="1.15" fill="#fff2e2"/><circle cx="452.75" cy="652.76" r="1.15" fill="#f49484"/><circle cx="455.60" cy="652.76" r="1.15" fill="#c82878"/><circle cx="458.45" cy="652.76" r="1.15" fill="#fff2e2"/><circle cx="461.30" cy="652.76" r="1.15" fill="#e04858"/><circle cx="464.15" cy="652.76" r="1.15" fill="#f49484"/><circle cx="467.00" cy="652.76" r="1.15" fill="#fff2e2"/><circle cx="472.70" cy="652.76" r="1.15" fill="#c82878"/><circle cx="400.03" cy="655.23" r="1.15" fill="#fff2e2"/><circle cx="402.88" cy="655.23" r="1.15" fill="#f4a090"/><circle cx="405.73" cy="655.23" r="1.15" fill="#f4a090"/><circle cx="408.57" cy="655.23" r="1.15" fill="#f49484"/><circle cx="411.43" cy="655.23" r="1.15" fill="#d83068"/><circle cx="414.28" cy="655.23" r="1.15" fill="#d83068"/><circle cx="419.98" cy="655.23" r="1.15" fill="#f49484"/><circle cx="422.82" cy="655.23" r="1.15" fill="#e04858"/><circle cx="428.53" cy="655.23" r="1.15" fill="#fff2e2"/><circle cx="434.23" cy="655.23" r="1.15" fill="#c82878"/><circle cx="437.07" cy="655.23" r="1.15" fill="#d83068"/><circle cx="439.93" cy="655.23" r="1.15" fill="#c82878"/><circle cx="442.77" cy="655.23" r="1.15" fill="#d83068"/><circle cx="445.62" cy="655.23" r="1.15" fill="#d83068"/><circle cx="448.48" cy="655.23" r="1.15" fill="#f4a090"/><circle cx="451.32" cy="655.23" r="1.15" fill="#f49484"/><circle cx="454.18" cy="655.23" r="1.15" fill="#f49484"/><circle cx="457.02" cy="655.23" r="1.15" fill="#d83068"/><circle cx="459.88" cy="655.23" r="1.15" fill="#e04858"/><circle cx="462.73" cy="655.23" r="1.15" fill="#f49484"/><circle cx="465.57" cy="655.23" r="1.15" fill="#d83068"/><circle cx="468.43" cy="655.23" r="1.15" fill="#d83068"/><circle cx="471.27" cy="655.23" r="1.15" fill="#f49484"/><circle cx="474.12" cy="655.23" r="1.15" fill="#fff2e2"/><circle cx="398.60" cy="657.70" r="1.15" fill="#e04858"/><circle cx="401.45" cy="657.70" r="1.15" fill="#fff2e2"/><circle cx="404.30" cy="657.70" r="1.15" fill="#d83068"/><circle cx="410.00" cy="657.70" r="1.15" fill="#c82878"/><circle cx="412.85" cy="657.70" r="1.15" fill="#f49484"/><circle cx="415.70" cy="657.70" r="1.15" fill="#e04858"/><circle cx="421.40" cy="657.70" r="1.15" fill="#f4a090"/><circle cx="424.25" cy="657.70" r="1.15" fill="#f4a090"/><circle cx="427.10" cy="657.70" r="1.15" fill="#d83068"/><circle cx="429.95" cy="657.70" r="1.15" fill="#f4a090"/><circle cx="432.80" cy="657.70" r="1.15" fill="#e04858"/><circle cx="435.65" cy="657.70" r="1.15" fill="#d83068"/><circle cx="438.50" cy="657.70" r="1.15" fill="#c82878"/><circle cx="441.35" cy="657.70" r="1.15" fill="#f49484"/><circle cx="444.20" cy="657.70" r="1.15" fill="#d83068"/><circle cx="447.05" cy="657.70" r="1.15" fill="#f49484"/><circle cx="449.90" cy="657.70" r="1.15" fill="#f49484"/><circle cx="452.75" cy="657.70" r="1.15" fill="#fff2e2"/><circle cx="455.60" cy="657.70" r="1.15" fill="#fff2e2"/><circle cx="458.45" cy="657.70" r="1.15" fill="#d83068"/><circle cx="461.30" cy="657.70" r="1.15" fill="#d83068"/><circle cx="464.15" cy="657.70" r="1.15" fill="#fff2e2"/><circle cx="467.00" cy="657.70" r="1.15" fill="#d83068"/><circle cx="414.28" cy="660.17" r="1.15" fill="#f49484"/><circle cx="401.45" cy="662.64" r="1.15" fill="#f49484"/><circle cx="421.40" cy="662.64" r="1.15" fill="#f49484"/><circle cx="427.10" cy="662.64" r="1.15" fill="#e04858"/><circle cx="438.50" cy="662.64" r="1.15" fill="#c82878"/><circle cx="417.12" cy="665.11" r="1.15" fill="#fff2e2"/><circle cx="431.38" cy="665.11" r="1.15" fill="#fff2e2"/><circle cx="429.95" cy="667.58" r="1.15" fill="#e04858"/><circle cx="432.80" cy="667.58" r="1.15" fill="#f49484"/><circle cx="447.05" cy="667.58" r="1.15" fill="#fff2e2"/><circle cx="467.00" cy="667.58" r="1.15" fill="#c82878"/><circle cx="408.57" cy="670.05" r="1.15" fill="#f49484"/><circle cx="414.28" cy="670.05" r="1.15" fill="#c82878"/><circle cx="445.62" cy="670.05" r="1.15" fill="#fff2e2"/><circle cx="418.55" cy="672.52" r="1.15" fill="#f49484"/><circle cx="429.95" cy="672.52" r="1.15" fill="#e04858"/><circle cx="444.20" cy="672.52" r="1.15" fill="#fff2e2"/><circle cx="447.05" cy="672.52" r="1.15" fill="#fff2e2"/><circle cx="411.43" cy="674.99" r="1.15" fill="#f49484"/><circle cx="454.18" cy="674.99" r="1.15" fill="#f49484"/><circle cx="457.02" cy="674.99" r="1.15" fill="#e04858"/><circle cx="398.60" cy="677.46" r="1.15" fill="#c82878"/><circle cx="410.00" cy="677.46" r="1.15" fill="#e04858"/><circle cx="415.70" cy="677.46" r="1.15" fill="#c82878"/><circle cx="427.10" cy="677.46" r="1.15" fill="#e04858"/><circle cx="435.65" cy="677.46" r="1.15" fill="#f49484"/><circle cx="455.60" cy="677.46" r="1.15" fill="#c82878"/><circle cx="428.53" cy="679.93" r="1.15" fill="#fff2e2"/><circle cx="451.32" cy="679.93" r="1.15" fill="#e04858"/><circle cx="454.18" cy="679.93" r="1.15" fill="#c82878"/><circle cx="415.70" cy="682.40" r="1.15" fill="#f49484"/><circle cx="421.40" cy="682.40" r="1.15" fill="#c82878"/><circle cx="458.45" cy="682.40" r="1.15" fill="#c82878"/><circle cx="411.43" cy="684.87" r="1.15" fill="#e04858"/><circle cx="425.68" cy="684.87" r="1.15" fill="#fff2e2"/><circle cx="448.48" cy="684.87" r="1.15" fill="#c82878"/><circle cx="462.73" cy="684.87" r="1.15" fill="#c82878"/><circle cx="251.4" cy="469.8" r="4.1" fill="#3d9899"/><text x="257" y="473.40000000000003" font-size="10.2" text-anchor="start" font-weight="normal" fill="#2b2b2b" >D7</text><circle cx="251.4" cy="482.5" r="4.1" fill="#62c19a"/><text x="257" y="486.1" font-size="10.2" text-anchor="start" font-weight="normal" fill="#2b2b2b" >D8</text><circle cx="251.4" cy="496.0" r="4.1" fill="#93d09a"/><text x="257" y="499.6" font-size="10.2" text-anchor="start" font-weight="normal" fill="#2b2b2b" >D9</text><circle cx="251.4" cy="622.7" r="4.1" fill="#3d9899"/><text x="257" y="626.3000000000001" font-size="10.2" text-anchor="start" font-weight="normal" fill="#2b2b2b" >D7</text><circle cx="251.4" cy="635.8" r="4.1" fill="#62c19a"/><text x="257" y="639.4" font-size="10.2" text-anchor="start" font-weight="normal" fill="#2b2b2b" >D8</text><circle cx="251.4" cy="649.7" r="4.1" fill="#93d09a"/><text x="257" y="653.3000000000001" font-size="10.2" text-anchor="start" font-weight="normal" fill="#2b2b2b" >D9</text><text x="508.5" y="398.5" font-size="15" text-anchor="start" font-weight="bold" fill="#111" >g</text><text x="616.4" y="404.8" font-size="10.2" text-anchor="middle" font-weight="normal" fill="#2b2b2b" >Immune spot</text><text x="616.4" y="416.8" font-size="10.2" text-anchor="middle" font-weight="normal" fill="#2b2b2b" >by H&amp;E staining</text><line x1="561.1" y1="418.5" x2="561.1" y2="526.7" stroke="#555" stroke-width="0.9" /><line x1="561.1" y1="526.7" x2="670" y2="526.7" stroke="#555" stroke-width="0.9" /><line x1="558.5" y1="526.7" x2="561.1" y2="526.7" stroke="#555" stroke-width="0.8" /><text x="558.1" y="529.9000000000001" font-size="9" text-anchor="end" font-weight="normal" fill="#2b2b2b" >0</text><line x1="558.5" y1="511.6" x2="561.1" y2="511.6" stroke="#555" stroke-width="0.8" /><text x="558.1" y="514.8000000000001" font-size="9" text-anchor="end" font-weight="normal" fill="#2b2b2b" >10</text><line x1="558.5" y1="496.50000000000006" x2="561.1" y2="496.50000000000006" stroke="#555" stroke-width="0.8" /><text x="558.1" y="499.70000000000005" font-size="9" text-anchor="end" font-weight="normal" fill="#2b2b2b" >20</text><line x1="558.5" y1="481.40000000000003" x2="561.1" y2="481.40000000000003" stroke="#555" stroke-width="0.8" /><text x="558.1" y="484.6" font-size="9" text-anchor="end" font-weight="normal" fill="#2b2b2b" >30</text><line x1="558.5" y1="466.30000000000007" x2="561.1" y2="466.30000000000007" stroke="#555" stroke-width="0.8" /><text x="558.1" y="469.50000000000006" font-size="9" text-anchor="end" font-weight="normal" fill="#2b2b2b" >40</text><line x1="558.5" y1="451.20000000000005" x2="561.1" y2="451.20000000000005" stroke="#555" stroke-width="0.8" /><text x="558.1" y="454.40000000000003" font-size="9" text-anchor="end" font-weight="normal" fill="#2b2b2b" >50</text><line x1="558.5" y1="436.1" x2="561.1" y2="436.1" stroke="#555" stroke-width="0.8" /><text x="558.1" y="439.3" font-size="9" text-anchor="end" font-weight="normal" fill="#2b2b2b" >60</text><line x1="558.5" y1="421.00000000000006" x2="561.1" y2="421.00000000000006" stroke="#555" stroke-width="0.8" /><text x="558.1" y="424.20000000000005" font-size="9" text-anchor="end" font-weight="normal" fill="#2b2b2b" >70</text><text transform="translate(545.6,474) rotate(-90)" font-size="10.1" text-anchor="middle" fill="#2b2b2b">% of immune spots</text><rect x="562.10" y="460.26" width="8.8" height="66.44" fill="#3d9899" stroke="#555" stroke-width="0.7"/><line x1="566.5" y1="426.2850000000001" x2="566.5" y2="494.23500000000007" stroke="#444" stroke-width="0.7" /><line x1="564.5" y1="426.2850000000001" x2="568.5" y2="426.2850000000001" stroke="#444" stroke-width="0.7" /><line x1="564.5" y1="494.23500000000007" x2="568.5" y2="494.23500000000007" stroke="#444" stroke-width="0.7" /><circle cx="566.50" cy="426.29" r="1.5" fill="#3d9899" stroke="#444" stroke-width="0.4"/><circle cx="566.50" cy="464.79" r="1.5" fill="#3d9899" stroke="#444" stroke-width="0.4"/><circle cx="566.50" cy="490.46" r="1.5" fill="#3d9899" stroke="#444" stroke-width="0.4"/><text transform="translate(570.1,529.2) rotate(-90)" font-size="10.2" text-anchor="end" fill="#2b2b2b">D9</text><rect x="572.90" y="514.62" width="8.8" height="12.08" fill="#62c19a" stroke="#555" stroke-width="0.7"/><line x1="577.3" y1="508.58000000000004" x2="577.3" y2="520.6600000000001" stroke="#444" stroke-width="0.7" /><line x1="575.3" y1="508.58000000000004" x2="579.3" y2="508.58000000000004" stroke="#444" stroke-width="0.7" /><line x1="575.3" y1="520.6600000000001" x2="579.3" y2="520.6600000000001" stroke="#444" stroke-width="0.7" /><circle cx="577.30" cy="507.07" r="1.5" fill="#62c19a" stroke="#444" stroke-width="0.4"/><circle cx="577.30" cy="508.58" r="1.5" fill="#62c19a" stroke="#444" stroke-width="0.4"/><circle cx="577.30" cy="516.13" r="1.5" fill="#62c19a" stroke="#444" stroke-width="0.4"/><circle cx="577.30" cy="526.70" r="1.5" fill="#62c19a" stroke="#444" stroke-width="0.4"/><text transform="translate(580.9,529.2) rotate(-90)" font-size="10.2" text-anchor="end" fill="#2b2b2b">D8</text><rect x="583.70" y="517.34" width="8.8" height="9.36" fill="#93d09a" stroke="#555" stroke-width="0.7"/><line x1="588.1" y1="510.09000000000003" x2="588.1" y2="524.4350000000001" stroke="#444" stroke-width="0.7" /><line x1="586.1" y1="510.09000000000003" x2="590.1" y2="510.09000000000003" stroke="#444" stroke-width="0.7" /><line x1="586.1" y1="524.4350000000001" x2="590.1" y2="524.4350000000001" stroke="#444" stroke-width="0.7" /><circle cx="588.10" cy="507.07" r="1.5" fill="#93d09a" stroke="#444" stroke-width="0.4"/><circle cx="588.10" cy="517.64" r="1.5" fill="#93d09a" stroke="#444" stroke-width="0.4"/><circle cx="588.10" cy="520.66" r="1.5" fill="#93d09a" stroke="#444" stroke-width="0.4"/><text transform="translate(591.7,529.2) rotate(-90)" font-size="10.2" text-anchor="end" fill="#2b2b2b">D7</text><rect x="594.50" y="525.19" width="8.8" height="1.51" fill="#bb6322" stroke="#555" stroke-width="0.7"/><line x1="598.9" y1="521.4150000000001" x2="598.9" y2="525.19" stroke="#444" stroke-width="0.7" /><line x1="596.9" y1="521.4150000000001" x2="600.9" y2="521.4150000000001" stroke="#444" stroke-width="0.7" /><line x1="596.9" y1="525.19" x2="600.9" y2="525.19" stroke="#444" stroke-width="0.7" /><circle cx="598.90" cy="521.42" r="1.5" fill="#bb6322" stroke="#444" stroke-width="0.4"/><circle cx="598.90" cy="525.95" r="1.5" fill="#bb6322" stroke="#444" stroke-width="0.4"/><text transform="translate(602.5,529.2) rotate(-90)" font-size="10.2" text-anchor="end" fill="#2b2b2b">D4</text><rect x="605.30" y="525.34" width="8.8" height="1.36" fill="#c9407f" stroke="#555" stroke-width="0.7"/><line x1="609.7" y1="522.1700000000001" x2="609.7" y2="525.341" stroke="#444" stroke-width="0.7" /><line x1="607.7" y1="522.1700000000001" x2="611.7" y2="522.1700000000001" stroke="#444" stroke-width="0.7" /><line x1="607.7" y1="525.341" x2="611.7" y2="525.341" stroke="#444" stroke-width="0.7" /><circle cx="609.70" cy="521.42" r="1.5" fill="#c9407f" stroke="#444" stroke-width="0.4"/><circle cx="609.70" cy="525.95" r="1.5" fill="#c9407f" stroke="#444" stroke-width="0.4"/><text transform="translate(613.3000000000001,529.2) rotate(-90)" font-size="10.2" text-anchor="end" fill="#2b2b2b">D3</text><rect x="616.10" y="525.34" width="8.8" height="1.36" fill="#f5c190" stroke="#555" stroke-width="0.7"/><line x1="620.5" y1="524.4350000000001" x2="620.5" y2="525.341" stroke="#444" stroke-width="0.7" /><line x1="618.5" y1="524.4350000000001" x2="622.5" y2="524.4350000000001" stroke="#444" stroke-width="0.7" /><line x1="618.5" y1="525.341" x2="622.5" y2="525.341" stroke="#444" stroke-width="0.7" /><circle cx="620.50" cy="524.44" r="1.5" fill="#f5c190" stroke="#444" stroke-width="0.4"/><circle cx="620.50" cy="525.95" r="1.5" fill="#f5c190" stroke="#444" stroke-width="0.4"/><text transform="translate(624.1,529.2) rotate(-90)" font-size="10.2" text-anchor="end" fill="#2b2b2b">D6</text><rect x="626.90" y="525.49" width="8.8" height="1.21" fill="#eea243" stroke="#555" stroke-width="0.7"/><line x1="631.3000000000001" y1="523.6800000000001" x2="631.3000000000001" y2="525.4920000000001" stroke="#444" stroke-width="0.7" /><line x1="629.3000000000001" y1="523.6800000000001" x2="633.3000000000001" y2="523.6800000000001" stroke="#444" stroke-width="0.7" /><line x1="629.3000000000001" y1="525.4920000000001" x2="633.3000000000001" y2="525.4920000000001" stroke="#444" stroke-width="0.7" /><circle cx="631.30" cy="524.44" r="1.5" fill="#eea243" stroke="#444" stroke-width="0.4"/><circle cx="631.30" cy="525.95" r="1.5" fill="#eea243" stroke="#444" stroke-width="0.4"/><text transform="translate(634.9000000000001,529.2) rotate(-90)" font-size="10.2" text-anchor="end" fill="#2b2b2b">D5</text><rect x="637.70" y="525.79" width="8.8" height="0.91" fill="#6b2788" stroke="#555" stroke-width="0.7"/><line x1="642.1" y1="524.4350000000001" x2="642.1" y2="525.7940000000001" stroke="#444" stroke-width="0.7" /><line x1="640.1" y1="524.4350000000001" x2="644.1" y2="524.4350000000001" stroke="#444" stroke-width="0.7" /><line x1="640.1" y1="525.7940000000001" x2="644.1" y2="525.7940000000001" stroke="#444" stroke-width="0.7" /><circle cx="642.10" cy="523.68" r="1.5" fill="#6b2788" stroke="#444" stroke-width="0.4"/><circle cx="642.10" cy="526.25" r="1.5" fill="#6b2788" stroke="#444" stroke-width="0.4"/><text transform="translate(645.7,529.2) rotate(-90)" font-size="10.2" text-anchor="end" fill="#2b2b2b">D1</text><rect x="648.50" y="526.40" width="8.8" height="0.30" fill="#46226c" stroke="#555" stroke-width="0.7"/><circle cx="652.90" cy="526.25" r="1.5" fill="#46226c" stroke="#444" stroke-width="0.4"/><text transform="translate(656.5,529.2) rotate(-90)" font-size="10.2" text-anchor="end" fill="#2b2b2b">D0</text><rect x="659.30" y="526.55" width="8.8" height="0.15" fill="#8b2483" stroke="#555" stroke-width="0.7"/><circle cx="663.70" cy="526.40" r="1.5" fill="#8b2483" stroke="#444" stroke-width="0.4"/><text transform="translate(667.3000000000001,529.2) rotate(-90)" font-size="10.2" text-anchor="end" fill="#2b2b2b">D2</text><text x="509" y="562.7" font-size="15" text-anchor="start" font-weight="bold" fill="#111" >i</text><text x="614.8" y="564.6" font-size="10.2" text-anchor="middle" font-weight="normal" fill="#2b2b2b" >Immune spots</text><text x="614.8" y="577.1" font-size="10" text-anchor="middle" fill="#2b2b2b">by CD3<tspan font-size="6.5" dy="-3.5">+</tspan><tspan dy="3.5"> IF staining</tspan></text><line x1="560.9" y1="581" x2="560.9" y2="686.3" stroke="#555" stroke-width="0.9" /><line x1="560.9" y1="686.3" x2="669.2" y2="686.3" stroke="#555" stroke-width="0.9" /><line x1="558.3" y1="686.3" x2="560.9" y2="686.3" stroke="#555" stroke-width="0.8" /><text x="557.9" y="689.5" font-size="9" text-anchor="end" font-weight="normal" fill="#2b2b2b" >0</text><line x1="558.3" y1="672.3399999999999" x2="560.9" y2="672.3399999999999" stroke="#555" stroke-width="0.8" /><text x="557.9" y="675.54" font-size="9" text-anchor="end" font-weight="normal" fill="#2b2b2b" >10</text><line x1="558.3" y1="658.38" x2="560.9" y2="658.38" stroke="#555" stroke-width="0.8" /><text x="557.9" y="661.58" font-size="9" text-anchor="end" font-weight="normal" fill="#2b2b2b" >20</text><line x1="558.3" y1="644.42" x2="560.9" y2="644.42" stroke="#555" stroke-width="0.8" /><text x="557.9" y="647.62" font-size="9" text-anchor="end" font-weight="normal" fill="#2b2b2b" >30</text><line x1="558.3" y1="630.4599999999999" x2="560.9" y2="630.4599999999999" stroke="#555" stroke-width="0.8" /><text x="557.9" y="633.66" font-size="9" text-anchor="end" font-weight="normal" fill="#2b2b2b" >40</text><line x1="558.3" y1="616.5" x2="560.9" y2="616.5" stroke="#555" stroke-width="0.8" /><text x="557.9" y="619.7" font-size="9" text-anchor="end" font-weight="normal" fill="#2b2b2b" >50</text><line x1="558.3" y1="602.54" x2="560.9" y2="602.54" stroke="#555" stroke-width="0.8" /><text x="557.9" y="605.74" font-size="9" text-anchor="end" font-weight="normal" fill="#2b2b2b" >60</text><line x1="558.3" y1="588.5799999999999" x2="560.9" y2="588.5799999999999" stroke="#555" stroke-width="0.8" /><text x="557.9" y="591.78" font-size="9" text-anchor="end" font-weight="normal" fill="#2b2b2b" >70</text><text transform="translate(545.4,637) rotate(-90)" font-size="10.1" text-anchor="middle" fill="#2b2b2b">% of immune spots</text><rect x="561.90" y="585.51" width="8.8" height="100.79" fill="#3d9899" stroke="#555" stroke-width="0.7"/><text transform="translate(569.9,688.8) rotate(-90)" font-size="10.2" text-anchor="end" fill="#2b2b2b">D9</text><rect x="572.70" y="589.14" width="8.8" height="97.16" fill="#62c19a" stroke="#555" stroke-width="0.7"/><text transform="translate(580.6999999999999,688.8) rotate(-90)" font-size="10.2" text-anchor="end" fill="#2b2b2b">D8</text><rect x="583.50" y="599.19" width="8.8" height="87.11" fill="#93d09a" stroke="#555" stroke-width="0.7"/><text transform="translate(591.5,688.8) rotate(-90)" font-size="10.2" text-anchor="end" fill="#2b2b2b">D7</text><rect x="594.30" y="620.69" width="8.8" height="65.61" fill="#f5c190" stroke="#555" stroke-width="0.7"/><text transform="translate(602.3,688.8) rotate(-90)" font-size="10.2" text-anchor="end" fill="#2b2b2b">D6</text><rect x="605.10" y="638.00" width="8.8" height="48.30" fill="#eea243" stroke="#555" stroke-width="0.7"/><text transform="translate(613.1,688.8) rotate(-90)" font-size="10.2" text-anchor="end" fill="#2b2b2b">D5</text><rect x="615.90" y="654.33" width="8.8" height="31.97" fill="#bb6322" stroke="#555" stroke-width="0.7"/><text transform="translate(623.9,688.8) rotate(-90)" font-size="10.2" text-anchor="end" fill="#2b2b2b">D4</text><rect x="626.70" y="663.96" width="8.8" height="22.34" fill="#c9407f" stroke="#555" stroke-width="0.7"/><text transform="translate(634.7,688.8) rotate(-90)" font-size="10.2" text-anchor="end" fill="#2b2b2b">D3</text><rect x="637.50" y="674.99" width="8.8" height="11.31" fill="#8b2483" stroke="#555" stroke-width="0.7"/><text transform="translate(645.5,688.8) rotate(-90)" font-size="10.2" text-anchor="end" fill="#2b2b2b">D2</text><rect x="648.30" y="679.04" width="8.8" height="7.26" fill="#6b2788" stroke="#555" stroke-width="0.7"/><text transform="translate(656.3,688.8) rotate(-90)" font-size="10.2" text-anchor="end" fill="#2b2b2b">D1</text><rect x="659.10" y="679.32" width="8.8" height="6.98" fill="#46226c" stroke="#555" stroke-width="0.7"/><text transform="translate(667.1,688.8) rotate(-90)" font-size="10.2" text-anchor="end" fill="#2b2b2b">D0</text>
</svg></body></html>
